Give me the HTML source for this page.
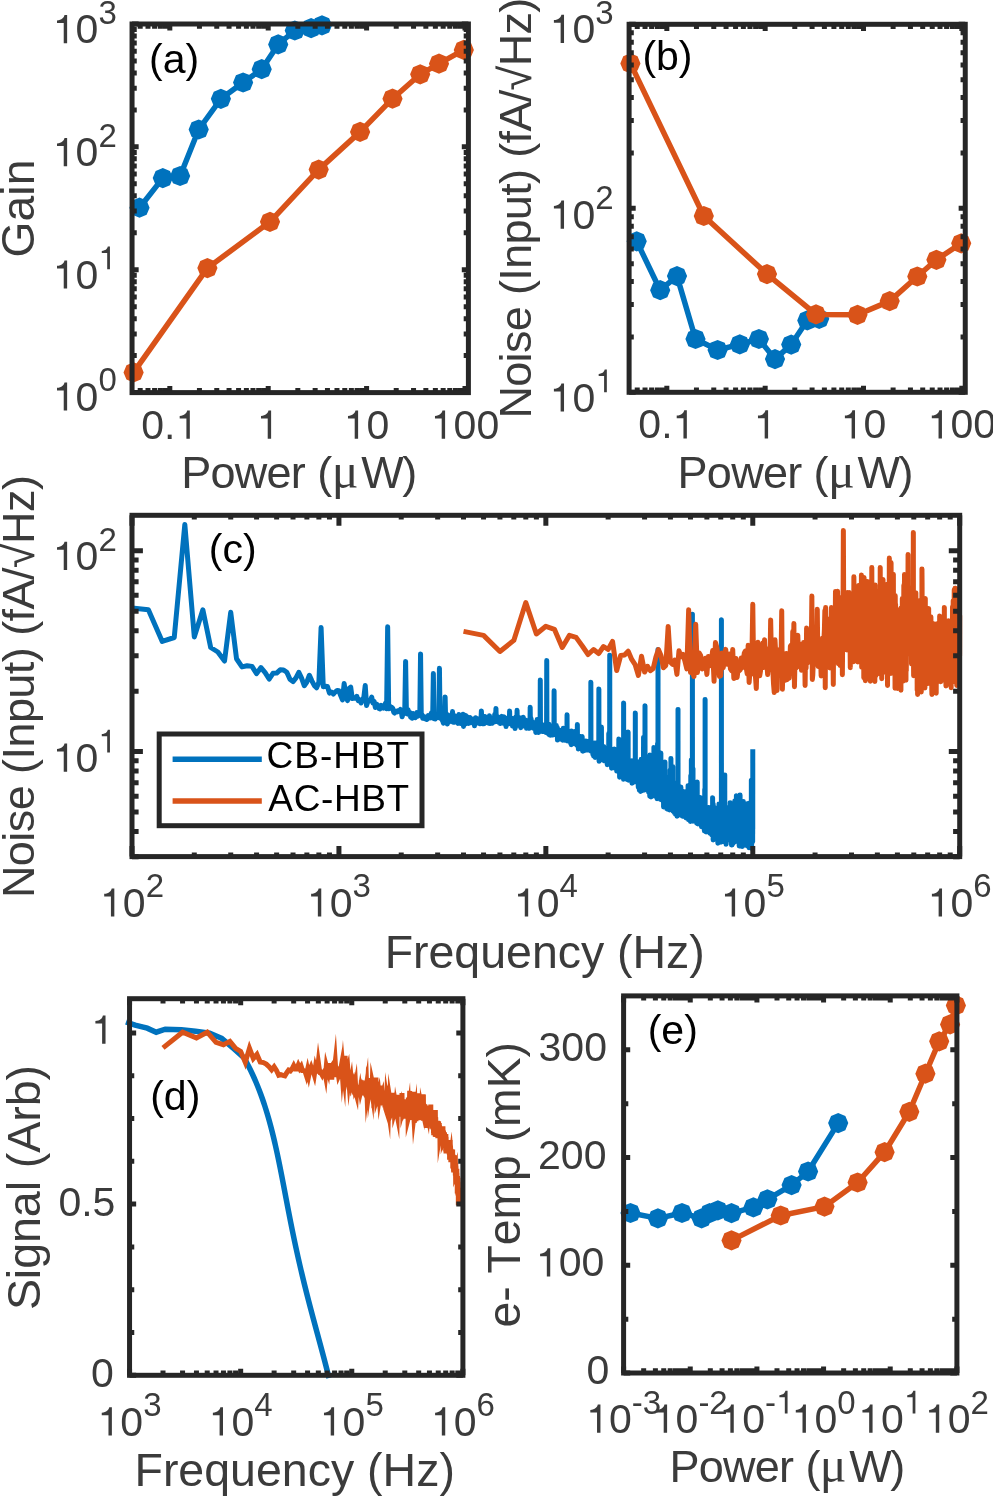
<!DOCTYPE html>
<html><head><meta charset="utf-8"><style>
html,body{margin:0;padding:0;background:#fff;overflow:hidden;}
svg{display:block;font-family:"Liberation Sans",sans-serif;font-kerning:none;will-change:transform;}
</style></head><body>
<svg width="993" height="1498" viewBox="0 0 993 1498">
<rect width="993" height="1498" fill="#fff"/>
<path d="M139.5 207.7 L162.8 178.1 L180.1 176 L198.7 129.5 L220.9 98.8 L243.1 82.5 L261.7 69.2 L278.2 44.4 L294.8 30.5 L311.1 28.1 L322 25.3" stroke="#0072BD" stroke-width="5.5" fill="none" stroke-linejoin="round" stroke-linecap="butt"/>
<path d="M139.5 197.6 L132.36 200.56 L129.4 207.7 L132.36 214.84 L139.5 217.8 L146.64 214.84 L149.6 207.7 L146.64 200.56ZM162.8 168 L155.66 170.96 L152.7 178.1 L155.66 185.24 L162.8 188.2 L169.94 185.24 L172.9 178.1 L169.94 170.96ZM180.1 165.9 L172.96 168.86 L170 176 L172.96 183.14 L180.1 186.1 L187.24 183.14 L190.2 176 L187.24 168.86ZM198.7 119.4 L191.56 122.36 L188.6 129.5 L191.56 136.64 L198.7 139.6 L205.84 136.64 L208.8 129.5 L205.84 122.36ZM220.9 88.7 L213.76 91.66 L210.8 98.8 L213.76 105.94 L220.9 108.9 L228.04 105.94 L231 98.8 L228.04 91.66ZM243.1 72.4 L235.96 75.36 L233 82.5 L235.96 89.64 L243.1 92.6 L250.24 89.64 L253.2 82.5 L250.24 75.36ZM261.7 59.1 L254.56 62.06 L251.6 69.2 L254.56 76.34 L261.7 79.3 L268.84 76.34 L271.8 69.2 L268.84 62.06ZM278.2 34.3 L271.06 37.26 L268.1 44.4 L271.06 51.54 L278.2 54.5 L285.34 51.54 L288.3 44.4 L285.34 37.26ZM294.8 20.4 L287.66 23.36 L284.7 30.5 L287.66 37.64 L294.8 40.6 L301.94 37.64 L304.9 30.5 L301.94 23.36ZM311.1 18 L303.96 20.96 L301 28.1 L303.96 35.24 L311.1 38.2 L318.24 35.24 L321.2 28.1 L318.24 20.96ZM322 15.2 L314.86 18.16 L311.9 25.3 L314.86 32.44 L322 35.4 L329.14 32.44 L332.1 25.3 L329.14 18.16Z" fill="#0072BD"/>
<path d="M133.6 372.4 L207.4 268.1 L270 221.8 L318.7 169.6 L360.1 131.9 L392.5 98.7 L420.2 74.3 L439 63.7 L463.8 49.9" stroke="#D95319" stroke-width="5.5" fill="none" stroke-linejoin="round" stroke-linecap="butt"/>
<path d="M133.6 362.3 L126.46 365.26 L123.5 372.4 L126.46 379.54 L133.6 382.5 L140.74 379.54 L143.7 372.4 L140.74 365.26ZM207.4 258 L200.26 260.96 L197.3 268.1 L200.26 275.24 L207.4 278.2 L214.54 275.24 L217.5 268.1 L214.54 260.96ZM270 211.7 L262.86 214.66 L259.9 221.8 L262.86 228.94 L270 231.9 L277.14 228.94 L280.1 221.8 L277.14 214.66ZM318.7 159.5 L311.56 162.46 L308.6 169.6 L311.56 176.74 L318.7 179.7 L325.84 176.74 L328.8 169.6 L325.84 162.46ZM360.1 121.8 L352.96 124.76 L350 131.9 L352.96 139.04 L360.1 142 L367.24 139.04 L370.2 131.9 L367.24 124.76ZM392.5 88.6 L385.36 91.56 L382.4 98.7 L385.36 105.84 L392.5 108.8 L399.64 105.84 L402.6 98.7 L399.64 91.56ZM420.2 64.2 L413.06 67.16 L410.1 74.3 L413.06 81.44 L420.2 84.4 L427.34 81.44 L430.3 74.3 L427.34 67.16ZM439 53.6 L431.86 56.56 L428.9 63.7 L431.86 70.84 L439 73.8 L446.14 70.84 L449.1 63.7 L446.14 56.56ZM463.8 39.8 L456.66 42.76 L453.7 49.9 L456.66 57.04 L463.8 60 L470.94 57.04 L473.9 49.9 L470.94 42.76Z" fill="#D95319"/>
<path d="M169.82 392.6V386M169.82 24V30.6M268.21 392.6V386M268.21 24V30.6M366.6 392.6V386M366.6 24V30.6M464.99 392.6V386M464.99 24V30.6M140.2 392.6V387.9M140.2 24V28.7M147.99 392.6V387.9M147.99 24V28.7M154.58 392.6V387.9M154.58 24V28.7M160.28 392.6V387.9M160.28 24V28.7M165.31 392.6V387.9M165.31 24V28.7M199.44 392.6V387.9M199.44 24V28.7M216.76 392.6V387.9M216.76 24V28.7M229.05 392.6V387.9M229.05 24V28.7M238.59 392.6V387.9M238.59 24V28.7M246.38 392.6V387.9M246.38 24V28.7M252.97 392.6V387.9M252.97 24V28.7M258.67 392.6V387.9M258.67 24V28.7M263.71 392.6V387.9M263.71 24V28.7M297.83 392.6V387.9M297.83 24V28.7M315.15 392.6V387.9M315.15 24V28.7M327.45 392.6V387.9M327.45 24V28.7M336.98 392.6V387.9M336.98 24V28.7M344.77 392.6V387.9M344.77 24V28.7M351.36 392.6V387.9M351.36 24V28.7M357.07 392.6V387.9M357.07 24V28.7M362.1 392.6V387.9M362.1 24V28.7M396.22 392.6V387.9M396.22 24V28.7M413.55 392.6V387.9M413.55 24V28.7M425.84 392.6V387.9M425.84 24V28.7M435.37 392.6V387.9M435.37 24V28.7M443.16 392.6V387.9M443.16 24V28.7M449.75 392.6V387.9M449.75 24V28.7M455.46 392.6V387.9M455.46 24V28.7M460.49 392.6V387.9M460.49 24V28.7M132.05 392.6H138.65M468.4 392.6H461.8M132.05 269.73H138.65M468.4 269.73H461.8M132.05 146.87H138.65M468.4 146.87H461.8M132.05 24H138.65M468.4 24H461.8M132.05 355.61H136.75M468.4 355.61H463.7M132.05 333.98H136.75M468.4 333.98H463.7M132.05 318.63H136.75M468.4 318.63H463.7M132.05 306.72H136.75M468.4 306.72H463.7M132.05 296.99H136.75M468.4 296.99H463.7M132.05 288.77H136.75M468.4 288.77H463.7M132.05 281.64H136.75M468.4 281.64H463.7M132.05 275.36H136.75M468.4 275.36H463.7M132.05 232.75H136.75M468.4 232.75H463.7M132.05 211.11H136.75M468.4 211.11H463.7M132.05 195.76H136.75M468.4 195.76H463.7M132.05 183.85H136.75M468.4 183.85H463.7M132.05 174.12H136.75M468.4 174.12H463.7M132.05 165.9H136.75M468.4 165.9H463.7M132.05 158.77H136.75M468.4 158.77H463.7M132.05 152.49H136.75M468.4 152.49H463.7M132.05 109.88H136.75M468.4 109.88H463.7M132.05 88.24H136.75M468.4 88.24H463.7M132.05 72.89H136.75M468.4 72.89H463.7M132.05 60.99H136.75M468.4 60.99H463.7M132.05 51.26H136.75M468.4 51.26H463.7M132.05 43.03H136.75M468.4 43.03H463.7M132.05 35.91H136.75M468.4 35.91H463.7M132.05 29.62H136.75M468.4 29.62H463.7" stroke="#262626" stroke-width="5.0" fill="none"/>
<rect x="132.05" y="24" width="336.35" height="368.6" stroke="#262626" stroke-width="5.0" fill="none" stroke-linejoin="miter"/>
<path transform="translate(52.82 43.3) scale(0.04100 -0.04100)" d="M266 0L349 0L349 688L285 688C270 620 220 565 102 556L102 493L266 493Z" fill="#3b3b3b"/>
<text x="75.62" y="43.3" font-size="41" fill="#3b3b3b">0</text>
<text x="98.42" y="24" font-size="33" text-anchor="start" fill="#3b3b3b">3</text>
<path transform="translate(52.82 166.3) scale(0.04100 -0.04100)" d="M266 0L349 0L349 688L285 688C270 620 220 565 102 556L102 493L266 493Z" fill="#3b3b3b"/>
<text x="75.62" y="166.3" font-size="41" fill="#3b3b3b">0</text>
<text x="98.42" y="147" font-size="33" text-anchor="start" fill="#3b3b3b">2</text>
<path transform="translate(52.82 288.6) scale(0.04100 -0.04100)" d="M266 0L349 0L349 688L285 688C270 620 220 565 102 556L102 493L266 493Z" fill="#3b3b3b"/>
<text x="75.62" y="288.6" font-size="41" fill="#3b3b3b">0</text>
<path transform="translate(98.42 269.3) scale(0.03300 -0.03300)" d="M266 0L349 0L349 688L285 688C270 620 220 565 102 556L102 493L266 493Z" fill="#3b3b3b"/>
<path transform="translate(52.82 410.6) scale(0.04100 -0.04100)" d="M266 0L349 0L349 688L285 688C270 620 220 565 102 556L102 493L266 493Z" fill="#3b3b3b"/>
<text x="75.62" y="410.6" font-size="41" fill="#3b3b3b">0</text>
<text x="98.42" y="391.3" font-size="33" text-anchor="start" fill="#3b3b3b">0</text>
<text x="141.32" y="438.7" font-size="41" fill="#3b3b3b">0.</text>
<path transform="translate(175.51 438.7) scale(0.04100 -0.04100)" d="M266 0L349 0L349 688L285 688C270 620 220 565 102 556L102 493L266 493Z" fill="#3b3b3b"/>
<path transform="translate(256.81 438.7) scale(0.04100 -0.04100)" d="M266 0L349 0L349 688L285 688C270 620 220 565 102 556L102 493L266 493Z" fill="#3b3b3b"/>
<path transform="translate(343.8 438.7) scale(0.04100 -0.04100)" d="M266 0L349 0L349 688L285 688C270 620 220 565 102 556L102 493L266 493Z" fill="#3b3b3b"/>
<text x="366.6" y="438.7" font-size="41" fill="#3b3b3b">0</text>
<path transform="translate(430.79 438.7) scale(0.04100 -0.04100)" d="M266 0L349 0L349 688L285 688C270 620 220 565 102 556L102 493L266 493Z" fill="#3b3b3b"/>
<text x="453.59" y="438.7" font-size="41" fill="#3b3b3b">00</text>
<text x="181.31" y="487.9" font-size="45" fill="#3b3b3b" textLength="124.54" lengthAdjust="spacing">Power</text>
<text x="317.31" y="487.9" font-size="45" text-anchor="start" fill="#3b3b3b">(</text>
<text x="331.75" y="487.9" font-size="50" fill="#3b3b3b" font-family="Liberation Serif">μ</text>
<text x="361.2" y="487.9" font-size="45" fill="#3b3b3b" textLength="55.99" lengthAdjust="spacing">W)</text>
<text transform="translate(33.8 257.43) rotate(-90)" x="0" y="0" font-size="46.3" fill="#3b3b3b" textLength="97.84" lengthAdjust="spacing">Gain</text>
<text x="149.1" y="72.7" font-size="41" text-anchor="start" fill="#000">(a)</text>
<path d="M636.7 241.3 L660.2 290.2 L677 276.1 L695.5 339 L717.6 350 L739.8 344.4 L758.9 339 L775 359.1 L791.2 344.6 L807.3 320.4 L819.2 318.8" stroke="#0072BD" stroke-width="5.5" fill="none" stroke-linejoin="round" stroke-linecap="butt"/>
<path d="M636.7 231.2 L629.56 234.16 L626.6 241.3 L629.56 248.44 L636.7 251.4 L643.84 248.44 L646.8 241.3 L643.84 234.16ZM660.2 280.1 L653.06 283.06 L650.1 290.2 L653.06 297.34 L660.2 300.3 L667.34 297.34 L670.3 290.2 L667.34 283.06ZM677 266 L669.86 268.96 L666.9 276.1 L669.86 283.24 L677 286.2 L684.14 283.24 L687.1 276.1 L684.14 268.96ZM695.5 328.9 L688.36 331.86 L685.4 339 L688.36 346.14 L695.5 349.1 L702.64 346.14 L705.6 339 L702.64 331.86ZM717.6 339.9 L710.46 342.86 L707.5 350 L710.46 357.14 L717.6 360.1 L724.74 357.14 L727.7 350 L724.74 342.86ZM739.8 334.3 L732.66 337.26 L729.7 344.4 L732.66 351.54 L739.8 354.5 L746.94 351.54 L749.9 344.4 L746.94 337.26ZM758.9 328.9 L751.76 331.86 L748.8 339 L751.76 346.14 L758.9 349.1 L766.04 346.14 L769 339 L766.04 331.86ZM775 349 L767.86 351.96 L764.9 359.1 L767.86 366.24 L775 369.2 L782.14 366.24 L785.1 359.1 L782.14 351.96ZM791.2 334.5 L784.06 337.46 L781.1 344.6 L784.06 351.74 L791.2 354.7 L798.34 351.74 L801.3 344.6 L798.34 337.46ZM807.3 310.3 L800.16 313.26 L797.2 320.4 L800.16 327.54 L807.3 330.5 L814.44 327.54 L817.4 320.4 L814.44 313.26ZM819.2 308.7 L812.06 311.66 L809.1 318.8 L812.06 325.94 L819.2 328.9 L826.34 325.94 L829.3 318.8 L826.34 311.66Z" fill="#0072BD"/>
<path d="M630.4 63.4 L703.8 216 L767 274.1 L816 314.4 L857.5 314.8 L889.7 301.1 L917.3 276.5 L936.4 259.8 L961.2 243.3" stroke="#D95319" stroke-width="5.5" fill="none" stroke-linejoin="round" stroke-linecap="butt"/>
<path d="M630.4 53.3 L623.26 56.26 L620.3 63.4 L623.26 70.54 L630.4 73.5 L637.54 70.54 L640.5 63.4 L637.54 56.26ZM703.8 205.9 L696.66 208.86 L693.7 216 L696.66 223.14 L703.8 226.1 L710.94 223.14 L713.9 216 L710.94 208.86ZM767 264 L759.86 266.96 L756.9 274.1 L759.86 281.24 L767 284.2 L774.14 281.24 L777.1 274.1 L774.14 266.96ZM816 304.3 L808.86 307.26 L805.9 314.4 L808.86 321.54 L816 324.5 L823.14 321.54 L826.1 314.4 L823.14 307.26ZM857.5 304.7 L850.36 307.66 L847.4 314.8 L850.36 321.94 L857.5 324.9 L864.64 321.94 L867.6 314.8 L864.64 307.66ZM889.7 291 L882.56 293.96 L879.6 301.1 L882.56 308.24 L889.7 311.2 L896.84 308.24 L899.8 301.1 L896.84 293.96ZM917.3 266.4 L910.16 269.36 L907.2 276.5 L910.16 283.64 L917.3 286.6 L924.44 283.64 L927.4 276.5 L924.44 269.36ZM936.4 249.7 L929.26 252.66 L926.3 259.8 L929.26 266.94 L936.4 269.9 L943.54 266.94 L946.5 259.8 L943.54 252.66ZM961.2 233.2 L954.06 236.16 L951.1 243.3 L954.06 250.44 L961.2 253.4 L968.34 250.44 L971.3 243.3 L968.34 236.16Z" fill="#D95319"/>
<path d="M666.84 392.3V385.7M666.84 24.3V30.9M765.18 392.3V385.7M765.18 24.3V30.9M863.51 392.3V385.7M863.51 24.3V30.9M961.84 392.3V385.7M961.84 24.3V30.9M637.24 392.3V387.6M637.24 24.3V29M645.03 392.3V387.6M645.03 24.3V29M651.61 392.3V387.6M651.61 24.3V29M657.31 392.3V387.6M657.31 24.3V29M662.34 392.3V387.6M662.34 24.3V29M696.45 392.3V387.6M696.45 24.3V29M713.76 392.3V387.6M713.76 24.3V29M726.05 392.3V387.6M726.05 24.3V29M735.58 392.3V387.6M735.58 24.3V29M743.36 392.3V387.6M743.36 24.3V29M749.95 392.3V387.6M749.95 24.3V29M755.65 392.3V387.6M755.65 24.3V29M760.68 392.3V387.6M760.68 24.3V29M794.78 392.3V387.6M794.78 24.3V29M812.09 392.3V387.6M812.09 24.3V29M824.38 392.3V387.6M824.38 24.3V29M833.91 392.3V387.6M833.91 24.3V29M841.7 392.3V387.6M841.7 24.3V29M848.28 392.3V387.6M848.28 24.3V29M853.98 392.3V387.6M853.98 24.3V29M859.01 392.3V387.6M859.01 24.3V29M893.11 392.3V387.6M893.11 24.3V29M910.43 392.3V387.6M910.43 24.3V29M922.71 392.3V387.6M922.71 24.3V29M932.24 392.3V387.6M932.24 24.3V29M940.03 392.3V387.6M940.03 24.3V29M946.61 392.3V387.6M946.61 24.3V29M952.32 392.3V387.6M952.32 24.3V29M957.35 392.3V387.6M957.35 24.3V29M629.1 392.3H635.7M965.25 392.3H958.65M629.1 208.3H635.7M965.25 208.3H958.65M629.1 24.3H635.7M965.25 24.3H958.65M629.1 336.91H633.8M965.25 336.91H960.55M629.1 304.51H633.8M965.25 304.51H960.55M629.1 281.52H633.8M965.25 281.52H960.55M629.1 263.69H633.8M965.25 263.69H960.55M629.1 249.12H633.8M965.25 249.12H960.55M629.1 236.8H633.8M965.25 236.8H960.55M629.1 226.13H633.8M965.25 226.13H960.55M629.1 216.72H633.8M965.25 216.72H960.55M629.1 152.91H633.8M965.25 152.91H960.55M629.1 120.51H633.8M965.25 120.51H960.55M629.1 97.52H633.8M965.25 97.52H960.55M629.1 79.69H633.8M965.25 79.69H960.55M629.1 65.12H633.8M965.25 65.12H960.55M629.1 52.8H633.8M965.25 52.8H960.55M629.1 42.13H633.8M965.25 42.13H960.55M629.1 32.72H633.8M965.25 32.72H960.55" stroke="#262626" stroke-width="5.0" fill="none"/>
<rect x="629.1" y="24.3" width="336.15" height="368" stroke="#262626" stroke-width="5.0" fill="none" stroke-linejoin="miter"/>
<path transform="translate(549.72 42.9) scale(0.04100 -0.04100)" d="M266 0L349 0L349 688L285 688C270 620 220 565 102 556L102 493L266 493Z" fill="#3b3b3b"/>
<text x="572.52" y="42.9" font-size="41" fill="#3b3b3b">0</text>
<text x="595.32" y="23.6" font-size="33" text-anchor="start" fill="#3b3b3b">3</text>
<path transform="translate(549.72 228.7) scale(0.04100 -0.04100)" d="M266 0L349 0L349 688L285 688C270 620 220 565 102 556L102 493L266 493Z" fill="#3b3b3b"/>
<text x="572.52" y="228.7" font-size="41" fill="#3b3b3b">0</text>
<text x="595.32" y="209.4" font-size="33" text-anchor="start" fill="#3b3b3b">2</text>
<path transform="translate(549.72 411.6) scale(0.04100 -0.04100)" d="M266 0L349 0L349 688L285 688C270 620 220 565 102 556L102 493L266 493Z" fill="#3b3b3b"/>
<text x="572.52" y="411.6" font-size="41" fill="#3b3b3b">0</text>
<path transform="translate(595.32 392.3) scale(0.03300 -0.03300)" d="M266 0L349 0L349 688L285 688C270 620 220 565 102 556L102 493L266 493Z" fill="#3b3b3b"/>
<text x="638.35" y="438.4" font-size="41" fill="#3b3b3b">0.</text>
<path transform="translate(672.54 438.4) scale(0.04100 -0.04100)" d="M266 0L349 0L349 688L285 688C270 620 220 565 102 556L102 493L266 493Z" fill="#3b3b3b"/>
<path transform="translate(753.78 438.4) scale(0.04100 -0.04100)" d="M266 0L349 0L349 688L285 688C270 620 220 565 102 556L102 493L266 493Z" fill="#3b3b3b"/>
<path transform="translate(840.71 438.4) scale(0.04100 -0.04100)" d="M266 0L349 0L349 688L285 688C270 620 220 565 102 556L102 493L266 493Z" fill="#3b3b3b"/>
<text x="863.51" y="438.4" font-size="41" fill="#3b3b3b">0</text>
<path transform="translate(927.64 438.4) scale(0.04100 -0.04100)" d="M266 0L349 0L349 688L285 688C270 620 220 565 102 556L102 493L266 493Z" fill="#3b3b3b"/>
<text x="950.44" y="438.4" font-size="41" fill="#3b3b3b">00</text>
<text x="677.61" y="487.8" font-size="45" fill="#3b3b3b" textLength="124.54" lengthAdjust="spacing">Power</text>
<text x="813.61" y="487.8" font-size="45" text-anchor="start" fill="#3b3b3b">(</text>
<text x="828.05" y="487.8" font-size="50" fill="#3b3b3b" font-family="Liberation Serif">μ</text>
<text x="857.5" y="487.8" font-size="45" fill="#3b3b3b" textLength="55.99" lengthAdjust="spacing">W)</text>
<text transform="translate(531.2 418.59) rotate(-90)" x="0" y="0" font-size="45" fill="#3b3b3b" textLength="420.88" lengthAdjust="spacing">Noise (Input) (fA/√Hz)</text>
<text x="642.4" y="69.8" font-size="41" text-anchor="start" fill="#000">(b)</text>
<path d="M132 608 L148.38 609.7 L162.24 641.4 L174.24 637.5 L184.82 524.5 L194.29 636.9 L202.86 609.8 L210.68 647.5 L217.87 652 L224.53 661 L230.73 612.2 L236.53 658.74 L241.98 666.88 L247.11 665.77 L251.97 666.38 L256.58 673.65 L260.97 667.58 L265.15 672.58 L269.14 679.02 L272.97 673.29 L276.63 673.1 L280.16 669.81 L283.55 669.98 L286.82 672.3 L289.97 679.21 L293.02 681.62 L295.97 677.9 L298.82 672.27 L301.58 678.06 L304.27 685.7 L306.87 681.96 L309.4 675.23 L311.87 680.79 L314.26 685.39 L316.6 687.81 L318.87 682.3 L321.09 627.5 L323.26 686.78 L325.37 686.2 L327.44 686.48 L329.46 693.08 L331.43 692.03 L333.36 694.03 L335.26 691.93 L337.11 690.53 L338.93 690.81 L340.7 695.67 L342.45 699.91 L344.16 683.5 L345.84 695.23 L347.49 700.64 L349.11 688.41 L350.7 687.11 L352.26 698.56 L353.8 698.18 L355.31 698.22 L356.8 696.27 L358.26 700.71 L359.69 699.85 L361.11 702.95 L362.5 700.03 L363.87 697.14 L365.23 685.5 L366.56 705.54 L367.87 701.45 L369.16 700.71 L370.44 700.39 L371.69 697 L372.93 702.99 L374.16 701.41 L375.36 707.56 L376.55 704 L377.73 705.18 L378.89 708.41 L380.03 708.87 L381.16 705.4 L382.28 706.91 L383.38 708.1 L384.47 706.34 L385.55 703.1 L386.61 708.81 L387.66 626.7 L388.7 708.85 L389.73 706.12 L390.74 708.03 L391.75 707.41 L392.74 708.33 L393.72 712.21 L394.69 713.01 L395.66 711.32 L396.61 711.31 L397.55 711.86 L398.48 710.54 L399.4 710.64 L400.31 709.52 L401.22 711.18 L402.11 716.76 L403 713.8 L403.87 711.24 L404.74 711.17 L405.6 661.4 L406.45 713.6 L407.3 713.87 L408.13 709.81 L408.96 714.54 L409.78 712.3 L410.59 717.2 L411.4 714.44 L412.2 718.33 L412.99 713.42 L413.78 714.03 L414.55 715.63 L415.32 717.63 L416.09 716.68 L416.85 712.61 L417.6 716.18 L418.35 716 L419.09 715.13 L419.82 714.8 L420.55 653.9 L421.27 715.58 L421.98 714.54 L422.7 718.19 L423.4 717.03 L424.1 716.59 L424.79 718.76 L425.48 718.11 L426.17 717.86 L426.84 719.42 L427.52 717.8 L428.18 715.61 L428.85 716.31 L429.51 715.96 L430.16 717.86 L430.81 714.66 L431.45 712.8 L432.09 717.74 L432.73 714.15 L433.36 673.5 L433.98 718.65 L434.61 715.91 L435.22 719.09 L435.84 716.48 L436.45 714.99 L437.05 714.72 L437.65 716.67 L438.25 717.36 L438.84 715.96 L439.43 668.2 L440.02 714.17 L440.6 718.33 L441.18 713.56 L441.75 717.88 L442.32 720.32 L442.89 721.44 L443.45 723.18 L444.01 714.4 L444.57 720.72 L445.12 696.9 L445.67 721.43 L446.22 716.27 L446.76 719.99 L447.3 724.02 L447.84 714.84 L448.37 720.33 L448.9 722.14 L449.43 717.17 L449.95 720.78 L450.47 716.22 L450.99 716.98 L451.51 717.01 L452.02 719.89 L452.53 711.56 L453.03 722.13 L453.54 716.83 L454.04 719.16 L454.54 722.31 L455.03 721.22 L455.52 715.89 L456.01 721.62 L456.5 718.39 L456.98 720.91 L457.47 720.71 L457.95 723.41 L458.42 720.27 L458.9 714.6 L459.37 716.04 L459.84 722.19 L460.3 719.35 L460.77 723.48 L461.23 720.99 L461.69 718.04 L462.15 723.46 L462.6 717.94 L463.06 714.3 L463.51 726.51 L463.95 714.78 L464.4 722.38 L464.84 723.32 L465.29 721 L465.73 715.58 L466.16 723.69 L466.6 716.36 L467.03 716.69 L467.46 719.68 L467.89 723.18 L468.32 721.75 L468.74 723.34 L469.17 719.58 L469.59 720.44 L470.01 717.54 L470.42 720.02 L470.84 722.75 L471.25 720.04 L471.66 722.34 L472.07 719.19 L472.48 719.12 L472.88 720.97 L473.29 720.26 L473.69 722.56 L474.09 721.32 L474.49 725.85 L474.89 720.12 L475.28 720.08 L475.67 717.72 L476.07 720.76 L476.46 722.63 L476.84 718.55 L477.23 720.5 L477.62 722.65 L478 720.24 L478.38 719.13 L478.76 723.28 L479.14 720.81 L479.52 721.62 L479.89 723.73 L480.26 723.63 L480.64 719.52 L481.01 719.02 L481.38 710.89 L481.74 720.05 L482.11 715.28 L482.47 723.8 L482.84 720.41 L483.2 722.3 L483.56 717.21 L483.92 723.71 L484.28 718.74 L484.63 719.99 L484.99 716.59 L485.34 719.8 L485.69 719.62 L486.04 719.72 L486.39 721.31 L486.74 720.32 L487.08 722.63 L487.43 718.94 L487.77 717.59 L488.11 720.05 L488.46 721.65 L488.8 723.17 L489.13 722.07 L489.47 715.65 L489.81 720.94 L490.14 723.58 L490.48 720.13 L490.81 718.7 L491.14 720.69 L491.47 718.71 L491.8 721.45 L492.12 719.86 L492.45 723.21 L492.78 721.05 L493.1 718.13 L493.42 721.26 L493.74 722.02 L494.06 718.46 L494.38 718.79 L494.7 714.4 L495.02 721.84 L495.33 718.38 L495.65 714.84 L495.96 708.38 L496.28 719.18 L496.59 721.4 L496.9 719.45 L497.21 720.7 L497.51 717.15 L497.82 716.61 L498.13 721.57 L498.43 720.67 L498.74 719.5 L499.04 722.37 L499.34 717.45 L499.64 718.6 L499.94 721.74 L500.24 723.55 L500.54 719.62 L500.84 723.33 L501.13 718.39 L501.43 720.49 L501.72 719.43 L502.02 716.37 L502.31 720.49 L502.6 722.04 L502.89 719.7 L503.18 719.93 L503.47 723.23 L503.76 717.4 L504.04 716.9 L504.33 718.83 L504.61 717.66 L504.9 723.42 L505.18 721.15 L505.46 718.55 L505.74 719.17 L506.02 726.59 L506.3 719.27 L506.58 718.98 L506.86 721.45 L507.14 722.26 L507.41 721.36 L507.69 718.83 L507.96 718.31 L508.24 722.38 L508.51 720.94 L508.78 717.33 L509.05 723.86 L509.32 723 L509.59 711 L509.86 720.7 L510.13 721.89 L510.4 719.81 L510.66 718.32 L510.93 722.26 L511.19 718.19 L511.46 722.51 L511.72 718.27 L511.98 721.46 L512.24 721.43 L512.5 725.99 L512.76 719.33 L513.02 718.54 L513.28 720.41 L513.54 719.32 L513.8 720.63 L514.05 723.08 L514.31 723.96 L514.56 726.13 L514.82 720.46 L515.07 728.58 L515.32 727.06 L515.58 721.87 L515.83 716.89 L516.08 722.25 L516.33 722.67 L516.58 716.99 L516.83 722.76 L517.07 710.3 L517.32 720.77 L517.57 724.24 L517.81 725.21 L518.06 721.63 L518.3 723.42 L518.55 721.3 L518.79 721.02 L519.03 723.18 L519.28 724.32 L519.52 721.69 L519.76 717.68 L520 724.61 L520.24 719.27 L520.48 723.56 L520.71 727.7 L520.95 723.3 L521.19 720.43 L521.42 719.8 L521.66 726.38 L521.89 723.47 L522.13 724.9 L522.36 725.91 L522.6 723.52 L522.83 722.91 L523.06 721.35 L523.29 717.13 L523.52 719.99 L523.75 723.68 L523.98 723.45 L524.21 724.96 L524.44 723.66 L524.67 724.43 L524.89 726.06 L525.12 721.86 L525.35 723.42 L525.57 720.1 L525.8 726.71 L526.02 724.37 L526.25 725.56 L526.47 728.3 L526.69 727.16 L526.91 724.28 L527.13 726.5 L527.36 720.84 L527.58 725.67 L527.8 724.95 L528.02 720.46 L528.23 728.13 L528.45 722.9 L528.67 726.53 L528.89 723.71 L529.11 727.41 L529.32 728.29 L529.54 722.76 L529.75 720.97 L529.97 724.65 L530.18 707.3 L530.4 724.13 L530.61 723.55 L530.82 726.49 L531.03 718.31 L531.25 723.57 L531.46 721.72 L531.67 726.21 L531.88 723.53 L532.09 722.58 L532.3 724.65 L532.5 721.73 L532.71 725.66 L532.92 723.93 L533.13 724.79 L533.34 723.93 L533.54 728.36 L533.75 725.67 L533.95 727.43 L534.16 727.36 L534.36 723.94 L534.57 727.72 L534.77 727.17 L534.97 727.13 L535.18 725.24 L535.38 725.22 L535.58 728.58 L535.78 732.45 L535.98 724.26 L536.18 728.05 L536.38 725.63 L536.58 728.85 L536.78 727.95 L536.98 729.72 L537.18 719.53 L537.37 725.23 L537.57 724.2 L537.77 726.69 L537.97 725.03 L538.16 725.31 L538.36 729.05 L538.55 732.51 L538.75 719.84 L538.94 726.42 L539.13 728.22 L539.33 727.41 L539.52 726.47 L539.71 723.68 L539.91 724.88 L540.1 729.64 L540.29 680.1 L540.48 727.96 L540.67 725.36 L540.86 728.06 L541.05 727.15 L541.24 729.44 L541.43 728.27 L541.62 726.2 L541.81 728.58 L541.99 724.69 L542.18 730.48 L542.37 731.58 L542.56 724.83 L542.74 729.49 L542.93 725.45 L543.11 731.47 L543.3 731.03 L543.48 727.79 L543.67 731.4 L543.85 727.3 L544.03 726.73 L544.22 726.99 L544.4 728.28 L544.58 727.8 L544.77 729.24 L544.95 727.03 L545.13 731.13 L545.31 731.93 L545.49 727.52 L545.67 724.81 L545.85 731.21 L546.03 732.48 L546.21 728.68 L546.39 725.39 L546.57 730.04 L546.74 660.4 L546.92 723.76 L547.1 730.81 L547.28 728.5 L547.45 726.92 L547.63 731.02 L547.81 725.68 L547.98 730.51 L548.16 733.6 L548.33 730.24 L548.51 727.11 L548.68 724.43 L548.85 725.97 L549.03 724.32 L549.2 734.77 L549.37 729.22 L549.55 726.85 L549.72 726.12 L549.89 726.86 L550.06 729.13 L550.23 726.28 L550.41 735.35 L550.58 728 L550.75 727.93 L550.92 731.31 L551.09 734.86 L551.26 734.52 L551.42 729 L551.59 731.33 L551.76 731.05 L551.93 732.26 L552.1 731.46 L552.27 727.8 L552.43 726.86 L552.6 731.35 L552.77 727.17 L552.93 735.12 L553.1 731.05 L553.26 727.78 L553.43 730.01 L553.59 729.47 L553.76 730.69 L553.92 734.1 L554.09 690.7 L554.25 725.37 L554.42 732.33 L554.58 730.75 L554.74 731.86 L554.9 732.79 L555.07 730.86 L555.23 734 L555.39 728.69 L555.55 731.76 L555.71 728.97 L555.87 728.06 L556.03 733.64 L556.19 733.53 L556.35 725.59 L556.51 728.23 L556.67 732.78 L556.83 735.3 L556.99 729.8 L557.15 731.38 L557.31 727.48 L557.47 740.1 L557.63 733.62 L557.78 735 L557.94 734.29 L558.1 735.22 L558.25 734.21 L558.41 731.21 L558.57 734.73 L558.72 732.63 L558.88 736.61 L559.03 730.07 L559.19 730.74 L559.34 734.68 L559.5 736.73 L559.65 733.08 L559.81 730.33 L559.96 732.3 L560.11 731.13 L560.27 739.02 L560.42 735.84 L560.57 737.11 L560.72 734.05 L560.88 731.33 L561.03 737.05 L561.18 738.69 L561.33 735.27 L561.48 733.37 L561.63 737.05 L561.78 732.39 L561.93 736.17 L562.08 731.44 L562.23 730.67 L562.38 735.76 L562.53 735.09 L562.68 740.27 L562.83 733.22 L562.98 734.29 L563.13 730.57 L563.28 728.26 L563.42 728.63 L563.57 736.02 L563.72 730.75 L563.87 738.33 L564.01 739.37 L564.16 733.88 L564.31 740.29 L564.45 735.7 L564.6 738.7 L564.75 734.37 L564.89 738.31 L565.04 732.18 L565.18 737.36 L565.33 733.9 L565.47 735.05 L565.62 737.6 L565.76 736.18 L565.9 735.45 L566.05 738.14 L566.19 738.46 L566.33 731.39 L566.48 737.8 L566.62 738.24 L566.76 733.67 L566.9 737.46 L567.05 714.8 L567.19 741.04 L567.33 735.64 L567.47 736.23 L567.61 740.46 L567.75 736.16 L567.89 738.65 L568.03 733.36 L568.17 734.98 L568.31 732.37 L568.45 736.3 L568.59 740.42 L568.73 737.85 L568.87 740.08 L569.01 733.92 L569.15 734.46 L569.29 735.89 L569.43 739.34 L569.57 738.71 L569.7 737.57 L569.84 739.72 L569.98 737.26 L570.12 737.76 L570.25 742.15 L570.39 736.05 L570.53 738.63 L570.66 743.36 L570.8 738.5 L570.94 740.54 L571.07 736.33 L571.21 744.76 L571.34 731.11 L571.48 734.82 L571.61 735.15 L571.75 743.93 L571.88 739.87 L572.02 737.93 L572.15 734.68 L572.29 740.11 L572.42 739.36 L572.55 736.8 L572.69 734.26 L572.82 735.6 L572.95 739.96 L573.09 740.34 L573.22 739.64 L573.35 738.97 L573.48 733.76 L573.61 739.76 L573.75 736.3 L573.88 739.87 L574.01 741.31 L574.14 737.66 L574.27 736.6 L574.4 743.24 L574.53 741.21 L574.66 738.05 L574.79 731.57 L574.92 740.1 L575.05 742.38 L575.18 744.05 L575.31 738.25 L575.44 738.43 L575.57 739.15 L575.7 743.39 L575.83 736.89 L575.96 740.42 L576.09 737.83 L576.22 741.79 L576.34 735.91 L576.47 742.27 L576.6 739.49 L576.73 740.44 L576.85 742.95 L576.98 745.03 L577.11 735.83 L577.24 744.71 L577.36 724.6 L577.49 740.6 L577.62 746.2 L577.74 742.3 L577.87 745.97 L577.99 739.88 L578.12 739.05 L578.24 745.94 L578.37 749.06 L578.49 744.14 L578.62 745.04 L578.74 740.65 L578.87 737.94 L578.99 741.59 L579.12 747.28 L579.24 736.38 L579.36 740.9 L579.49 736.33 L579.61 742.99 L579.74 745.55 L579.86 738.71 L579.98 741.49 L580.1 747.21 L580.23 742.66 L580.35 738.97 L580.47 738.78 L580.59 736.56 L580.72 745.72 L580.84 740.83 L580.96 746.75 L581.08 746.21 L581.2 741.29 L581.32 741.78 L581.44 746.1 L581.57 744.11 L581.69 744.56 L581.81 738.38 L581.93 746.74 L582.05 741.02 L582.17 736.53 L582.29 741.98 L582.41 745.43 L582.53 750.95 L582.65 742.96 L582.77 739.9 L582.88 751.22 L583 744.88 L583.12 743.56 L583.24 740.97 L583.36 741.26 L583.48 749.42 L583.6 743.77 L583.71 742.96 L583.83 743.11 L583.95 749.95 L584.07 742.97 L584.18 747 L584.3 745.88 L584.42 745.85 L584.54 742.27 L584.65 747.34 L584.77 750.5 L584.89 745.14 L585 742.37 L585.12 741.22 L585.23 746.11 L585.35 744.66 L585.47 745.26 L585.58 745.7 L585.7 740.91 L585.81 748.33 L585.93 746.6 L586.04 745.65 L586.16 746.71 L586.27 749.03 L586.39 746.24 L586.5 743.35 L586.62 749.99 L586.73 744.83 L586.84 743.93 L586.96 741.26 L587.07 746.44 L587.18 743.06 L587.3 744.84 L587.41 748.05 L587.52 746.75 L587.64 750.02 L587.75 747.75 L587.86 745.5 L587.98 745.8 L588.09 745.28 L588.2 749.1 L588.31 747.11 L588.42 745.76 L588.54 749.91 L588.65 747.53 L588.76 745.75 L588.87 742.4 L588.98 748.81 L589.09 748.22 L589.2 747.66 L589.31 746.14 L589.43 744.89 L589.54 746.93 L589.65 748.48 L589.76 747.36 L589.87 747.36 L589.98 746.36 L590.09 749.04 L590.2 748.74 L590.31 745.56 L590.42 750.56 L590.53 750.72 L590.63 750.84 L590.74 747.77 L590.85 682.3 L590.96 744.45 L591.07 750.84 L591.18 741.28 L591.29 747.12 L591.4 747.33 L591.5 751.37 L591.61 748.55 L591.72 745.36 L591.83 743.85 L591.94 746.23 L592.04 749.09 L592.15 748.96 L592.26 748.15 L592.37 746.54 L592.47 748.19 L592.58 752.34 L592.69 745.24 L592.79 749.15 L592.9 754.61 L593.01 751.02 L593.11 747.6 L593.22 751.47 L593.32 746.66 L593.43 749.31 L593.54 754.7 L593.64 755.93 L593.75 743.5 L593.85 751.89 L593.96 756.28 L594.06 747.65 L594.17 750.49 L594.27 754.9 L594.38 747.95 L594.48 751.3 L594.59 749.55 L594.69 743.03 L594.8 751.06 L594.9 749.23 L595 753.21 L595.11 757.38 L595.21 752.43 L595.32 748.75 L595.42 751.7 L595.52 750.86 L595.63 753.83 L595.73 745.08 L595.83 746.09 L595.94 742.97 L596.04 752.52 L596.14 750.32 L596.24 748.12 L596.35 747.85 L596.45 748.45 L596.55 747.2 L596.65 749.43 L596.75 748.84 L596.86 755.73 L596.96 751.89 L597.06 747.78 L597.16 748.67 L597.26 755.22 L597.36 752.54 L597.47 752.01 L597.57 753.61 L597.67 756.84 L597.77 746.56 L597.87 748.34 L597.97 744.7 L598.07 753 L598.17 749.81 L598.27 748.76 L598.37 748.46 L598.47 753.9 L598.57 750.84 L598.67 749.43 L598.77 756.14 L598.87 689.1 L598.97 746.79 L599.07 761.31 L599.17 750.23 L599.27 749.61 L599.37 748.95 L599.47 751.22 L599.57 754.73 L599.67 754.67 L599.76 753.92 L599.86 750.84 L599.96 746.27 L600.06 753.05 L600.16 757.8 L600.26 756.14 L600.35 751.45 L600.45 755.21 L600.55 750.69 L600.65 752 L600.75 747.51 L600.84 751.08 L600.94 752.87 L601.04 751.72 L601.13 755.39 L601.23 759.74 L601.33 757.61 L601.43 727.11 L601.52 749.72 L601.62 750.07 L601.72 748.83 L601.81 752.82 L601.91 754.37 L602 753.48 L602.1 753.56 L602.2 753.46 L602.29 752.36 L602.39 750 L602.48 759.75 L602.58 757.13 L602.68 749.45 L602.77 749.49 L602.87 750.79 L602.96 753.28 L603.06 758.19 L603.15 757.26 L603.25 757.52 L603.34 757.64 L603.44 757.76 L603.53 756.32 L603.63 755.24 L603.72 752.98 L603.81 746.5 L603.91 753.01 L604 760.82 L604.1 751.43 L604.19 751.12 L604.28 757.79 L604.38 754.05 L604.47 751.82 L604.57 760.11 L604.66 756.37 L604.75 756.95 L604.85 751.62 L604.94 755.97 L605.03 755.52 L605.13 757.2 L605.22 758.76 L605.31 758.71 L605.4 754.84 L605.5 757 L605.59 749.51 L605.68 756.9 L605.77 757.11 L605.87 752.72 L605.96 751.17 L606.05 754.16 L606.14 749.42 L606.23 755.89 L606.33 755.73 L606.42 750.61 L606.51 754.78 L606.6 759.07 L606.69 759.09 L606.78 758.91 L606.87 754.11 L606.96 753.36 L607.06 753.17 L607.15 757.33 L607.24 764.75 L607.33 760.82 L607.42 761.63 L607.51 760.68 L607.6 748.23 L607.69 754.22 L607.78 753.27 L607.87 760.43 L607.96 762.33 L608.05 752.39 L608.14 755.41 L608.23 757.65 L608.32 753.24 L608.41 752.68 L608.5 752.5 L608.59 759.21 L608.68 751.58 L608.77 733.52 L608.86 755.91 L608.95 758.8 L609.03 762.25 L609.12 752.77 L609.21 752.17 L609.3 757.56 L609.39 751.3 L609.48 752.64 L609.57 755.33 L609.66 756.54 L609.74 655.2 L609.83 754.27 L609.92 758.5 L610.01 761.85 L610.1 747.56 L610.18 761.87 L610.27 760.12 L610.36 751.62 L610.45 750.01 L610.53 758.36 L610.62 754.78 L610.71 757.31 L610.8 760.59 L610.88 755.24 L610.97 757.69 L611.06 759.16 L611.15 761.09 L611.23 765.05 L611.32 764.88 L611.41 758.48 L611.49 756.44 L611.58 768.18 L611.67 760.53 L611.75 759.67 L611.84 752.9 L611.92 761.42 L612.01 754.51 L612.1 756.03 L612.18 752.15 L612.27 755.92 L612.35 758.64 L612.44 751.63 L612.53 754.46 L612.61 758.26 L612.7 752.94 L612.78 753.06 L612.87 755.06 L612.95 752.51 L613.04 761.86 L613.12 754.56 L613.21 762.75 L613.29 763.56 L613.38 753.84 L613.46 759.65 L613.55 757.33 L613.63 754.35 L613.72 758.16 L613.8 758.68 L613.88 763.2 L613.97 764.76 L614.05 754.9 L614.14 758.23 L614.22 762.71 L614.3 765.85 L614.39 748.88 L614.47 766.51 L614.56 759.76 L614.64 767.9 L614.72 758.71 L614.81 756.86 L614.89 761.1 L614.97 766.55 L615.06 761.2 L615.14 749.86 L615.22 764.5 L615.31 753.58 L615.39 756.69 L615.47 755.88 L615.55 752.69 L615.64 755.59 L615.72 756.94 L615.8 758.84 L615.89 761.63 L615.97 760.34 L616.05 754.83 L616.13 761.25 L616.21 766.97 L616.3 766.94 L616.38 763.04 L616.46 765.5 L616.54 766.93 L616.62 769.33 L616.71 771.07 L616.79 761.21 L616.87 761.53 L616.95 770.24 L617.03 770.77 L617.11 770.76 L617.19 751.54 L617.28 762.18 L617.36 750.16 L617.44 767.08 L617.52 763.8 L617.6 763.86 L617.68 762.99 L617.76 770.31 L617.84 762.37 L617.92 769.13 L618 766.8 L618.08 765.89 L618.16 766.5 L618.24 764.81 L618.33 758.78 L618.41 768.04 L618.49 768.11 L618.57 763.83 L618.65 768.37 L618.73 769.32 L618.81 739 L618.88 764.16 L618.96 762.69 L619.04 760.4 L619.12 766.78 L619.2 760.86 L619.28 763.04 L619.36 766.63 L619.44 767.25 L619.52 767.18 L619.6 777.18 L619.68 763.06 L619.76 767.06 L619.84 759.56 L619.92 768.42 L619.99 772.01 L620.07 772.37 L620.15 762.75 L620.23 764.64 L620.31 772.74 L620.39 765.69 L620.47 771.23 L620.54 761.15 L620.62 773.54 L620.7 771.71 L620.78 768.79 L620.86 762.19 L620.93 765.58 L621.01 767.25 L621.09 767.88 L621.17 765.97 L621.25 765.41 L621.32 767.61 L621.4 774 L621.48 756.06 L621.56 759.45 L621.63 758.57 L621.71 763.13 L621.79 757.59 L621.87 769.77 L621.94 767.38 L622.02 765.56 L622.1 763.33 L622.17 767.81 L622.25 767.96 L622.33 768.8 L622.4 763.2 L622.48 770.57 L622.56 759.33 L622.63 773.85 L622.71 753.11 L622.79 764.08 L622.86 760.87 L622.94 771.54 L623.01 759.41 L623.09 777.14 L623.17 759.15 L623.24 778.33 L623.32 769.9 L623.39 767.69 L623.47 769.9 L623.55 779.37 L623.62 703.1 L623.7 755.65 L623.77 774.12 L623.85 768.98 L623.92 759.05 L624 771.9 L624.07 761.3 L624.15 768.85 L624.23 769.16 L624.3 764.43 L624.38 771.47 L624.45 762.47 L624.53 769.07 L624.6 765.11 L624.67 767.11 L624.75 778.57 L624.82 768.78 L624.9 762.3 L624.97 767.6 L625.05 764.09 L625.12 768.45 L625.2 769.22 L625.27 768.83 L625.35 768.86 L625.42 765.47 L625.49 770.92 L625.57 774.28 L625.64 765.15 L625.72 768.25 L625.79 768.94 L625.86 775.5 L625.94 774.58 L626.01 764.71 L626.08 769.13 L626.16 760.58 L626.23 763.51 L626.3 768.92 L626.38 772.33 L626.45 774.15 L626.52 767.23 L626.6 761.52 L626.67 771.19 L626.74 768.08 L626.82 771.41 L626.89 769.98 L626.96 773.08 L627.04 772.78 L627.11 773.86 L627.18 766.69 L627.25 774.77 L627.33 766.51 L627.4 769.8 L627.47 779.67 L627.54 771.37 L627.62 762.96 L627.69 777.73 L627.76 775.05 L627.83 775.86 L627.91 770.65 L627.98 771.51 L628.05 768.33 L628.12 731.91 L628.19 778.21 L628.27 767.67 L628.34 767.07 L628.41 767.31 L628.48 780.22 L628.55 774.76 L628.62 767.82 L628.7 769.66 L628.77 772.8 L628.84 774.9 L628.91 760.98 L628.98 775.11 L629.05 768.85 L629.12 766.25 L629.19 767.95 L629.27 774.62 L629.34 780.09 L629.41 771.07 L629.48 773.4 L629.55 765.71 L629.62 773.1 L629.69 775 L629.76 762 L629.83 767.53 L629.9 774.92 L629.97 760.55 L630.04 768.41 L630.11 773.95 L630.18 761.01 L630.25 768.37 L630.33 770.96 L630.4 775.73 L630.47 763.46 L630.54 777.04 L630.61 772.51 L630.68 777.6 L630.75 777.45 L630.82 772.81 L630.88 773.66 L630.95 761.03 L631.02 763.27 L631.09 765.26 L631.16 769.04 L631.23 776.38 L631.3 760.91 L631.37 769.29 L631.44 763.6 L631.51 762.27 L631.58 779.66 L631.65 771.81 L631.72 780.64 L631.79 778.09 L631.86 766.05 L631.93 760.73 L631.99 783.28 L632.06 769.1 L632.13 764.88 L632.2 775.46 L632.27 772.31 L632.34 767.69 L632.41 769.59 L632.48 772.54 L632.54 772.07 L632.61 776.03 L632.68 769.67 L632.75 769.76 L632.82 775.24 L632.89 773.61 L632.95 778.15 L633.02 770.41 L633.09 771.32 L633.16 765.23 L633.23 780.64 L633.29 763.9 L633.36 773.18 L633.43 766.87 L633.5 774.03 L633.57 776.43 L633.63 762.61 L633.7 770.94 L633.77 761.98 L633.84 780.4 L633.9 769.68 L633.97 763.1 L634.04 768.23 L634.11 779.99 L634.17 781.06 L634.24 779.82 L634.31 767.86 L634.37 771.58 L634.44 782.05 L634.51 768.25 L634.58 770.6 L634.64 767.01 L634.71 765.8 L634.78 779.72 L634.84 776.38 L634.91 775.35 L634.98 776.14 L635.04 778.77 L635.11 781.67 L635.18 772.79 L635.24 770.86 L635.31 713.1 L635.38 779.29 L635.44 769.92 L635.51 764.17 L635.57 771.42 L635.64 773.18 L635.71 777.98 L635.77 779.02 L635.84 768.81 L635.91 768.43 L635.97 771.25 L636.04 766.05 L636.1 772.6 L636.17 776.01 L636.23 773.56 L636.3 763.77 L636.37 766.3 L636.43 781.02 L636.5 767.41 L636.56 777.84 L636.63 777.24 L636.69 771.6 L636.76 767.61 L636.82 774.82 L636.89 768.33 L636.95 772.58 L637.02 774.29 L637.09 769.42 L637.15 772.36 L637.22 771.91 L637.28 766.4 L637.35 772.67 L637.41 770.03 L637.47 762.96 L637.54 771.87 L637.6 772.23 L637.67 770.33 L637.73 761.63 L637.8 778.66 L637.86 778.14 L637.93 777.97 L637.99 776.05 L638.06 766.58 L638.12 774.89 L638.19 768.61 L638.25 787.36 L638.31 771.11 L638.38 778.29 L638.44 764.95 L638.51 767.22 L638.57 771.12 L638.63 778.62 L638.7 777.72 L638.76 776.18 L638.83 763.28 L638.89 781.33 L638.95 768.93 L639.02 784.32 L639.08 785.87 L639.15 779.61 L639.21 780.63 L639.27 767.04 L639.34 790.34 L639.4 776.05 L639.46 780.82 L639.53 769.58 L639.59 774.42 L639.65 767.64 L639.72 773.42 L639.78 774.99 L639.84 776.48 L639.91 783.45 L639.97 777.91 L640.03 776.5 L640.09 775.27 L640.16 787.31 L640.22 771.56 L640.28 782.36 L640.35 763.17 L640.41 769.8 L640.47 777.7 L640.53 774.23 L640.6 791.41 L640.66 791.04 L640.72 765.99 L640.78 768.76 L640.85 774.47 L640.91 786.03 L640.97 782.36 L641.03 777.42 L641.1 766.76 L641.16 770.28 L641.22 759.25 L641.28 766.09 L641.35 778.17 L641.41 780.43 L641.47 767.59 L641.53 776.3 L641.59 785.67 L641.66 776.69 L641.72 773.83 L641.78 779.51 L641.84 779.02 L641.9 776.29 L641.96 772.51 L642.03 773.22 L642.09 776.42 L642.15 772.5 L642.21 784.16 L642.27 781.46 L642.33 782.7 L642.4 788.54 L642.46 785.8 L642.52 784.83 L642.58 778.36 L642.64 774.89 L642.7 790.39 L642.76 771.95 L642.82 772.31 L642.88 770.78 L642.95 777.54 L643.01 778.83 L643.07 782.66 L643.13 774.88 L643.19 765.51 L643.25 778.31 L643.31 782.42 L643.37 776.57 L643.43 775.57 L643.49 779.93 L643.55 737.48 L643.61 776.06 L643.68 767.62 L643.74 772.99 L643.8 775.51 L643.86 765.3 L643.92 781.4 L643.98 771.81 L644.04 779.82 L644.1 777.88 L644.16 774.73 L644.22 786.91 L644.28 773.2 L644.34 772.53 L644.4 778.61 L644.46 782.07 L644.52 776.8 L644.58 770.67 L644.64 781.21 L644.7 780.69 L644.76 789.97 L644.82 775.54 L644.88 778.3 L644.94 773.41 L645 705.8 L645.06 777.5 L645.12 782.42 L645.18 770.68 L645.23 772.84 L645.29 769.7 L645.35 785.62 L645.41 773.17 L645.47 780.86 L645.53 771.74 L645.59 777.71 L645.65 773.3 L645.71 762.41 L645.77 777.8 L645.83 780.68 L645.89 764.14 L645.95 776.27 L646 774.66 L646.06 770.58 L646.12 775.85 L646.18 765.14 L646.24 779.09 L646.3 785.06 L646.36 769.51 L646.42 777.15 L646.48 786.67 L646.53 778.39 L646.59 774.33 L646.65 771.85 L646.71 778.82 L646.77 776.86 L646.83 781.76 L646.88 768.04 L646.94 784.66 L647 775.22 L647.06 781.93 L647.12 773.23 L647.18 769.56 L647.23 774.26 L647.29 771.81 L647.35 775.54 L647.41 782.12 L647.47 784.9 L647.53 779.32 L647.58 774.56 L647.64 775.16 L647.7 781.88 L647.76 785.4 L647.81 776.05 L647.87 777.34 L647.93 773.34 L647.99 779.53 L648.05 784.38 L648.1 761.21 L648.16 779.91 L648.22 774.74 L648.28 763.3 L648.33 780.36 L648.39 777.78 L648.45 780.76 L648.51 769.58 L648.56 792.23 L648.62 779.16 L648.68 776.25 L648.73 788.35 L648.79 782.74 L648.85 783.93 L648.91 786.09 L648.96 765.17 L649.02 789.42 L649.08 776.38 L649.13 780.5 L649.19 784.66 L649.25 774.08 L649.3 780.79 L649.36 783.7 L649.42 778.5 L649.47 782 L649.53 768.37 L649.59 771.08 L649.65 771.37 L649.7 781.3 L649.76 796.13 L649.81 780.64 L649.87 777.98 L649.93 778.55 L649.98 755.05 L650.04 783.69 L650.1 771.61 L650.15 785.76 L650.21 779.02 L650.27 784.56 L650.32 766.25 L650.38 769.19 L650.43 783.26 L650.49 767.69 L650.55 782 L650.6 781.71 L650.66 780.51 L650.71 781.92 L650.77 781.38 L650.83 782.61 L650.88 777.11 L650.94 779.66 L650.99 797.04 L651.05 787.28 L651.11 783.92 L651.16 782.54 L651.22 775.31 L651.27 781.55 L651.33 778.53 L651.38 786.32 L651.44 774.28 L651.49 764.94 L651.55 776.68 L651.61 784.88 L651.66 796.36 L651.72 787.11 L651.77 774.16 L651.83 779.13 L651.88 774.44 L651.94 779.44 L651.99 774.88 L652.05 770.09 L652.1 783.67 L652.16 782.1 L652.21 779.78 L652.27 783.17 L652.32 794.13 L652.38 781.78 L652.43 778.62 L652.49 786.72 L652.54 770.54 L652.6 786.08 L652.65 776.25 L652.71 776.02 L652.76 782.06 L652.82 792.2 L652.87 776.62 L652.93 787.64 L652.98 783.97 L653.03 772.6 L653.09 787.54 L653.14 776.34 L653.2 772.23 L653.25 776.66 L653.31 777.12 L653.36 785.67 L653.42 777.18 L653.47 791.58 L653.52 783.42 L653.58 777.41 L653.63 776.71 L653.69 783.6 L653.74 769.11 L653.79 768.21 L653.85 776.58 L653.9 747.62 L653.96 783.52 L654.01 782.55 L654.06 781.08 L654.12 768.49 L654.17 780.46 L654.23 771.18 L654.28 788.01 L654.33 782.63 L654.39 782.15 L654.44 785.34 L654.49 784.89 L654.55 784.36 L654.6 785.15 L654.66 779.18 L654.71 774.43 L654.76 785.24 L654.82 792.37 L654.87 789.63 L654.92 781.81 L654.98 787.16 L655.03 780.45 L655.08 785.79 L655.14 779.47 L655.19 784.31 L655.24 796.29 L655.3 788.45 L655.35 793.15 L655.4 778.64 L655.46 779.24 L655.51 783.43 L655.56 787.29 L655.61 782.44 L655.67 790.3 L655.72 780.34 L655.77 792.61 L655.83 790.15 L655.88 776.86 L655.93 787.77 L655.98 782.66 L656.04 790.64 L656.09 780.74 L656.14 786.21 L656.2 787.75 L656.25 767.42 L656.3 772.35 L656.35 785.22 L656.41 783.64 L656.46 790.97 L656.51 785.98 L656.56 776.47 L656.62 786.72 L656.67 779.88 L656.72 783.25 L656.77 781.51 L656.83 787.02 L656.88 775.79 L656.93 777.75 L656.98 770.77 L657.03 798.63 L657.09 778.66 L657.14 779.57 L657.19 777.76 L657.24 781.05 L657.29 782.41 L657.35 789.15 L657.4 786.41 L657.45 787.42 L657.5 781.62 L657.55 743.79 L657.61 793.2 L657.66 785.36 L657.71 787.5 L657.76 772.7 L657.81 788.92 L657.86 787.32 L657.92 793.9 L657.97 768.98 L658.02 649.6 L658.07 785.04 L658.12 786.39 L658.17 781.89 L658.23 787.25 L658.28 790.4 L658.33 786.27 L658.38 784.17 L658.43 784.72 L658.48 783.64 L658.53 786.4 L658.59 781.63 L658.64 773.61 L658.69 794.85 L658.74 775.17 L658.79 785.58 L658.84 778.11 L658.89 784.59 L658.94 780.33 L658.99 786.2 L659.05 781.19 L659.1 778.35 L659.15 788.54 L659.2 795.06 L659.25 788.85 L659.3 787.39 L659.35 780.09 L659.4 786.25 L659.45 789.63 L659.5 782.74 L659.55 792.57 L659.6 786.67 L659.66 789.2 L659.71 783.87 L659.76 783.95 L659.81 788.47 L659.86 789.55 L659.91 789.35 L659.96 780.78 L660.01 782.61 L660.06 787.14 L660.11 775.61 L660.16 793.93 L660.21 789.38 L660.26 787.68 L660.31 782.97 L660.36 792.67 L660.41 785.82 L660.46 799.54 L660.51 790.1 L660.56 778.28 L660.61 792.28 L660.66 784.43 L660.71 784.51 L660.76 786.31 L660.81 787.05 L660.86 753.06 L660.91 792.74 L660.96 790.84 L661.01 783.47 L661.06 779.57 L661.11 783.03 L661.16 790.4 L661.21 793.63 L661.26 799.52 L661.31 779.81 L661.36 788.8 L661.41 786.9 L661.46 785.86 L661.51 789.29 L661.56 762.91 L661.61 786.83 L661.66 784.49 L661.71 791.06 L661.76 795.24 L661.81 798.9 L661.86 785.42 L661.91 782.15 L661.96 787.15 L662.01 783.61 L662.05 795.32 L662.1 783.79 L662.15 789.42 L662.2 780.6 L662.25 786.86 L662.3 790.28 L662.35 798.69 L662.4 784.84 L662.45 791.52 L662.5 776.26 L662.55 781.75 L662.6 784.24 L662.64 786.25 L662.69 792.1 L662.74 793.4 L662.79 779.45 L662.84 792.84 L662.89 782.61 L662.94 801.06 L662.99 791.6 L663.04 790.64 L663.08 788.63 L663.13 789.56 L663.18 789.82 L663.23 785.54 L663.28 794.54 L663.33 791.61 L663.38 794.64 L663.43 789.63 L663.47 794.29 L663.52 785.38 L663.57 807 L663.62 785.76 L663.67 787.45 L663.72 796.25 L663.76 797.97 L663.81 785.39 L663.86 780.04 L663.91 781.73 L663.96 784.29 L664.01 785.63 L664.05 789.52 L664.1 796.99 L664.15 797.34 L664.2 786.87 L664.25 794.06 L664.3 796.22 L664.34 799.5 L664.39 789.84 L664.44 786.25 L664.49 795.55 L664.54 800.35 L664.58 787.73 L664.63 803.11 L664.68 801.73 L664.73 789.48 L664.78 781.42 L664.82 787.49 L664.87 789.04 L664.92 794.56 L664.97 780.95 L665.01 762.08 L665.06 805.88 L665.11 786.94 L665.16 779.94 L665.2 790.46 L665.25 794.17 L665.3 799.91 L665.35 796.03 L665.4 790.41 L665.44 779.52 L665.49 794.89 L665.54 796.99 L665.58 789.9 L665.63 793.55 L665.68 793.15 L665.73 790.43 L665.77 784.83 L665.82 794.12 L665.87 783.29 L665.92 800.74 L665.96 786.58 L666.01 795.21 L666.06 787.7 L666.11 794.58 L666.15 790.98 L666.2 795.61 L666.25 787.48 L666.29 782.34 L666.34 790.7 L666.39 790.31 L666.43 783.24 L666.48 788.3 L666.53 782.28 L666.58 793.34 L666.62 790.37 L666.67 792.8 L666.72 808.78 L666.76 793.76 L666.81 795.13 L666.86 796.73 L666.9 792.05 L666.95 789.31 L667 798.39 L667.04 799.36 L667.09 777.26 L667.14 792.11 L667.18 791.05 L667.23 789.71 L667.28 800.85 L667.32 789.97 L667.37 798.6 L667.42 790 L667.46 790.87 L667.51 797.88 L667.55 788.91 L667.6 792.49 L667.65 786.75 L667.69 788.13 L667.74 798.03 L667.79 797.23 L667.83 786.66 L667.88 786.46 L667.93 809.37 L667.97 789.85 L668.02 788.49 L668.06 797.01 L668.11 789.15 L668.16 791.71 L668.2 799.45 L668.25 800.14 L668.29 792.85 L668.34 802.31 L668.39 793.26 L668.43 792.71 L668.48 794.18 L668.52 792.38 L668.57 797.52 L668.62 796.06 L668.66 789.63 L668.71 795.51 L668.75 791.14 L668.8 790.96 L668.84 793.68 L668.89 800.79 L668.94 796.29 L668.98 802.39 L669.03 804.22 L669.07 794.51 L669.12 791.07 L669.16 789.99 L669.21 796.54 L669.26 800.16 L669.3 804.57 L669.35 786.98 L669.39 800.63 L669.44 801.57 L669.48 809.94 L669.53 796.27 L669.57 794.97 L669.62 785.95 L669.66 790.51 L669.71 788.57 L669.75 789.18 L669.8 789.9 L669.85 786.08 L669.89 794.9 L669.94 797.85 L669.98 800.18 L670.03 795 L670.07 802.04 L670.12 770.37 L670.16 786.44 L670.21 794.04 L670.25 788.13 L670.3 789.8 L670.34 796.91 L670.39 795.06 L670.43 804.76 L670.48 808.34 L670.52 798.47 L670.57 794.78 L670.61 795.09 L670.66 795.93 L670.7 799.52 L670.75 791.6 L670.79 799.65 L670.83 794.64 L670.88 802.59 L670.92 758.38 L670.97 806.79 L671.01 795.3 L671.06 788.06 L671.1 786.05 L671.15 794.56 L671.19 787.74 L671.24 786.38 L671.28 794.28 L671.33 790.46 L671.37 800.68 L671.41 808.31 L671.46 795.17 L671.5 798.49 L671.55 787.01 L671.59 797.75 L671.64 792.41 L671.68 790.01 L671.72 785.4 L671.77 806.5 L671.81 786.97 L671.86 789.46 L671.9 796.91 L671.95 798.64 L671.99 798.69 L672.03 797.6 L672.08 791.54 L672.12 801.67 L672.17 798.21 L672.21 788.23 L672.25 806.84 L672.3 795.04 L672.34 802.92 L672.39 788.33 L672.43 789.97 L672.47 793.75 L672.52 793.06 L672.56 803.46 L672.61 787.45 L672.65 798.36 L672.69 791.21 L672.74 800.56 L672.78 766.62 L672.83 794.12 L672.87 811.03 L672.91 797.25 L672.96 804.23 L673 789.5 L673.04 796.86 L673.09 798.18 L673.13 798.52 L673.17 795.6 L673.22 792.68 L673.26 781.86 L673.31 794.33 L673.35 792.23 L673.39 796.29 L673.44 803.1 L673.48 811.4 L673.52 801.17 L673.57 804.16 L673.61 801.83 L673.65 802.46 L673.7 801.66 L673.74 796.5 L673.78 796.15 L673.83 800.17 L673.87 809.15 L673.91 802.99 L673.96 808.06 L674 790.41 L674.04 799.94 L674.09 800.79 L674.13 801.56 L674.17 790.06 L674.21 787.23 L674.26 785.55 L674.3 796.08 L674.34 812.81 L674.39 799.89 L674.43 791.23 L674.47 800.69 L674.52 796.82 L674.56 799.73 L674.6 795.96 L674.64 790.86 L674.69 795.54 L674.73 803.15 L674.77 800.69 L674.82 806.31 L674.86 792.39 L674.9 805.33 L674.94 799.35 L674.99 800.19 L675.03 806.65 L675.07 798.3 L675.11 800.68 L675.16 803.06 L675.2 803.15 L675.24 804.2 L675.29 807.14 L675.33 802.54 L675.37 796.68 L675.41 814.3 L675.46 799.24 L675.5 801.77 L675.54 794.96 L675.58 786.25 L675.63 794.83 L675.67 799.99 L675.71 802.86 L675.75 799.83 L675.79 804.52 L675.84 805.75 L675.88 805.76 L675.92 799.8 L675.96 800.31 L676.01 798.53 L676.05 794.54 L676.09 808.57 L676.13 792.36 L676.17 799.51 L676.22 801.35 L676.26 786.98 L676.3 804.55 L676.34 797.92 L676.39 801.44 L676.43 798.09 L676.47 790.79 L676.51 801.35 L676.55 800.82 L676.6 806.28 L676.64 803.13 L676.68 790.02 L676.72 806.99 L676.76 805.16 L676.8 805 L676.85 803.32 L676.89 796.1 L676.93 803.66 L676.97 798.23 L677.01 816.31 L677.06 799.05 L677.1 793.77 L677.14 798.47 L677.18 809.34 L677.22 797.13 L677.26 785.75 L677.31 809.59 L677.35 802.67 L677.39 797.68 L677.43 805.07 L677.47 795.13 L677.51 793.63 L677.56 806.59 L677.6 797.68 L677.64 804.08 L677.68 800.95 L677.72 805.97 L677.76 801.58 L677.8 788.47 L677.85 805.12 L677.89 798.11 L677.93 806.39 L677.97 801.73 L678.01 709.5 L678.05 799.18 L678.09 788.59 L678.13 799.19 L678.18 804.3 L678.22 799.11 L678.26 798.36 L678.3 810.21 L678.34 800.33 L678.38 807.7 L678.42 802.21 L678.46 792.53 L678.5 795.63 L678.55 799.47 L678.59 803.27 L678.63 796.49 L678.67 792.84 L678.71 795.29 L678.75 798.32 L678.79 796.13 L678.83 797.99 L678.87 812.9 L678.91 803.29 L678.96 796.63 L679 801.57 L679.04 811.26 L679.08 805.62 L679.12 801.09 L679.16 793.47 L679.2 791.4 L679.24 799.69 L679.28 801.15 L679.32 791.93 L679.36 793.7 L679.4 801.61 L679.44 788.38 L679.49 791.41 L679.53 801.61 L679.57 805.37 L679.61 803.92 L679.65 808.08 L679.69 811.63 L679.73 807.52 L679.77 800.46 L679.81 815.08 L679.85 812.39 L679.89 807.89 L679.93 797.25 L679.97 804.67 L680.01 789.51 L680.05 800.25 L680.09 787.15 L680.13 799.76 L680.17 808.58 L680.21 802.48 L680.25 812.21 L680.29 802.41 L680.33 803.05 L680.37 800.62 L680.41 805.71 L680.46 802.3 L680.5 809.82 L680.54 812.33 L680.58 804.84 L680.62 795.78 L680.66 806.01 L680.7 810.85 L680.74 806.61 L680.78 804.45 L680.82 808.4 L680.86 810.71 L680.9 786.94 L680.94 811.96 L680.98 807.47 L681.02 805.72 L681.06 799.47 L681.1 804.21 L681.14 806.53 L681.18 793.92 L681.22 807.42 L681.26 803.35 L681.3 811.79 L681.33 807.04 L681.37 801.92 L681.41 803.33 L681.45 806.88 L681.49 803.92 L681.53 806.35 L681.57 798.78 L681.61 795.57 L681.65 799.66 L681.69 794.53 L681.73 798.47 L681.77 805.29 L681.81 793.37 L681.85 795.8 L681.89 807.63 L681.93 800.05 L681.97 803.19 L682.01 795.85 L682.05 797.02 L682.09 801.48 L682.13 813.1 L682.17 806 L682.21 793.32 L682.25 806.05 L682.29 808.91 L682.32 807.55 L682.36 796.1 L682.4 803.05 L682.44 816.16 L682.48 797.89 L682.52 805.49 L682.56 799.02 L682.6 795.94 L682.64 800.97 L682.68 809.72 L682.72 810.5 L682.76 798.34 L682.8 800.8 L682.83 798.34 L682.87 791.27 L682.91 807.29 L682.95 812.98 L682.99 812.65 L683.03 800.96 L683.07 811.66 L683.11 810.27 L683.15 801.79 L683.19 803.79 L683.23 801.65 L683.26 805.28 L683.3 814.67 L683.34 798.4 L683.38 796.83 L683.42 809.13 L683.46 804.32 L683.5 792.76 L683.54 798 L683.58 799.12 L683.61 800.44 L683.65 805.98 L683.69 809.99 L683.73 803.15 L683.77 805.01 L683.81 799.74 L683.85 810.22 L683.89 812.14 L683.92 802.65 L683.96 799.85 L684 816.5 L684.04 809.76 L684.08 799.02 L684.12 794.32 L684.16 802.59 L684.19 811.43 L684.23 801.16 L684.27 802.94 L684.31 801.5 L684.35 808.27 L684.39 812.68 L684.43 797.04 L684.46 802.79 L684.5 803.33 L684.54 800.86 L684.58 797.5 L684.62 809.4 L684.66 805.5 L684.69 808.84 L684.73 813.54 L684.77 802.49 L684.81 807.84 L684.85 802.31 L684.89 804.18 L684.92 806.67 L684.96 803.78 L685 795.89 L685.04 813.63 L685.08 805.68 L685.11 798.09 L685.15 791.87 L685.19 804.71 L685.23 808.7 L685.27 810.8 L685.31 811.45 L685.34 802.69 L685.38 808.72 L685.42 795.92 L685.46 805.86 L685.5 810.35 L685.53 801.44 L685.57 804.08 L685.61 805.66 L685.65 805.87 L685.69 813.79 L685.72 798.78 L685.76 812.94 L685.8 797.84 L685.84 801.25 L685.87 800.63 L685.91 804.67 L685.95 802.31 L685.99 808.03 L686.03 805.3 L686.06 818.08 L686.1 807.52 L686.14 803.81 L686.18 807.48 L686.21 808.8 L686.25 804.23 L686.29 798.87 L686.33 800.68 L686.37 806.42 L686.4 810.25 L686.44 808.22 L686.48 804.93 L686.52 808.73 L686.55 802.61 L686.59 806.99 L686.63 813.75 L686.67 812 L686.7 813.4 L686.74 803.4 L686.78 806.75 L686.82 799.73 L686.85 810.92 L686.89 803.15 L686.93 797.99 L686.97 802.76 L687 807.12 L687.04 792.9 L687.08 797.5 L687.11 811.41 L687.15 806.27 L687.19 805.47 L687.23 796.45 L687.26 814.92 L687.3 811.71 L687.34 809.85 L687.38 799.39 L687.41 809.16 L687.45 812.44 L687.49 803.97 L687.52 804.44 L687.56 803.16 L687.6 809.36 L687.64 804.56 L687.67 804.11 L687.71 797.59 L687.75 796.41 L687.78 811.37 L687.82 815.05 L687.86 810.98 L687.9 814.18 L687.93 802.94 L687.97 805.77 L688.01 808.21 L688.04 805.14 L688.08 785.81 L688.12 798.5 L688.15 802.84 L688.19 804.14 L688.23 802.1 L688.26 811.01 L688.3 794.76 L688.34 812.72 L688.37 811.4 L688.41 808.05 L688.45 814.25 L688.49 819.71 L688.52 807.35 L688.56 810.5 L688.6 808.59 L688.63 809.35 L688.67 803.51 L688.71 802.31 L688.74 809.91 L688.78 803.48 L688.82 811.79 L688.85 811.05 L688.89 803.99 L688.93 808.62 L688.96 807.02 L689 805.81 L689.03 813.06 L689.07 806.87 L689.11 807.98 L689.14 795.65 L689.18 810.09 L689.22 798.54 L689.25 804.54 L689.29 815.89 L689.33 816.9 L689.36 804.57 L689.4 799.67 L689.44 809.09 L689.47 804.58 L689.51 808.78 L689.54 799.25 L689.58 813.24 L689.62 815.68 L689.65 798.74 L689.69 802.58 L689.73 803.03 L689.76 811.13 L689.8 795.88 L689.83 808.19 L689.87 805.74 L689.91 802.58 L689.94 811.04 L689.98 796.07 L690.02 799.37 L690.05 802.7 L690.09 811.14 L690.12 805.2 L690.16 802.5 L690.2 809.9 L690.23 804.5 L690.27 803.6 L690.3 805.55 L690.34 809.18 L690.38 821.58 L690.41 801.19 L690.45 808.9 L690.48 806.49 L690.52 805.92 L690.56 815.95 L690.59 811.78 L690.63 811.22 L690.66 804.93 L690.7 802.74 L690.74 809.17 L690.77 775.73 L690.81 804.34 L690.84 811.35 L690.88 800.84 L690.91 803.55 L690.95 812.06 L690.99 807.21 L691.02 811.42 L691.06 802.93 L691.09 811.67 L691.13 803.78 L691.16 815.36 L691.2 812.22 L691.24 810.41 L691.27 816.42 L691.31 809.81 L691.34 760.02 L691.38 816.58 L691.41 809.85 L691.45 814.75 L691.49 808.81 L691.52 814.47 L691.56 803.18 L691.59 800.98 L691.63 800.22 L691.66 812.31 L691.7 797.14 L691.73 798.18 L691.77 800.23 L691.8 809.44 L691.84 810.6 L691.88 803.65 L691.91 812.59 L691.95 810.01 L691.98 814.98 L692.02 813.52 L692.05 804.46 L692.09 809.42 L692.12 807.41 L692.16 810.91 L692.19 809.49 L692.23 808.53 L692.26 812.35 L692.3 808.77 L692.33 812.51 L692.37 808.66 L692.4 614.3 L692.44 813.6 L692.48 813.79 L692.51 815.4 L692.55 812.04 L692.58 807.4 L692.62 809.64 L692.65 809.47 L692.69 798.91 L692.72 802.43 L692.76 817.07 L692.79 808.34 L692.83 793.15 L692.86 808.04 L692.9 809.59 L692.93 801.95 L692.97 821.28 L693 768.62 L693.04 813.24 L693.07 807.74 L693.11 811.44 L693.14 813.45 L693.18 811.44 L693.21 805.15 L693.25 809.89 L693.28 809.58 L693.32 810.47 L693.35 803.16 L693.38 810.33 L693.42 808.91 L693.45 810.2 L693.49 810.02 L693.52 795.1 L693.56 813.62 L693.59 813.04 L693.63 801.59 L693.66 808.44 L693.7 804.3 L693.73 806.49 L693.77 814.46 L693.8 811.88 L693.84 819.82 L693.87 809.49 L693.91 802.88 L693.94 809.62 L693.97 795.66 L694.01 818.73 L694.04 810.42 L694.08 811.44 L694.11 809.83 L694.15 804.35 L694.18 808.35 L694.22 804.72 L694.25 806.21 L694.29 810.8 L694.32 802.42 L694.35 817.91 L694.39 803.17 L694.42 813.49 L694.46 805.49 L694.49 802.2 L694.53 811.04 L694.56 809.85 L694.59 807.71 L694.63 808.61 L694.66 805.54 L694.7 811.22 L694.73 806.3 L694.77 809.02 L694.8 814.93 L694.83 801.74 L694.87 805.82 L694.9 805.25 L694.94 804.59 L694.97 791.73 L695.01 807.42 L695.04 809.73 L695.07 808.3 L695.11 800.29 L695.14 812.59 L695.18 812.73 L695.21 809.32 L695.24 803.55 L695.28 804.33 L695.31 819.45 L695.35 818.24 L695.38 811.53 L695.42 804.07 L695.45 815.79 L695.48 809.96 L695.52 818.03 L695.55 805.95 L695.59 811.56 L695.62 807.93 L695.65 813.11 L695.69 805.68 L695.72 814.03 L695.75 807.04 L695.79 804.35 L695.82 812.19 L695.86 810.41 L695.89 797.83 L695.92 808.96 L695.96 809.74 L695.99 810.21 L696.03 820.19 L696.06 805.79 L696.09 809.16 L696.13 800.17 L696.16 801.48 L696.19 806.23 L696.23 808.61 L696.26 808.26 L696.3 812.74 L696.33 813.26 L696.36 814.76 L696.4 808.5 L696.43 812.02 L696.46 805.57 L696.5 811.35 L696.53 812.01 L696.56 806.77 L696.6 795.28 L696.63 805.99 L696.67 823.25 L696.7 808.99 L696.73 806.12 L696.77 810.11 L696.8 815.5 L696.83 811.35 L696.87 808.48 L696.9 802.75 L696.93 808.03 L696.97 803.25 L697 811.52 L697.03 817.69 L697.07 815.28 L697.1 806.52 L697.13 804.45 L697.17 802.29 L697.2 812.08 L697.23 781.94 L697.27 813.95 L697.3 811.56 L697.33 803.33 L697.37 799.55 L697.4 815.72 L697.43 805.34 L697.47 819.9 L697.5 798.6 L697.53 803.96 L697.57 804.87 L697.6 811.26 L697.63 813.39 L697.67 806.94 L697.7 813.05 L697.73 802.99 L697.77 807.25 L697.8 803.49 L697.83 806.98 L697.87 806.54 L697.9 811.57 L697.93 824.11 L697.96 802.72 L698 808.92 L698.03 813.63 L698.06 810.39 L698.1 817.54 L698.13 804.63 L698.16 814.16 L698.2 805.93 L698.23 814.42 L698.26 810.99 L698.29 811.43 L698.33 807.03 L698.36 800.38 L698.39 804.33 L698.43 813.92 L698.46 808.8 L698.49 814.1 L698.53 803.24 L698.56 813.62 L698.59 815.57 L698.62 798.62 L698.66 811.98 L698.69 820.52 L698.72 806.34 L698.75 815.59 L698.79 810.57 L698.82 814.87 L698.85 808.36 L698.89 806.33 L698.92 808.18 L698.95 808.53 L698.98 807.37 L699.02 805.86 L699.05 816.29 L699.08 807.46 L699.11 804.19 L699.15 805.62 L699.18 813.12 L699.21 798.88 L699.25 813.2 L699.28 814.35 L699.31 817.31 L699.34 808.33 L699.38 806.35 L699.41 811.58 L699.44 811.42 L699.47 817.58 L699.51 811.01 L699.54 808.51 L699.57 803.79 L699.6 809.68 L699.64 811.18 L699.67 816.98 L699.7 811.38 L699.73 817.89 L699.77 817.34 L699.8 806.87 L699.83 804.94 L699.86 807.6 L699.9 809.7 L699.93 806.73 L699.96 814.61 L699.99 814.49 L700.02 817.31 L700.06 812.52 L700.09 808.83 L700.12 813.29 L700.15 806.46 L700.19 812.03 L700.22 807.33 L700.25 817.38 L700.28 797.6 L700.32 815.86 L700.35 816.1 L700.38 811.32 L700.41 813.34 L700.44 812.7 L700.48 818.43 L700.51 820.35 L700.54 811.83 L700.57 820.34 L700.6 808.51 L700.64 814.08 L700.67 814.24 L700.7 805.42 L700.73 813.76 L700.77 808.61 L700.8 816.28 L700.83 807.55 L700.86 802.98 L700.89 805.49 L700.93 812.43 L700.96 813.99 L700.99 814.19 L701.02 808.48 L701.05 816.62 L701.09 809.69 L701.12 811.44 L701.15 817.75 L701.18 811.85 L701.21 802.93 L701.24 816.5 L701.28 812.82 L701.31 810.85 L701.34 819.63 L701.37 809.68 L701.4 816.4 L701.44 813.75 L701.47 826.64 L701.5 803.75 L701.53 814.2 L701.56 815.03 L701.59 819 L701.63 811.12 L701.66 810.05 L701.69 820.66 L701.72 811.23 L701.75 814.95 L701.79 813.27 L701.82 815.58 L701.85 806.6 L701.88 810.85 L701.91 813.43 L701.94 814.32 L701.98 819.53 L702.01 816.51 L702.04 816.9 L702.07 813.65 L702.1 820.55 L702.13 810.87 L702.16 813.58 L702.2 806.36 L702.23 808.7 L702.26 818.64 L702.29 814.01 L702.32 804.63 L702.35 814.11 L702.39 813.15 L702.42 808.51 L702.45 816.21 L702.48 813.11 L702.51 814.6 L702.54 819.52 L702.57 811.43 L702.61 820.3 L702.64 813.33 L702.67 813.44 L702.7 821.54 L702.73 816.84 L702.76 812.79 L702.79 814.33 L702.83 816.12 L702.86 807.47 L702.89 818.56 L702.92 815.11 L702.95 808.43 L702.98 810.3 L703.01 819.77 L703.04 808.72 L703.08 826.54 L703.11 809.83 L703.14 816.5 L703.17 802.17 L703.2 815.14 L703.23 812.83 L703.26 818.1 L703.29 816.63 L703.33 813.92 L703.36 826.9 L703.39 819.75 L703.42 811.95 L703.45 817.63 L703.48 802.17 L703.51 812.83 L703.54 822.39 L703.57 813.05 L703.61 816.74 L703.64 810.01 L703.67 820.15 L703.7 816.71 L703.73 816.13 L703.76 821.05 L703.79 824.75 L703.82 820.41 L703.85 807.26 L703.88 818.4 L703.92 817.74 L703.95 810.43 L703.98 808.02 L704.01 814.34 L704.04 814.95 L704.07 816.19 L704.1 812.76 L704.13 817.44 L704.16 818.19 L704.19 815.19 L704.22 818.74 L704.26 813.72 L704.29 808.62 L704.32 816.82 L704.35 821.49 L704.38 831.01 L704.41 805.89 L704.44 814.39 L704.47 812.5 L704.5 818.52 L704.53 812.58 L704.56 804.14 L704.59 822.41 L704.62 813.39 L704.66 816.96 L704.69 825.82 L704.72 789.41 L704.75 809.04 L704.78 828.35 L704.81 814.03 L704.84 819.21 L704.87 815.52 L704.9 815.35 L704.93 814.15 L704.96 821.05 L704.99 813.82 L705.02 811.34 L705.05 814.99 L705.08 818 L705.11 699.5 L705.15 822.23 L705.18 814.39 L705.21 821.96 L705.24 825.44 L705.27 819.92 L705.3 821.11 L705.33 816.02 L705.36 814.91 L705.39 808.57 L705.42 817.49 L705.45 815.7 L705.48 806.24 L705.51 820.06 L705.54 826.6 L705.57 820.82 L705.6 824.83 L705.63 817.41 L705.66 813.56 L705.69 819.24 L705.72 817.14 L705.75 813.07 L705.78 824.42 L705.81 819.96 L705.84 815.7 L705.87 820.19 L705.91 818.44 L705.94 822.48 L705.97 827.63 L706 816.13 L706.03 813.17 L706.06 826.63 L706.09 831.98 L706.12 816.36 L706.15 814.83 L706.18 813.37 L706.21 819.63 L706.24 820.28 L706.27 818.4 L706.3 824.18 L706.33 815.59 L706.36 816.8 L706.39 813.4 L706.42 827.22 L706.45 825.64 L706.48 826.89 L706.51 815.73 L706.54 827.15 L706.57 821.74 L706.6 824.01 L706.63 823.34 L706.66 818.7 L706.69 819.53 L706.72 812.44 L706.75 817.65 L706.78 819.37 L706.81 814.57 L706.84 821.15 L706.87 827.34 L706.9 818.16 L706.93 815.75 L706.96 816.38 L706.99 821.84 L707.02 829.99 L707.05 821.77 L707.08 821.22 L707.11 814.46 L707.14 822.7 L707.17 824.26 L707.2 818.88 L707.23 820.88 L707.26 817.57 L707.29 824.91 L707.32 828.09 L707.35 823.08 L707.38 823.78 L707.41 821.4 L707.44 817.75 L707.47 817.08 L707.5 819.04 L707.53 821.8 L707.56 821.18 L707.59 826.59 L707.61 825.17 L707.64 829.15 L707.67 825.4 L707.7 820.01 L707.73 821.83 L707.76 812.69 L707.79 830.24 L707.82 818.27 L707.85 819.21 L707.88 831.14 L707.91 815.69 L707.94 818.14 L707.97 821.12 L708 818.37 L708.03 821.98 L708.06 822.84 L708.09 824.95 L708.12 820.98 L708.15 825.31 L708.18 819.8 L708.21 824.9 L708.24 827.98 L708.27 812.31 L708.3 820.46 L708.32 822.66 L708.35 811.48 L708.38 807.38 L708.41 823.43 L708.44 818.25 L708.47 826.03 L708.5 821.74 L708.53 821.74 L708.56 819.92 L708.59 822.4 L708.62 816.91 L708.65 819.07 L708.68 826.18 L708.71 820.52 L708.74 824.69 L708.77 821.89 L708.8 820.1 L708.82 816.67 L708.85 826.61 L708.88 817.44 L708.91 824.08 L708.94 813.47 L708.97 823.55 L709 824.19 L709.03 818.56 L709.06 813.17 L709.09 821.25 L709.12 822.7 L709.15 819.25 L709.18 818.41 L709.2 827.22 L709.23 821.58 L709.26 819.9 L709.29 826.92 L709.32 822.14 L709.35 818.37 L709.38 827.12 L709.41 820.29 L709.44 827.47 L709.47 818.57 L709.5 824.15 L709.53 829.27 L709.55 824.93 L709.58 825.2 L709.61 824.92 L709.64 827.24 L709.67 822.91 L709.7 824.98 L709.73 821.2 L709.76 833.34 L709.79 817.59 L709.82 827.17 L709.84 817.03 L709.87 825.6 L709.9 829.99 L709.93 816.43 L709.96 832.53 L709.99 817.21 L710.02 818.01 L710.05 824.49 L710.08 816.46 L710.11 828.24 L710.13 825.49 L710.16 807.62 L710.19 814.65 L710.22 818.65 L710.25 825.13 L710.28 816.69 L710.31 818.68 L710.34 826.33 L710.36 817.16 L710.39 824.52 L710.42 815.05 L710.45 828.58 L710.48 830.99 L710.51 816.32 L710.54 809.37 L710.57 813.27 L710.59 828.42 L710.62 819.65 L710.65 828.96 L710.68 815.26 L710.71 817.54 L710.74 822.27 L710.77 829.12 L710.8 821.73 L710.82 817.07 L710.85 824.74 L710.88 823.52 L710.91 825.94 L710.94 822.03 L710.97 819.46 L711 823.21 L711.03 808.74 L711.05 824.67 L711.08 830.27 L711.11 826.36 L711.14 817.63 L711.17 814.26 L711.2 830.86 L711.23 820.24 L711.25 822 L711.28 824.55 L711.31 819.8 L711.34 823.51 L711.37 832.07 L711.4 820.4 L711.42 834.57 L711.45 825.59 L711.48 825.23 L711.51 828.93 L711.54 828.81 L711.57 829.62 L711.6 826.71 L711.62 820.01 L711.65 833.08 L711.68 822.59 L711.71 818.57 L711.74 828.82 L711.77 827.38 L711.79 823.37 L711.82 824.01 L711.85 827.05 L711.88 835.04 L711.91 823.17 L711.94 816.14 L711.96 820.27 L711.99 826.71 L712.02 822.48 L712.05 819.74 L712.08 828.06 L712.11 828.13 L712.13 822.52 L712.16 825.46 L712.19 819.96 L712.22 820.14 L712.25 821.75 L712.27 815.65 L712.3 825.85 L712.33 823.35 L712.36 820.78 L712.39 824.47 L712.42 824.64 L712.44 819.36 L712.47 820.28 L712.5 819.06 L712.53 832.01 L712.56 813.7 L712.58 823.36 L712.61 797.69 L712.64 817.29 L712.67 818.02 L712.7 817.89 L712.72 812.87 L712.75 830.94 L712.78 822.24 L712.81 816.92 L712.84 819.74 L712.87 824.63 L712.89 821.53 L712.92 818.06 L712.95 826.61 L712.98 818.08 L713.01 821.09 L713.03 824.55 L713.06 819.05 L713.09 823.98 L713.12 819.57 L713.14 839.89 L713.17 803.85 L713.2 827.75 L713.23 818.25 L713.26 816.63 L713.28 822.76 L713.31 821.39 L713.34 821.43 L713.37 823.33 L713.4 829.01 L713.42 835.39 L713.45 836.05 L713.48 823.92 L713.51 834.92 L713.54 834.12 L713.56 819.65 L713.59 820.52 L713.62 822.9 L713.65 835.73 L713.67 822.62 L713.7 822 L713.73 832.16 L713.76 822.37 L713.79 822.54 L713.81 827.24 L713.84 824.59 L713.87 808.36 L713.9 815.67 L713.92 827.93 L713.95 814.5 L713.98 831.21 L714.01 823.07 L714.03 825.11 L714.06 825.3 L714.09 812.23 L714.12 819.06 L714.15 816.93 L714.17 825.09 L714.2 833.25 L714.23 822.19 L714.26 824.08 L714.28 811.28 L714.31 821.29 L714.34 822.14 L714.37 822.51 L714.39 827.52 L714.42 832.66 L714.45 823.66 L714.48 826.28 L714.5 813.85 L714.53 827.68 L714.56 824.05 L714.59 812.67 L714.61 826.02 L714.64 819.67 L714.67 830.37 L714.7 826.86 L714.72 824.47 L714.75 834.97 L714.78 822.95 L714.81 822.01 L714.83 824.24 L714.86 824.8 L714.89 818.59 L714.92 827.78 L714.94 826.85 L714.97 820.77 L715 814.12 L715.02 832.01 L715.05 832.76 L715.08 830.13 L715.11 830.75 L715.13 836.05 L715.16 826.66 L715.19 835.12 L715.22 823.69 L715.24 819.07 L715.27 824.85 L715.3 822.75 L715.33 828 L715.35 836.6 L715.38 827.59 L715.41 831.69 L715.43 838.74 L715.46 836.62 L715.49 825.56 L715.52 820.62 L715.54 838.82 L715.57 818.03 L715.6 813.18 L715.62 812.04 L715.65 832.66 L715.68 815.46 L715.71 823.39 L715.73 824.2 L715.76 833.57 L715.79 816.11 L715.81 825.41 L715.84 827.04 L715.87 834.28 L715.9 823.52 L715.92 826.87 L715.95 823.27 L715.98 832.24 L716 831.27 L716.03 822.58 L716.06 828.71 L716.09 815.44 L716.11 825.59 L716.14 819.35 L716.17 822.43 L716.19 831.78 L716.22 839.27 L716.25 826.55 L716.27 824.29 L716.3 823.02 L716.33 830.14 L716.36 824.05 L716.38 831.67 L716.41 835.34 L716.44 829.36 L716.46 822.72 L716.49 830.27 L716.52 820.72 L716.54 813.71 L716.57 832.78 L716.6 837.89 L716.62 833.98 L716.65 822.91 L716.68 808.09 L716.71 820.44 L716.73 829.35 L716.76 822.64 L716.79 834.4 L716.81 819.87 L716.84 828.49 L716.87 826.69 L716.89 826.91 L716.92 815.93 L716.95 824.52 L716.97 826.93 L717 822.54 L717.03 816.52 L717.05 821.94 L717.08 818.83 L717.11 827.44 L717.13 831.55 L717.16 827.31 L717.19 827.58 L717.21 823.94 L717.24 826.4 L717.27 812.21 L717.29 825.6 L717.32 831 L717.35 821.61 L717.37 829.7 L717.4 815.11 L717.43 825.4 L717.45 823.84 L717.48 828.17 L717.51 826.05 L717.53 839.86 L717.56 808.01 L717.59 815.43 L717.61 820.58 L717.64 825.7 L717.67 820.76 L717.69 820.56 L717.72 814.57 L717.75 816 L717.77 819.25 L717.8 835.17 L717.83 819.64 L717.85 843.14 L717.88 832.16 L717.91 823.13 L717.93 830.51 L717.96 831.89 L717.98 817.05 L718.01 814.22 L718.04 834.87 L718.06 818.66 L718.09 830.87 L718.12 829.62 L718.14 813.9 L718.17 829.41 L718.2 828.85 L718.22 833.67 L718.25 824.86 L718.28 828.14 L718.3 827.62 L718.33 823.52 L718.35 836.07 L718.38 831.58 L718.41 835.4 L718.43 827.48 L718.46 832.91 L718.49 818.7 L718.51 820.92 L718.54 831.81 L718.57 823.56 L718.59 822.43 L718.62 826.16 L718.64 814.47 L718.67 826.21 L718.7 828.38 L718.72 822.94 L718.75 817.54 L718.78 836.86 L718.8 827.95 L718.83 818.2 L718.85 821.13 L718.88 814.22 L718.91 813.38 L718.93 812.23 L718.96 819.47 L718.98 827.92 L719.01 803.88 L719.04 824.32 L719.06 831.96 L719.09 828.91 L719.12 817.35 L719.14 819.41 L719.17 827.01 L719.19 829.68 L719.22 832.41 L719.25 815.84 L719.27 812 L719.3 838.72 L719.32 823.24 L719.35 831.87 L719.38 825.38 L719.4 815.83 L719.43 834.62 L719.45 828.34 L719.48 835.17 L719.51 829.3 L719.53 818.54 L719.56 824.97 L719.59 831.98 L719.61 820.58 L719.64 826.52 L719.66 833.12 L719.69 816.92 L719.71 822.76 L719.74 826.47 L719.77 831.77 L719.79 824.66 L719.82 820.47 L719.84 829.11 L719.87 821.19 L719.9 828.16 L719.92 827.76 L719.95 824.01 L719.97 831.15 L720 833.34 L720.03 816.52 L720.05 828.88 L720.08 824.25 L720.1 823.34 L720.13 825.96 L720.16 833.36 L720.18 824.41 L720.21 823.23 L720.23 816.93 L720.26 824.3 L720.28 825.43 L720.31 818.98 L720.34 823.39 L720.36 828.7 L720.39 834.89 L720.41 823.57 L720.44 839.02 L720.46 832.29 L720.49 831.43 L720.52 829.59 L720.54 826.28 L720.57 821.37 L720.59 825.2 L720.62 826.08 L720.64 826.78 L720.67 836.14 L720.7 839.3 L720.72 829.4 L720.75 832.56 L720.77 821.13 L720.8 812.36 L720.82 825.14 L720.85 827.52 L720.88 835.36 L720.9 842.27 L720.93 827.68 L720.95 834.75 L720.98 833.45 L721 827.38 L721.03 831.55 L721.06 828.55 L721.08 836.49 L721.11 818.8 L721.13 810.24 L721.16 826.89 L721.18 832.27 L721.21 833.14 L721.23 822.16 L721.26 829.72 L721.29 821.58 L721.31 830.67 L721.34 820.97 L721.36 818.74 L721.39 832.45 L721.41 619.7 L721.44 816.03 L721.46 831.44 L721.49 826.74 L721.51 810.31 L721.54 834.1 L721.57 817.69 L721.59 822.97 L721.62 825.29 L721.64 839.78 L721.67 825.9 L721.69 832.23 L721.72 825.12 L721.74 829.55 L721.77 816.48 L721.79 826.09 L721.82 821.91 L721.84 819.16 L721.87 828.1 L721.9 833.16 L721.92 829.32 L721.95 823.93 L721.97 831.09 L722 818.51 L722.02 828.25 L722.05 829.64 L722.07 825.49 L722.1 824.35 L722.12 826.91 L722.15 822.22 L722.17 824.58 L722.2 831.11 L722.22 812.96 L722.25 834.61 L722.27 829.2 L722.3 827.55 L722.33 819.2 L722.35 823.26 L722.38 822 L722.4 830.71 L722.43 830.37 L722.45 833.94 L722.48 782.49 L722.5 812.21 L722.53 819.42 L722.55 823.49 L722.58 828.24 L722.6 815.71 L722.63 824.58 L722.65 826.39 L722.68 821.85 L722.7 824.63 L722.73 841.47 L722.75 825.77 L722.78 839.41 L722.8 827.53 L722.83 821.03 L722.85 829.65 L722.88 823.06 L722.9 825.4 L722.93 810.51 L722.95 828.21 L722.98 821.83 L723 833.54 L723.03 826.56 L723.05 823.2 L723.08 818.61 L723.1 825.91 L723.13 823.2 L723.15 820.44 L723.18 838.53 L723.2 824.75 L723.23 831.84 L723.25 835.78 L723.28 828.49 L723.3 830.01 L723.33 829.18 L723.35 832.28 L723.38 829.64 L723.4 829.13 L723.43 826.65 L723.45 822.4 L723.48 822.74 L723.5 821.34 L723.53 827.02 L723.55 784.55 L723.58 819.24 L723.6 821.52 L723.63 818.97 L723.65 825.3 L723.68 832.68 L723.7 823.4 L723.73 827.76 L723.75 809.8 L723.78 824.66 L723.8 828.99 L723.83 821.47 L723.85 814.51 L723.88 828.81 L723.9 824.92 L723.93 838.06 L723.95 821.71 L723.97 824.6 L724 823.06 L724.02 826.36 L724.05 813.22 L724.07 834.96 L724.1 830.03 L724.12 824.11 L724.15 823.21 L724.17 829.23 L724.2 828.14 L724.22 822.81 L724.25 824.54 L724.27 828.03 L724.3 822.77 L724.32 823.43 L724.35 822.77 L724.37 823.22 L724.39 816.8 L724.42 819.23 L724.44 828.21 L724.47 831.09 L724.49 825.34 L724.52 797.73 L724.54 815.54 L724.57 828.5 L724.59 837.25 L724.62 833.98 L724.64 824.29 L724.67 823.29 L724.69 822.76 L724.71 837.62 L724.74 827.32 L724.76 774.95 L724.79 832.24 L724.81 831.42 L724.84 811.89 L724.86 821.41 L724.89 832.65 L724.91 831.98 L724.94 817.22 L724.96 825.74 L724.98 831.78 L725.01 828.12 L725.03 818.56 L725.06 824.51 L725.08 830.34 L725.11 829.16 L725.13 819.19 L725.16 841.89 L725.18 827.33 L725.2 815.5 L725.23 823.56 L725.25 807.28 L725.28 821.12 L725.3 825.55 L725.33 842.39 L725.35 827.2 L725.38 828.4 L725.4 831.1 L725.42 827.33 L725.45 821.78 L725.47 835.22 L725.5 829.47 L725.52 836.52 L725.55 832.99 L725.57 819.49 L725.59 822.79 L725.62 823.17 L725.64 823.3 L725.67 829.03 L725.69 824.75 L725.72 820.52 L725.74 836.05 L725.76 835.33 L725.79 826.25 L725.81 818.73 L725.84 821.75 L725.86 820.83 L725.89 819.88 L725.91 819.33 L725.93 827.65 L725.96 828.06 L725.98 828.98 L726.01 819.63 L726.03 828.07 L726.06 839.69 L726.08 827.65 L726.1 823.35 L726.13 844.25 L726.15 828.19 L726.18 821.75 L726.2 832.11 L726.22 821.17 L726.25 823.57 L726.27 832.98 L726.3 821.88 L726.32 815.88 L726.35 830.92 L726.37 831.82 L726.39 816.6 L726.42 823.68 L726.44 833.56 L726.47 827.82 L726.49 831.84 L726.51 825.29 L726.54 821.78 L726.56 822.28 L726.59 824.02 L726.61 827.38 L726.63 807.62 L726.66 812.99 L726.68 826.23 L726.71 830.8 L726.73 821.66 L726.75 826.26 L726.78 818.8 L726.8 816.72 L726.83 827.31 L726.85 825.75 L726.87 822.72 L726.9 817.26 L726.92 826.72 L726.95 825.79 L726.97 824.47 L726.99 825.38 L727.02 823.68 L727.04 829.79 L727.07 828.91 L727.09 838.43 L727.11 835.84 L727.14 825.84 L727.16 817.69 L727.19 830.46 L727.21 821.97 L727.23 836.55 L727.26 815.87 L727.28 823.12 L727.3 836.63 L727.33 826.09 L727.35 831.04 L727.38 830.58 L727.4 822.68 L727.42 831.81 L727.45 820.06 L727.47 823.8 L727.5 840.59 L727.52 824.76 L727.54 828.55 L727.57 818.65 L727.59 835.22 L727.61 819.68 L727.64 820.89 L727.66 821.85 L727.69 819.48 L727.71 816.2 L727.73 823.95 L727.76 822.62 L727.78 825.25 L727.8 819.17 L727.83 819.71 L727.85 823.72 L727.88 825.89 L727.9 819.52 L727.92 825.64 L727.95 824.27 L727.97 833.14 L727.99 830.24 L728.02 829.32 L728.04 832.81 L728.07 821.51 L728.09 835.19 L728.11 827.14 L728.14 822.48 L728.16 828.64 L728.18 818.48 L728.21 838.09 L728.23 827.62 L728.25 815.58 L728.28 818.11 L728.3 822.36 L728.32 822.02 L728.35 828.97 L728.37 831.94 L728.4 832.88 L728.42 829.6 L728.44 819.42 L728.47 833.57 L728.49 834.32 L728.51 812.48 L728.54 821.93 L728.56 823.41 L728.58 820.48 L728.61 833.01 L728.63 829.01 L728.65 826.25 L728.68 817.41 L728.7 811.64 L728.73 819.38 L728.75 820.07 L728.77 819.57 L728.8 811.15 L728.82 815.19 L728.84 822.79 L728.87 828.07 L728.89 822.08 L728.91 824.12 L728.94 825.21 L728.96 825.24 L728.98 834.03 L729.01 820.18 L729.03 827.12 L729.05 816.55 L729.08 833.87 L729.1 830.77 L729.12 832.58 L729.15 826.49 L729.17 824.87 L729.19 816.84 L729.22 827.9 L729.24 835.17 L729.26 806.89 L729.29 837.9 L729.31 820.04 L729.33 829.06 L729.36 820.07 L729.38 824.68 L729.4 831.43 L729.43 824.47 L729.45 838.33 L729.47 826.04 L729.5 830.28 L729.52 821.48 L729.54 822.27 L729.57 822.99 L729.59 829.27 L729.61 837.38 L729.64 826.01 L729.66 816.81 L729.68 821.51 L729.71 816.22 L729.73 829.17 L729.75 825.97 L729.78 818.29 L729.8 823.28 L729.82 832.34 L729.85 829 L729.87 821.8 L729.89 831.05 L729.92 828.54 L729.94 821.96 L729.96 827.09 L729.98 838.9 L730.01 818.1 L730.03 832.93 L730.05 824.82 L730.08 830.23 L730.1 828.6 L730.12 827.77 L730.15 824.72 L730.17 802.86 L730.19 830.54 L730.22 829.02 L730.24 815.58 L730.26 829 L730.29 834.99 L730.31 832.09 L730.33 827.29 L730.35 813.02 L730.38 829.96 L730.4 830.46 L730.42 836.08 L730.45 819.11 L730.47 824.17 L730.49 822.09 L730.52 823.92 L730.54 813.69 L730.56 822.49 L730.58 822.77 L730.61 823.14 L730.63 836.98 L730.65 821.35 L730.68 822.63 L730.7 833.64 L730.72 821.8 L730.75 834.2 L730.77 828.91 L730.79 821.32 L730.81 820.76 L730.84 826.71 L730.86 824.35 L730.88 826.41 L730.91 821.67 L730.93 829.88 L730.95 820.99 L730.98 822.41 L731 824.44 L731.02 816.84 L731.04 823.47 L731.07 824.25 L731.09 815.5 L731.11 813.06 L731.14 834.45 L731.16 823.8 L731.18 824.69 L731.2 821.21 L731.23 836.84 L731.25 824.22 L731.27 813.06 L731.3 829.14 L731.32 818.79 L731.34 828.76 L731.36 824.75 L731.39 834.7 L731.41 829.07 L731.43 823.03 L731.45 835.81 L731.48 844.97 L731.5 821.96 L731.52 833.47 L731.55 828.43 L731.57 828.97 L731.59 816.98 L731.61 818.86 L731.64 835.87 L731.66 826.88 L731.68 822.02 L731.71 838.63 L731.73 834.53 L731.75 831.07 L731.77 818.87 L731.8 825.76 L731.82 836.34 L731.84 811.36 L731.86 814.52 L731.89 820.14 L731.91 832.8 L731.93 827.5 L731.95 829.22 L731.98 827.26 L732 826.61 L732.02 834.5 L732.05 845.05 L732.07 829.24 L732.09 835.28 L732.11 822.75 L732.14 837.38 L732.16 826.6 L732.18 827.21 L732.2 822.62 L732.23 820.45 L732.25 822.02 L732.27 818.93 L732.29 816.64 L732.32 839.2 L732.34 829.14 L732.36 833.06 L732.38 829.59 L732.41 815.69 L732.43 826.19 L732.45 819.53 L732.47 820.15 L732.5 825.13 L732.52 827.15 L732.54 826.62 L732.56 826.86 L732.59 823.86 L732.61 826.17 L732.63 834.99 L732.65 841.78 L732.68 834.06 L732.7 824.34 L732.72 828.8 L732.74 832.91 L732.77 833.24 L732.79 834.82 L732.81 834.96 L732.83 828.89 L732.86 823.92 L732.88 814.78 L732.9 833.72 L732.92 830.41 L732.95 819.72 L732.97 826.04 L732.99 823.03 L733.01 822.73 L733.04 838.6 L733.06 823.31 L733.08 843.57 L733.1 824.93 L733.13 820.68 L733.15 826.86 L733.17 843.46 L733.19 824.78 L733.21 829.62 L733.24 809.4 L733.26 830.17 L733.28 815.88 L733.3 825.02 L733.33 835.81 L733.35 824.04 L733.37 831.11 L733.39 824.23 L733.42 823.42 L733.44 827.89 L733.46 833.8 L733.48 826.58 L733.5 825.72 L733.53 818.86 L733.55 813.53 L733.57 826.8 L733.59 824.53 L733.62 827.82 L733.64 833.45 L733.66 831.85 L733.68 819.43 L733.71 827.72 L733.73 827.89 L733.75 824.04 L733.77 809.36 L733.79 819.96 L733.82 825.13 L733.84 831.35 L733.86 823.52 L733.88 815.58 L733.9 835.77 L733.93 825.51 L733.95 822.43 L733.97 829.67 L733.99 830.84 L734.02 825.18 L734.04 821.47 L734.06 821.58 L734.08 831.58 L734.1 824.72 L734.13 829.38 L734.15 811.71 L734.17 822.09 L734.19 822.91 L734.21 822.25 L734.24 811.4 L734.26 822.42 L734.28 837.25 L734.3 827.92 L734.33 821.81 L734.35 820.39 L734.37 815.71 L734.39 827.35 L734.41 819.91 L734.44 822.74 L734.46 832.21 L734.48 832.6 L734.5 830.21 L734.52 813.44 L734.55 821.48 L734.57 834.32 L734.59 816.91 L734.61 834.87 L734.63 825.43 L734.66 832.61 L734.68 822.55 L734.7 817.02 L734.72 818.13 L734.74 836.35 L734.77 823.23 L734.79 816.57 L734.81 831.63 L734.83 801 L734.85 824.4 L734.88 828.1 L734.9 827.76 L734.92 828.72 L734.94 824.93 L734.96 807.41 L734.98 827.4 L735.01 825.26 L735.03 824.11 L735.05 829.2 L735.07 831.26 L735.09 827.16 L735.12 836.67 L735.14 841.81 L735.16 827.7 L735.18 823 L735.2 816 L735.23 829.85 L735.25 812.42 L735.27 838.06 L735.29 832.82 L735.31 821.69 L735.33 830.62 L735.36 819.13 L735.38 817.41 L735.4 831.24 L735.42 818.04 L735.44 827.4 L735.47 824.62 L735.49 837.17 L735.51 827.9 L735.53 837.29 L735.55 832 L735.57 819.87 L735.6 816.91 L735.62 809.91 L735.64 825.81 L735.66 806.29 L735.68 819.46 L735.7 807.65 L735.73 820.93 L735.75 830.79 L735.77 819.03 L735.79 821.42 L735.81 822.13 L735.84 827.52 L735.86 814.52 L735.88 826.32 L735.9 824.74 L735.92 817.82 L735.94 818.19 L735.97 834.49 L735.99 830.87 L736.01 828.67 L736.03 819.27 L736.05 822.91 L736.07 815.79 L736.1 812.35 L736.12 821.95 L736.14 820.99 L736.16 816.16 L736.18 816.35 L736.2 828.17 L736.22 821.96 L736.25 813.66 L736.27 840.61 L736.29 812.45 L736.31 826.99 L736.33 817.92 L736.35 830.44 L736.38 795.69 L736.4 832.97 L736.42 824.88 L736.44 819.76 L736.46 836.15 L736.48 824.97 L736.51 823.83 L736.53 808.62 L736.55 819.96 L736.57 828.01 L736.59 837.91 L736.61 836.54 L736.63 827.61 L736.66 830.2 L736.68 830.97 L736.7 820.64 L736.72 836.52 L736.74 827.26 L736.76 811.82 L736.78 829.99 L736.81 818.56 L736.83 827.63 L736.85 830.43 L736.87 823.05 L736.89 827.43 L736.91 835.47 L736.94 815.07 L736.96 811.28 L736.98 824.46 L737 823.56 L737.02 840.89 L737.04 832.8 L737.06 829.29 L737.09 824.59 L737.11 810.86 L737.13 815.42 L737.15 822.88 L737.17 826.7 L737.19 822.11 L737.21 826.12 L737.23 830.53 L737.26 819.96 L737.28 822.09 L737.3 818.01 L737.32 834.32 L737.34 810.1 L737.36 829.74 L737.38 831 L737.41 810.01 L737.43 821.61 L737.45 833.33 L737.47 818.44 L737.49 820.87 L737.51 824.88 L737.53 835.06 L737.55 829.83 L737.58 820.05 L737.6 814.85 L737.62 813.85 L737.64 827.67 L737.66 808.86 L737.68 820.79 L737.7 829.58 L737.72 816.1 L737.75 822.69 L737.77 824.27 L737.79 830.76 L737.81 814.96 L737.83 825.62 L737.85 824.67 L737.87 825.87 L737.89 813.25 L737.92 828.9 L737.94 818.76 L737.96 824.23 L737.98 818.71 L738 839.69 L738.02 825.53 L738.04 841.21 L738.06 820.41 L738.09 823.03 L738.11 836.22 L738.13 822.36 L738.15 828.46 L738.17 833.82 L738.19 822.35 L738.21 820.06 L738.23 823.28 L738.25 832.78 L738.28 828.39 L738.3 834.88 L738.32 823.18 L738.34 821.57 L738.36 816.67 L738.38 822.92 L738.4 820.72 L738.42 824.27 L738.44 818.08 L738.47 819.78 L738.49 822.82 L738.51 832.46 L738.53 822.66 L738.55 820.85 L738.57 832.91 L738.59 835.33 L738.61 822.93 L738.63 823.24 L738.66 811.52 L738.68 813.43 L738.7 824.82 L738.72 835.65 L738.74 839.1 L738.76 831.41 L738.78 821.54 L738.8 829.08 L738.82 814.13 L738.84 824.6 L738.87 816.29 L738.89 825.25 L738.91 836.05 L738.93 841.66 L738.95 826.84 L738.97 828.22 L738.99 812.71 L739.01 820.29 L739.03 836.72 L739.05 834.02 L739.07 831.54 L739.1 828.63 L739.12 837.69 L739.14 823.3 L739.16 823.8 L739.18 846.01 L739.2 818.75 L739.22 828.65 L739.24 822.41 L739.26 836.6 L739.28 823.25 L739.3 822.64 L739.33 822.9 L739.35 831.37 L739.37 817.64 L739.39 814.02 L739.41 824.35 L739.43 800 L739.45 829.34 L739.47 822.63 L739.49 820.66 L739.51 827.44 L739.53 828.52 L739.55 833 L739.58 825.76 L739.6 811.51 L739.62 824.91 L739.64 825.33 L739.66 824.52 L739.68 829.32 L739.7 823.12 L739.72 833.75 L739.74 823.06 L739.76 835.92 L739.78 816.83 L739.8 807.37 L739.83 817.95 L739.85 846.1 L739.87 823.33 L739.89 824.45 L739.91 827.37 L739.93 822.07 L739.95 827.33 L739.97 826.26 L739.99 841.07 L740.01 834.5 L740.03 827.44 L740.05 830.71 L740.07 794.93 L740.09 817.16 L740.12 833.95 L740.14 820.59 L740.16 831.47 L740.18 826.51 L740.2 832.37 L740.22 836.32 L740.24 829.94 L740.26 821.77 L740.28 823.06 L740.3 829.79 L740.32 822.28 L740.34 822.53 L740.36 824.55 L740.38 822.72 L740.4 829.48 L740.43 822.01 L740.45 826.18 L740.47 819.86 L740.49 812.18 L740.51 831.58 L740.53 832.96 L740.55 821.64 L740.57 831.64 L740.59 827.86 L740.61 816.57 L740.63 834.55 L740.65 810.18 L740.67 825.07 L740.69 831.02 L740.71 817.01 L740.73 837.82 L740.75 820.98 L740.78 835.14 L740.8 824.06 L740.82 830.81 L740.84 825.14 L740.86 802.07 L740.88 828.74 L740.9 833.51 L740.92 831.19 L740.94 827.13 L740.96 823.7 L740.98 828.82 L741 833.36 L741.02 832.71 L741.04 829.94 L741.06 824.73 L741.08 831.24 L741.1 818.15 L741.12 825.65 L741.14 810.04 L741.16 820.56 L741.18 824.63 L741.21 814.95 L741.23 817.01 L741.25 833.14 L741.27 829.79 L741.29 834.36 L741.31 834.99 L741.33 830.94 L741.35 832.16 L741.37 828.29 L741.39 835.94 L741.41 814.2 L741.43 824.69 L741.45 834.05 L741.47 832.58 L741.49 826.58 L741.51 823.51 L741.53 832.57 L741.55 824.76 L741.57 817.36 L741.59 835.09 L741.61 823.12 L741.63 827.49 L741.65 813.47 L741.67 806.17 L741.69 829.56 L741.71 838.94 L741.74 808.34 L741.76 822.05 L741.78 830.4 L741.8 827.52 L741.82 826.52 L741.84 825.8 L741.86 818.54 L741.88 834.58 L741.9 833.52 L741.92 828.88 L741.94 808.15 L741.96 839.11 L741.98 825.6 L742 830.13 L742.02 841.03 L742.04 836.24 L742.06 825.33 L742.08 834.4 L742.1 830.7 L742.12 821.49 L742.14 827.08 L742.16 812.24 L742.18 813.76 L742.2 827.56 L742.22 837.1 L742.24 818.38 L742.26 835.45 L742.28 827.24 L742.3 840.13 L742.32 823.27 L742.34 846.54 L742.36 829.61 L742.38 824.23 L742.4 828.07 L742.42 811.72 L742.44 828.81 L742.46 823.58 L742.48 830.02 L742.5 823.52 L742.52 805.13 L742.54 805.58 L742.56 820.87 L742.58 816.04 L742.6 832.91 L742.63 817.48 L742.65 829.47 L742.67 824.65 L742.69 838.13 L742.71 826.65 L742.73 827.5 L742.75 817.92 L742.77 828.86 L742.79 831.19 L742.81 824.98 L742.83 831.5 L742.85 817.67 L742.87 824.15 L742.89 829.09 L742.91 823.4 L742.93 835.58 L742.95 830.95 L742.97 821 L742.99 818.52 L743.01 825.79 L743.03 820.13 L743.05 822.72 L743.07 816.98 L743.09 832 L743.11 827.23 L743.13 828.25 L743.15 832.36 L743.17 807.68 L743.19 826.16 L743.21 823.93 L743.23 831.26 L743.25 829.87 L743.27 830.01 L743.29 801.38 L743.31 811.03 L743.33 817.41 L743.35 835.49 L743.37 837.31 L743.39 819.39 L743.41 834.76 L743.43 832.79 L743.45 814.99 L743.47 821.05 L743.49 828.52 L743.51 825.29 L743.53 840.17 L743.55 830.66 L743.57 833 L743.59 820.62 L743.61 816.09 L743.63 821 L743.65 837.06 L743.67 840.57 L743.69 819.38 L743.71 824.73 L743.73 806.01 L743.74 836.09 L743.76 815.79 L743.78 832.94 L743.8 836.06 L743.82 815.2 L743.84 818.86 L743.86 831.54 L743.88 836.71 L743.9 821.61 L743.92 817.45 L743.94 828.55 L743.96 835.91 L743.98 816.96 L744 819.49 L744.02 835.07 L744.04 827.38 L744.06 819.19 L744.08 825.79 L744.1 829.6 L744.12 833.97 L744.14 828.12 L744.16 825.65 L744.18 812.31 L744.2 830.07 L744.22 829.85 L744.24 827.39 L744.26 825.9 L744.28 826.72 L744.3 833.39 L744.32 822.76 L744.34 816.05 L744.36 832.95 L744.38 822.69 L744.4 823.45 L744.42 829.17 L744.44 823.68 L744.46 825.15 L744.48 816.73 L744.5 836.18 L744.52 814.94 L744.54 836.28 L744.56 815.52 L744.58 819.97 L744.6 822.29 L744.62 832.72 L744.63 827.28 L744.65 821.95 L744.67 815.63 L744.69 833.69 L744.71 825.93 L744.73 829.03 L744.75 824.14 L744.77 821.59 L744.79 830.99 L744.81 828.03 L744.83 834.84 L744.85 827.23 L744.87 814.27 L744.89 831.84 L744.91 826.08 L744.93 823.79 L744.95 804.41 L744.97 818.69 L744.99 827 L745.01 820.58 L745.03 827.7 L745.05 830.48 L745.07 825.52 L745.09 818.08 L745.11 829.13 L745.13 828.59 L745.14 823.65 L745.16 810.33 L745.18 815.63 L745.2 832.09 L745.22 823.52 L745.24 811.09 L745.26 824.12 L745.28 825.96 L745.3 830.76 L745.32 829.09 L745.34 828.63 L745.36 819.33 L745.38 811.98 L745.4 820.55 L745.42 836.65 L745.44 813.26 L745.46 832.77 L745.48 813.34 L745.5 814.93 L745.52 826.33 L745.54 818.84 L745.55 823.48 L745.57 816.08 L745.59 826.51 L745.61 832.37 L745.63 813.54 L745.65 829.85 L745.67 828.47 L745.69 831.8 L745.71 806.88 L745.73 832.69 L745.75 815.99 L745.77 823.33 L745.79 821.75 L745.81 817.07 L745.83 818.31 L745.85 819.41 L745.87 826.72 L745.89 831.25 L745.9 822.9 L745.92 831.7 L745.94 826.53 L745.96 834.65 L745.98 814.5 L746 826.48 L746.02 824.94 L746.04 826.39 L746.06 828.14 L746.08 831.86 L746.1 826.46 L746.12 829.5 L746.14 822.94 L746.16 824.07 L746.18 820.14 L746.2 834.02 L746.21 831.65 L746.23 835.7 L746.25 821.45 L746.27 823.81 L746.29 845.39 L746.31 834.03 L746.33 813.43 L746.35 831.25 L746.37 828.07 L746.39 822.47 L746.41 822.97 L746.43 818.31 L746.45 820.94 L746.47 818.94 L746.48 815.7 L746.5 822.09 L746.52 818.01 L746.54 831.07 L746.56 833.68 L746.58 823.96 L746.6 822.45 L746.62 830.43 L746.64 824.24 L746.66 841.71 L746.68 803.9 L746.7 806.06 L746.72 816.19 L746.74 829.12 L746.75 831.6 L746.77 821.35 L746.79 825.37 L746.81 822.86 L746.83 829.26 L746.85 841.85 L746.87 806.61 L746.89 843.52 L746.91 833.96 L746.93 822.74 L746.95 829.36 L746.97 825.1 L746.98 829.24 L747 829.23 L747.02 831.72 L747.04 817.06 L747.06 830.36 L747.08 819.9 L747.1 822.88 L747.12 831.88 L747.14 821.69 L747.16 827.84 L747.18 828.02 L747.2 826.2 L747.21 815.29 L747.23 829.39 L747.25 826.89 L747.27 843.81 L747.29 816.79 L747.31 834.13 L747.33 821.92 L747.35 822.92 L747.37 839.58 L747.39 824.33 L747.41 832.07 L747.42 826.51 L747.44 817.98 L747.46 823.65 L747.48 821.84 L747.5 823.61 L747.52 840.93 L747.54 829.35 L747.56 811.11 L747.58 841.08 L747.6 828.61 L747.62 832.93 L747.63 838.47 L747.65 818.67 L747.67 828.27 L747.69 824.31 L747.71 822.61 L747.73 823 L747.75 826.38 L747.77 835.23 L747.79 831.99 L747.81 827.94 L747.82 835.54 L747.84 806.28 L747.86 825.86 L747.88 828.52 L747.9 828.18 L747.92 837.37 L747.94 827.02 L747.96 837.02 L747.98 824.13 L748 831.36 L748.01 826.5 L748.03 823.54 L748.05 829.94 L748.07 830.4 L748.09 818.16 L748.11 833.52 L748.13 823.44 L748.15 826.45 L748.17 803.46 L748.18 825.41 L748.2 809.66 L748.22 832.83 L748.24 819.11 L748.26 821.93 L748.28 824.14 L748.3 814.5 L748.32 825.84 L748.34 815.37 L748.35 823.85 L748.37 832.78 L748.39 836.33 L748.41 837.59 L748.43 823.7 L748.45 817.58 L748.47 829.67 L748.49 838.67 L748.51 818.25 L748.52 836.95 L748.54 824.44 L748.56 803.45 L748.58 826.15 L748.6 841.33 L748.62 831.61 L748.64 834.53 L748.66 828.94 L748.67 811.45 L748.69 805.77 L748.71 816.64 L748.73 822.33 L748.75 817.09 L748.77 818.77 L748.79 832.11 L748.81 837.84 L748.83 811.3 L748.84 816.57 L748.86 824.7 L748.88 823.83 L748.9 805.7 L748.92 847.71 L748.94 831.47 L748.96 828.56 L748.98 809.28 L748.99 828.02 L749.01 815.6 L749.03 829.83 L749.05 828.01 L749.07 825.87 L749.09 829.16 L749.11 820.59 L749.13 827 L749.14 805.17 L749.16 831.69 L749.18 823.94 L749.2 846.96 L749.22 826.4 L749.24 805.62 L749.26 838.48 L749.27 819.28 L749.29 815.92 L749.31 825.11 L749.33 836.39 L749.35 841.99 L749.37 822.19 L749.39 827.32 L749.41 827.4 L749.42 819.93 L749.44 821.17 L749.46 824.25 L749.48 824.95 L749.5 834.51 L749.52 809.04 L749.54 829.51 L749.55 828.64 L749.57 837.14 L749.59 822.16 L749.61 822.26 L749.63 826.32 L749.65 820.61 L749.67 820.35 L749.68 819.73 L749.7 819.75 L749.72 816.65 L749.74 820.21 L749.76 818.71 L749.78 819.09 L749.8 813.94 L749.82 833.43 L749.83 827.97 L749.85 824.89 L749.87 816.08 L749.89 830.78 L749.91 823.25 L749.93 824.39 L749.95 826.08 L749.96 824.32 L749.98 833.69 L750 818.53 L750.02 819.67 L750.04 826.56 L750.06 823.56 L750.07 829.98 L750.09 833.13 L750.11 837.07 L750.13 833.48 L750.15 822.93 L750.17 823.92 L750.19 822.14 L750.2 835.17 L750.22 823.38 L750.24 818.05 L750.26 816.45 L750.28 831.74 L750.3 817.89 L750.32 802.83 L750.33 831.41 L750.35 828.21 L750.37 831.91 L750.39 833.81 L750.41 829.75 L750.43 828.72 L750.44 825.84 L750.46 818.67 L750.48 807.31 L750.5 808.61 L750.52 828.6 L750.54 832.26 L750.56 825.69 L750.57 818.86 L750.59 830.87 L750.61 825.19 L750.63 825.5 L750.65 822.31 L750.67 815.39 L750.68 816.79 L750.7 828.71 L750.72 839.34 L750.74 840.52 L750.76 823.87 L750.78 829.3 L750.79 824.69 L750.81 826.75 L750.83 829.01 L750.85 833.22 L750.87 815.67 L750.89 840.65 L750.9 824.39 L750.92 817.06 L750.94 845.33 L750.96 817.82 L750.98 825.16 L751 819.18 L751.01 835.63 L751.03 802.61 L751.05 828.37 L751.07 811.8 L751.09 838.86 L751.11 843.52 L751.12 832.88 L751.14 818.76 L751.16 835.5 L751.18 844.37 L751.2 827.65 L751.22 822.26 L751.23 838.12 L751.25 814 L751.27 822.95 L751.29 825 L751.31 826.53 L751.33 835 L751.34 780.21 L751.36 815.91 L751.38 813.33 L751.4 824.18 L751.42 829.45 L751.44 833.76 L751.45 830.79 L751.47 813.51 L751.49 830.35 L751.51 819.7 L751.53 836.68 L751.54 822.8 L751.56 822.99 L751.58 820.61 L751.6 833.92 L751.62 824.48 L751.64 848.2 L751.65 835.55 L751.67 815.32 L751.69 825.14 L751.71 834.5 L751.73 832.33 L751.74 830.76 L751.76 827.61 L751.78 812.12 L751.8 812.47 L751.82 832.49 L751.84 820.01 L751.85 825.65 L751.87 831.02 L751.89 809.09 L751.91 809.07 L751.93 830.11 L751.94 820.39 L751.96 822.43 L751.98 835.34 L752 823.12 L752.02 792.47 L752.04 827.95 L752.05 810.39 L752.07 840.51 L752.09 828.95 L752.11 820.66 L752.13 835.29 L752.14 817.3 L752.16 819.38 L752.18 814.66 L752.2 823.36 L752.22 818.87 L752.23 827.64 L752.25 819.52 L752.27 827.6 L752.29 829.14 L752.31 828.74 L752.32 828.6 L752.34 826.04 L752.36 818.12 L752.38 807.98 L752.4 828.37 L752.41 813.06 L752.43 828.26 L752.45 824.85 L752.47 824.86 L752.49 825.34 L752.5 830.28 L752.52 816.78 L752.54 828.03 L752.56 834.7 L752.58 832.16 L752.6 834.91 L752.61 822.84 L752.63 824.55 L752.65 841.63 L752.67 829.67 L752.69 827.53 L752.7 834.01 L752.72 817.64 L752.74 824.1 L752.76 829.12 L752.78 749.3" stroke="#0072BD" stroke-width="5.0" fill="none" stroke-linejoin="round" stroke-linecap="butt"/>
<path d="M463.51 631.4 L483.56 635.4 L499.94 651.5 L513.8 640.4 L525.8 602.6 L536.38 634 L545.85 626.3 L554.42 629.3 L562.23 647.5 L569.43 635.4 L576.09 637.4 L582.29 646 L588.09 654.5 L593.54 649.5 L598.67 653.5 L603.53 646.5 L608.14 649.5 L612.53 641.4 L616.71 670.6 L620.7 655.5 L624.53 655.06 L628.19 651.23 L631.72 659.44 L635.11 664.62 L638.38 675.4 L641.53 656.2 L644.58 672.09 L647.53 666.25 L650.38 670.58 L653.14 668.78 L655.83 657.39 L658.43 649.55 L660.96 655.52 L663.43 667.84 L665.82 665.43 L668.16 626.48 L670.43 662.23 L672.65 664.3 L674.82 660.03 L676.93 674.38 L679 650.78 L681.02 656.69 L682.99 654.48 L684.92 661.15 L686.82 668.93 L688.67 609.7 L690.48 672.4 L692.26 671.84 L694.01 676.5 L695.72 624.3 L697.4 672.56 L699.05 652.87 L700.67 655.58 L702.26 668.92 L703.82 663.26 L705.36 658.26 L706.87 674.41 L708.35 656.49 L709.82 665.82 L711.25 661.16 L712.67 650.49 L714.06 681.34 L715.43 642.54 L716.79 647.11 L718.12 656.25 L719.43 676.39 L720.72 675.7 L722 653.07 L723.25 667.8 L724.49 658.06 L725.72 649.38 L726.92 664.15 L728.11 660.96 L729.29 654.01 L730.45 668.96 L731.59 670.71 L732.72 649.48 L733.84 678.5 L734.94 666.33 L736.03 658.51 L737.11 677.49 L738.17 669.15 L739.22 670.69 L740.26 669.88 L741.29 658.09 L742.3 667.54 L743.31 660.19 L744.3 653.06 L745.28 651.03 L746.25 667.95 L747.21 673.93 L748.17 645.25 L749.11 682.54 L750.04 671.35 L750.96 674.32 L751.87 659.65 L752.78 604.3 L753.67 672.41 L754.55 647.68 L755.43 676.15 L756.3 688.51 L757.16 655.17 L758.01 642.19 L758.86 655.31 L759.69 675.75 L760.52 670.74 L761.34 653.51 L762.15 657.76 L762.96 643.12 L763.76 667.45 L764.55 639.7 L765.33 663.33 L766.11 648.5 L766.88 663.87 L767.65 674.59 L768.41 663.68 L769.16 668.65 L769.91 669.32 L770.65 619.9 L771.38 655.05 L772.11 642.04 L772.83 669.32 L773.54 684.08 L774.25 692.53 L774.96 639.69 L775.66 651.8 L776.35 672.68 L777.04 690.58 L777.72 649.79 L778.4 666.47 L779.08 667.72 L779.74 656.33 L780.41 661.87 L781.07 658.2 L781.72 610.78 L782.37 689.32 L783.01 667.45 L783.65 657.25 L784.29 680.5 L784.92 660.11 L785.54 680.22 L786.17 653.59 L786.78 679.73 L787.4 673.23 L788.01 653.5 L788.61 674.54 L789.21 678.17 L789.81 664.05 L790.4 646.21 L790.99 645.34 L791.58 660.58 L792.16 666.55 L792.74 631.45 L793.31 672.98 L793.88 623.5 L794.45 686.82 L795.01 658.69 L795.57 657.41 L796.13 667.87 L796.68 641.63 L797.23 662.94 L797.78 635.14 L798.32 649.29 L798.86 663.35 L799.4 661.04 L799.93 644.08 L800.46 667.26 L800.99 660.57 L801.51 670.31 L802.03 649.7 L802.55 655.39 L803.07 667.08 L803.58 642.58 L804.09 665.35 L804.59 646.7 L805.1 685.59 L805.6 646.88 L806.1 668.31 L806.59 628.09 L807.08 654.93 L807.57 662.73 L808.06 655.22 L808.54 650.5 L809.03 641.9 L809.51 658.43 L809.98 654.1 L810.46 657.07 L810.93 647.66 L811.4 638.17 L811.86 596 L812.33 679.48 L812.79 675 L813.25 663.17 L813.71 661.99 L814.16 655.16 L814.62 658.94 L815.07 658.42 L815.51 642.33 L815.96 637.03 L816.4 661.33 L816.85 637.55 L817.28 609.25 L817.72 649.74 L818.16 666.55 L818.59 657.08 L819.02 649.79 L819.45 656.89 L819.88 654.19 L820.3 664.57 L820.72 661.39 L821.15 675.97 L821.56 652.33 L821.98 661.26 L822.4 638.25 L822.81 672.11 L823.22 646.52 L823.63 652.38 L824.04 637.18 L824.44 628.58 L824.85 610.46 L825.25 687.65 L825.65 607.5 L826.05 633.24 L826.45 642.16 L826.84 618.73 L827.23 660.26 L827.63 653.85 L828.02 659.5 L828.4 634.36 L828.79 656.86 L829.17 644.17 L829.56 618.97 L829.94 667.89 L830.32 633.74 L830.7 656.63 L831.07 657.39 L831.45 607.57 L831.82 659.5 L832.2 641.68 L832.57 608.36 L832.94 649.97 L833.3 684.43 L833.67 634.76 L834.03 655.27 L834.4 642.22 L834.76 632.95 L835.12 641.94 L835.48 591.45 L835.83 656.69 L836.19 640 L836.55 644.81 L836.9 592.65 L837.25 603.97 L837.6 591.32 L837.95 632.04 L838.3 663.8 L838.64 659.91 L838.99 622.25 L839.33 645.35 L839.67 640.68 L840.02 665.55 L840.36 599.43 L840.69 601.83 L841.03 633.63 L841.37 618.46 L841.7 597.28 L842.03 625.42 L842.37 674.66 L842.7 636.24 L843.03 611.47 L843.36 530.5 L843.68 601.97 L844.01 628.57 L844.34 622.31 L844.66 636.86 L844.98 629.06 L845.3 640.41 L845.62 610.23 L845.94 628.47 L846.26 646.92 L846.58 602.29 L846.89 650.06 L847.21 632.04 L847.52 592.61 L847.83 643.21 L848.15 630.74 L848.46 601.11 L848.77 635.98 L849.07 592.48 L849.38 602.26 L849.69 606.4 L849.99 637.03 L850.3 667.65 L850.6 623.15 L850.9 635.88 L851.2 633.1 L851.5 635.76 L851.8 647.79 L852.1 621.16 L852.4 639.36 L852.69 640.76 L852.99 610.89 L853.28 636.58 L853.58 661.83 L853.87 576.68 L854.16 614.71 L854.45 653.68 L854.74 645.27 L855.03 629.87 L855.32 636.46 L855.6 610.36 L855.89 637.94 L856.17 634.07 L856.46 636.68 L856.74 614.1 L857.02 630.1 L857.3 587.23 L857.58 643.71 L857.86 662.02 L858.14 601.67 L858.42 625.7 L858.7 585.38 L858.97 645.76 L859.25 615.23 L859.52 625.92 L859.8 609.64 L860.07 603 L860.34 639.41 L860.61 632.3 L860.88 648.26 L861.15 643.31 L861.42 574.9 L861.69 667.22 L861.95 580.19 L862.22 641.88 L862.49 643.4 L862.75 661 L863.02 596.86 L863.28 635.97 L863.54 601.2 L863.8 677.7 L864.06 577.39 L864.32 632.84 L864.58 640.26 L864.84 611.24 L865.1 607.6 L865.36 680.69 L865.61 616.29 L865.87 619.94 L866.12 636.36 L866.38 628.12 L866.63 590.33 L866.88 601.82 L867.14 609.87 L867.39 617.79 L867.64 581.47 L867.89 621.1 L868.14 623.1 L868.39 641.12 L868.63 621.68 L868.88 634.78 L869.13 642.02 L869.37 625.92 L869.62 624.81 L869.86 654.53 L870.11 648.17 L870.35 681.33 L870.59 643.69 L870.83 635.4 L871.08 649.85 L871.32 640.33 L871.56 650.94 L871.8 567.5 L872.03 613.83 L872.27 587.01 L872.51 652.53 L872.75 599.07 L872.98 664.54 L873.22 613.65 L873.45 606.65 L873.69 610.64 L873.92 618.2 L874.15 644.15 L874.39 632.77 L874.62 618.21 L874.85 681.41 L875.08 585.02 L875.31 636.21 L875.54 641.97 L875.77 645.68 L876 675.5 L876.23 636.42 L876.45 592.5 L876.68 662.8 L876.91 612.13 L877.13 610.47 L877.36 639.23 L877.58 611.67 L877.8 622.45 L878.03 640.61 L878.25 603.79 L878.47 644.6 L878.69 600.85 L878.92 613.96 L879.14 591.29 L879.36 645.28 L879.58 654.39 L879.79 633.99 L880.01 631.82 L880.23 567.44 L880.45 674.29 L880.66 619.79 L880.88 623.28 L881.1 640.72 L881.31 614.39 L881.53 601.94 L881.74 678.64 L881.95 630.15 L882.17 613.9 L882.38 639.37 L882.59 606.5 L882.8 596.26 L883.02 579.4 L883.23 636.88 L883.44 672.43 L883.65 595.41 L883.86 639.47 L884.06 597.42 L884.27 662.76 L884.48 631.79 L884.69 651.12 L884.89 620.29 L885.1 612.49 L885.31 622.49 L885.51 647.45 L885.72 632.82 L885.92 607.4 L886.13 672.5 L886.33 640.3 L886.53 636.43 L886.73 624.72 L886.94 629.88 L887.14 642.3 L887.34 584.21 L887.54 685.43 L887.74 625.04 L887.94 604.46 L888.14 650.63 L888.34 619.83 L888.54 614.9 L888.74 593.53 L888.93 615.77 L889.13 630.3 L889.33 558 L889.52 631.23 L889.72 666.21 L889.92 641.09 L890.11 627.15 L890.31 605.86 L890.5 658.14 L890.69 628.36 L890.89 673.56 L891.08 562.75 L891.27 622.81 L891.47 635.44 L891.66 632.53 L891.85 641.08 L892.04 646.52 L892.23 575.36 L892.42 669.86 L892.61 646.88 L892.8 670.45 L892.99 641.39 L893.18 634.59 L893.37 574.2 L893.55 639.47 L893.74 598.42 L893.93 664.08 L894.11 609.33 L894.3 641.38 L894.49 646.45 L894.67 629.05 L894.86 612.19 L895.04 688.18 L895.23 595.79 L895.41 615.43 L895.59 603.95 L895.78 660.99 L895.96 649.92 L896.14 623.91 L896.32 611.5 L896.51 622.06 L896.69 650.54 L896.87 669.21 L897.05 618.98 L897.23 628.66 L897.41 688.44 L897.59 673.23 L897.77 638.66 L897.95 623.17 L898.13 642.37 L898.3 619.58 L898.48 639.13 L898.66 643.19 L898.84 646.46 L899.01 638.06 L899.19 658.73 L899.36 652.18 L899.54 630.87 L899.72 609.78 L899.89 621.31 L900.07 678 L900.24 644.71 L900.41 670.69 L900.59 608.87 L900.76 660.29 L900.93 690.19 L901.11 607.95 L901.28 669.01 L901.45 618.89 L901.62 631.85 L901.79 617.61 L901.96 627.23 L902.14 633.3 L902.31 598.54 L902.48 646.96 L902.65 621.59 L902.82 614.42 L902.98 681.27 L903.15 647.99 L903.32 610.72 L903.49 632.66 L903.66 618.27 L903.82 585.2 L903.99 652.44 L904.16 591.62 L904.33 625.41 L904.49 574.42 L904.66 643.58 L904.82 621.04 L904.99 639.27 L905.15 630.51 L905.32 636.71 L905.48 629.47 L905.65 610.57 L905.81 577.78 L905.97 680.34 L906.14 617.29 L906.3 670.71 L906.46 653.21 L906.63 623.64 L906.79 614.04 L906.95 644.08 L907.11 645.75 L907.27 634.57 L907.43 634.32 L907.59 643.88 L907.75 618.45 L907.91 595.59 L908.07 554.55 L908.23 607.36 L908.39 642.88 L908.55 622.93 L908.71 600.39 L908.87 597.11 L909.03 604.17 L909.18 621.28 L909.34 626.01 L909.5 649.88 L909.66 619.25 L909.81 617.43 L909.97 602.23 L910.13 639.67 L910.28 601.14 L910.44 617.33 L910.59 643.5 L910.75 653.73 L910.9 653.87 L911.06 649.93 L911.21 639.36 L911.36 629.04 L911.52 664.06 L911.67 626.15 L911.83 588.4 L911.98 640.3 L912.13 619.72 L912.28 648.55 L912.44 626.17 L912.59 611.63 L912.74 646.25 L912.89 631.38 L913.04 610.08 L913.19 591.67 L913.34 532.5 L913.49 658.48 L913.64 675.64 L913.79 653.38 L913.94 604.48 L914.09 619.46 L914.24 630.44 L914.39 645.08 L914.54 610.27 L914.69 655.88 L914.84 657.02 L914.98 616.14 L915.13 617.48 L915.28 651.21 L915.43 660.13 L915.57 650.87 L915.72 606.51 L915.87 592.79 L916.01 640.74 L916.16 661.47 L916.3 655.17 L916.45 610.03 L916.6 647.85 L916.74 650.82 L916.89 619.67 L917.03 602.82 L917.17 690.3 L917.32 648.86 L917.46 658.83 L917.61 694.42 L917.75 652.86 L917.89 620.41 L918.04 630.27 L918.18 672.76 L918.32 642.69 L918.46 626.72 L918.61 685.77 L918.75 646.51 L918.89 651.85 L919.03 665.33 L919.17 600.66 L919.31 632.06 L919.45 647.38 L919.59 636.61 L919.73 660.16 L919.87 617.9 L920.01 617.25 L920.15 641.7 L920.29 641.07 L920.43 608.2 L920.57 647.92 L920.71 673.77 L920.85 634.79 L920.99 619.85 L921.13 688.58 L921.26 691.92 L921.4 638.56 L921.54 664.1 L921.68 628.88 L921.81 643.2 L921.95 568.96 L922.09 584.5 L922.22 680.97 L922.36 650.29 L922.5 664.45 L922.63 609.63 L922.77 657.44 L922.9 644.78 L923.04 665.4 L923.17 625.25 L923.31 648.55 L923.44 604.42 L923.58 631.15 L923.71 675.03 L923.84 650.22 L923.98 623.54 L924.11 672.85 L924.25 659.15 L924.38 644.95 L924.51 655.15 L924.64 642.17 L924.78 662.12 L924.91 687.94 L925.04 607.87 L925.17 655.64 L925.31 598.41 L925.44 648.03 L925.57 631.04 L925.7 661.88 L925.83 654.2 L925.96 669.82 L926.09 654.14 L926.22 671.72 L926.35 620.12 L926.48 621.49 L926.61 611.75 L926.74 639.72 L926.87 634.86 L927 678.45 L927.13 673.85 L927.26 660.33 L927.39 652.7 L927.52 667.94 L927.65 631.42 L927.78 665.09 L927.9 640.52 L928.03 683.61 L928.16 654.19 L928.29 653.55 L928.41 641.57 L928.54 665.44 L928.67 608.62 L928.79 679.16 L928.92 647.63 L929.05 660.91 L929.17 646.68 L929.3 661.48 L929.43 657.67 L929.55 645.12 L929.68 645.43 L929.8 679.1 L929.93 669.93 L930.05 651.01 L930.18 652.45 L930.3 667.74 L930.43 648.48 L930.55 667.56 L930.68 661.88 L930.8 647.09 L930.92 616.84 L931.05 678.45 L931.17 673.77 L931.29 624.83 L931.42 659.88 L931.54 642.48 L931.66 663.55 L931.79 689.72 L931.91 694.53 L932.03 668.38 L932.15 671.51 L932.28 650.47 L932.4 669.69 L932.52 668.84 L932.64 674 L932.76 656.56 L932.88 648.48 L933 672.77 L933.13 671.93 L933.25 656.19 L933.37 653.31 L933.49 623.84 L933.61 633.96 L933.73 656.35 L933.85 662.4 L933.97 636.54 L934.09 652.52 L934.21 648.79 L934.33 649.69 L934.44 675.57 L934.56 674.93 L934.68 628.76 L934.8 674.08 L934.92 664.21 L935.04 652.44 L935.16 669.8 L935.27 660.88 L935.39 676.92 L935.51 661.92 L935.63 648.49 L935.74 644.82 L935.86 675.84 L935.98 627.05 L936.1 664.5 L936.21 693.26 L936.33 669.3 L936.45 665.6 L936.56 648.66 L936.68 631.31 L936.79 653.58 L936.91 677.68 L937.03 623.73 L937.14 640.8 L937.26 650.66 L937.37 654.42 L937.49 636.41 L937.6 670.97 L937.72 640.19 L937.83 660.37 L937.95 635.44 L938.06 662.01 L938.17 651.21 L938.29 631.8 L938.4 653.62 L938.52 671.04 L938.63 673.12 L938.74 672.91 L938.86 645.29 L938.97 676.37 L939.08 660.51 L939.2 665.13 L939.31 672.41 L939.42 636.39 L939.53 669.55 L939.65 616.1 L939.76 669.42 L939.87 655.45 L939.98 668.29 L940.1 652.67 L940.21 649.73 L940.32 668.34 L940.43 655.1 L940.54 681.65 L940.65 656.04 L940.76 681.75 L940.87 640.71 L940.98 672.04 L941.1 656.62 L941.21 671.14 L941.32 650.8 L941.43 664.17 L941.54 666.67 L941.65 648.53 L941.76 630.28 L941.87 655.03 L941.98 644.07 L942.08 671.33 L942.19 657.17 L942.3 637.58 L942.41 666.79 L942.52 624.84 L942.63 660.79 L942.74 661.37 L942.85 665.58 L942.96 649.44 L943.06 650.44 L943.17 673.68 L943.28 651.48 L943.39 656.42 L943.49 632.52 L943.6 665.37 L943.71 658.67 L943.82 662.78 L943.92 675.4 L944.03 665.9 L944.14 661.64 L944.25 680.21 L944.35 607.39 L944.46 668.03 L944.56 659.91 L944.67 660.81 L944.78 674.88 L944.88 643.14 L944.99 644.17 L945.1 648.25 L945.2 641.03 L945.31 645.74 L945.41 661.44 L945.52 672.39 L945.62 657.19 L945.73 662.59 L945.83 664.88 L945.94 685.95 L946.04 653.34 L946.15 654.48 L946.25 654.61 L946.35 653.48 L946.46 622.75 L946.56 662.62 L946.67 678.15 L946.77 632.14 L946.87 656.51 L946.98 684.63 L947.08 668.92 L947.19 669.65 L947.29 634.23 L947.39 654.7 L947.49 650.2 L947.6 643.54 L947.7 632.91 L947.8 634.23 L947.91 626.58 L948.01 633.62 L948.11 644.29 L948.21 642.65 L948.31 639.93 L948.42 648.81 L948.52 663.01 L948.62 620.69 L948.72 653.25 L948.82 629.88 L948.92 673.72 L949.03 645.71 L949.13 650.67 L949.23 657.63 L949.33 670.99 L949.43 623.15 L949.53 647.54 L949.63 630.42 L949.73 678.48 L949.83 625.63 L949.93 657.92 L950.03 636.84 L950.13 671.95 L950.23 638.09 L950.33 631.06 L950.43 663.48 L950.53 630.09 L950.63 630.23 L950.73 684.65 L950.83 683.89 L950.93 632.49 L951.03 638.94 L951.13 687.86 L951.22 651.04 L951.32 637.61 L951.42 638.31 L951.52 642.86 L951.62 639.98 L951.72 630.33 L951.82 628.65 L951.91 647.28 L952.01 640.16 L952.11 636.22 L952.21 657.39 L952.3 664.5 L952.4 642.17 L952.5 606.79 L952.6 653.55 L952.69 679.92 L952.79 609.24 L952.89 652.36 L952.98 626.9 L953.08 673.05 L953.18 601.1 L953.27 624.65 L953.37 636.77 L953.47 632.93 L953.56 649.66 L953.66 669.64 L953.76 622.46 L953.85 619.63 L953.95 681.62 L954.04 651.39 L954.14 608.84 L954.24 589.71 L954.33 646.38 L954.43 632.98 L954.52 665.04 L954.62 637.75 L954.71 666.28 L954.81 673.74 L954.9 615.88 L955 588.26 L955.09 635.12 L955.19 638.25 L955.28 633.31 L955.37 663.85 L955.47 649.28 L955.56 659.67 L955.66 617.01 L955.75 588.13 L955.84 626.15 L955.94 622.14 L956.03 637.41 L956.13 630.05 L956.22 622.09 L956.31 647.94 L956.41 634.08 L956.5 627.16 L956.59 642.27 L956.68 619.97 L956.78 685.48 L956.87 660.61 L956.96 609.29 L957.06 598.37 L957.15 638.4 L957.24 628.79 L957.33 623.03 L957.42 613.13 L957.52 613.33 L957.61 678.63 L957.7 648.81 L957.79 636.97 L957.88 616.79 L957.98 613.97 L958.07 615.41 L958.16 630.56 L958.25 607.88 L958.34 629.84 L958.43 643.89 L958.52 614.87 L958.62 598.36 L958.71 664.22 L958.8 618.69 L958.89 634.39 L958.98 663.1 L959.07 645.49 L959.16 633.85 L959.25 629.11 L959.34 608.46 L959.43 627.98 L959.52 642.72 L959.61 655.83 L959.7 615.22" stroke="#D95319" stroke-width="5.0" fill="none" stroke-linejoin="round" stroke-linecap="butt"/>
<path d="M132 856.6V846.1M132 515.3V525.8M338.93 856.6V846.1M338.93 515.3V525.8M545.85 856.6V846.1M545.85 515.3V525.8M752.78 856.6V846.1M752.78 515.3V525.8M959.7 856.6V846.1M959.7 515.3V525.8M194.29 856.6V852.4M194.29 515.3V519.5M230.73 856.6V852.4M230.73 515.3V519.5M256.58 856.6V852.4M256.58 515.3V519.5M276.63 856.6V852.4M276.63 515.3V519.5M293.02 856.6V852.4M293.02 515.3V519.5M306.87 856.6V852.4M306.87 515.3V519.5M318.87 856.6V852.4M318.87 515.3V519.5M329.46 856.6V852.4M329.46 515.3V519.5M401.22 856.6V852.4M401.22 515.3V519.5M437.65 856.6V852.4M437.65 515.3V519.5M463.51 856.6V852.4M463.51 515.3V519.5M483.56 856.6V852.4M483.56 515.3V519.5M499.94 856.6V852.4M499.94 515.3V519.5M513.8 856.6V852.4M513.8 515.3V519.5M525.8 856.6V852.4M525.8 515.3V519.5M536.38 856.6V852.4M536.38 515.3V519.5M608.14 856.6V852.4M608.14 515.3V519.5M644.58 856.6V852.4M644.58 515.3V519.5M670.43 856.6V852.4M670.43 515.3V519.5M690.48 856.6V852.4M690.48 515.3V519.5M706.87 856.6V852.4M706.87 515.3V519.5M720.72 856.6V852.4M720.72 515.3V519.5M732.72 856.6V852.4M732.72 515.3V519.5M743.31 856.6V852.4M743.31 515.3V519.5M815.07 856.6V852.4M815.07 515.3V519.5M851.5 856.6V852.4M851.5 515.3V519.5M877.36 856.6V852.4M877.36 515.3V519.5M897.41 856.6V852.4M897.41 515.3V519.5M913.79 856.6V852.4M913.79 515.3V519.5M927.65 856.6V852.4M927.65 515.3V519.5M939.65 856.6V852.4M939.65 515.3V519.5M950.23 856.6V852.4M950.23 515.3V519.5M132 751.61H142.9M959.7 751.61H948.8M132 550.7H142.9M959.7 550.7H948.8M132 856.66H138.6M959.7 856.66H953.1M132 831.55H138.6M959.7 831.55H953.1M132 812.09H138.6M959.7 812.09H953.1M132 796.18H138.6M959.7 796.18H953.1M132 782.73H138.6M959.7 782.73H953.1M132 771.08H138.6M959.7 771.08H953.1M132 760.8H138.6M959.7 760.8H953.1M132 691.13H138.6M959.7 691.13H953.1M132 655.75H138.6M959.7 655.75H953.1M132 630.65H138.6M959.7 630.65H953.1M132 611.18H138.6M959.7 611.18H953.1M132 595.27H138.6M959.7 595.27H953.1M132 581.82H138.6M959.7 581.82H953.1M132 570.17H138.6M959.7 570.17H953.1M132 559.89H138.6M959.7 559.89H953.1" stroke="#262626" stroke-width="5.0" fill="none"/>
<rect x="132" y="515.3" width="827.7" height="341.3" stroke="#262626" stroke-width="5.0" fill="none" stroke-linejoin="miter"/>
<rect x="159.2" y="734" width="262.8" height="91.7" fill="#fff" stroke="#262626" stroke-width="5"/>
<path d="M172.6 759.3H261.8" stroke="#0072BD" stroke-width="5.5"/>
<path d="M172.6 801H261.8" stroke="#D95319" stroke-width="5.5"/>
<text x="266.52" y="768.3" font-size="37" fill="#000" textLength="142.63" lengthAdjust="spacing">CB-HBT</text>
<text x="268.33" y="810.6" font-size="37" fill="#000" textLength="140.82" lengthAdjust="spacing">AC-HBT</text>
<path transform="translate(52.82 570) scale(0.04100 -0.04100)" d="M266 0L349 0L349 688L285 688C270 620 220 565 102 556L102 493L266 493Z" fill="#3b3b3b"/>
<text x="75.62" y="570" font-size="41" fill="#3b3b3b">0</text>
<text x="98.42" y="550.7" font-size="33" text-anchor="start" fill="#3b3b3b">2</text>
<path transform="translate(52.82 771.7) scale(0.04100 -0.04100)" d="M266 0L349 0L349 688L285 688C270 620 220 565 102 556L102 493L266 493Z" fill="#3b3b3b"/>
<text x="75.62" y="771.7" font-size="41" fill="#3b3b3b">0</text>
<path transform="translate(98.42 752.4) scale(0.03300 -0.03300)" d="M266 0L349 0L349 688L285 688C270 620 220 565 102 556L102 493L266 493Z" fill="#3b3b3b"/>
<path transform="translate(100.02 916.6) scale(0.04100 -0.04100)" d="M266 0L349 0L349 688L285 688C270 620 220 565 102 556L102 493L266 493Z" fill="#3b3b3b"/>
<text x="122.82" y="916.6" font-size="41" fill="#3b3b3b">0</text>
<text x="145.63" y="897.3" font-size="33" text-anchor="start" fill="#3b3b3b">2</text>
<path transform="translate(306.95 916.6) scale(0.04100 -0.04100)" d="M266 0L349 0L349 688L285 688C270 620 220 565 102 556L102 493L266 493Z" fill="#3b3b3b"/>
<text x="329.75" y="916.6" font-size="41" fill="#3b3b3b">0</text>
<text x="352.55" y="897.3" font-size="33" text-anchor="start" fill="#3b3b3b">3</text>
<path transform="translate(513.87 916.6) scale(0.04100 -0.04100)" d="M266 0L349 0L349 688L285 688C270 620 220 565 102 556L102 493L266 493Z" fill="#3b3b3b"/>
<text x="536.67" y="916.6" font-size="41" fill="#3b3b3b">0</text>
<text x="559.48" y="897.3" font-size="33" text-anchor="start" fill="#3b3b3b">4</text>
<path transform="translate(720.8 916.6) scale(0.04100 -0.04100)" d="M266 0L349 0L349 688L285 688C270 620 220 565 102 556L102 493L266 493Z" fill="#3b3b3b"/>
<text x="743.6" y="916.6" font-size="41" fill="#3b3b3b">0</text>
<text x="766.4" y="897.3" font-size="33" text-anchor="start" fill="#3b3b3b">5</text>
<path transform="translate(927.72 916.6) scale(0.04100 -0.04100)" d="M266 0L349 0L349 688L285 688C270 620 220 565 102 556L102 493L266 493Z" fill="#3b3b3b"/>
<text x="950.52" y="916.6" font-size="41" fill="#3b3b3b">0</text>
<text x="973.33" y="897.3" font-size="33" text-anchor="start" fill="#3b3b3b">6</text>
<text x="384.69" y="968.3" font-size="46.5" fill="#3b3b3b" textLength="320.1" lengthAdjust="spacing">Frequency (Hz)</text>
<text transform="translate(33.8 898.09) rotate(-90)" x="0" y="0" font-size="45" fill="#3b3b3b" textLength="422.98" lengthAdjust="spacing">Noise (Input) (fA/√Hz)</text>
<text x="208.8" y="563" font-size="41" text-anchor="start" fill="#000">(c)</text>
<path d="M126 1022 L135.1 1025.2 L147.2 1028.2 L156.2 1032.2 L165.3 1029.2 L181.4 1029.8 L195.5 1031.2 L209.6 1033.2 L221.7 1038.3 L234.4 1049.1 L244.18 1058 L246.37 1062 L248.46 1066 L250.45 1070 L252.36 1074 L254.18 1078 L255.91 1082 L257.57 1086 L259.16 1090 L260.67 1094 L262.12 1098 L263.5 1102 L264.83 1106 L266.09 1110 L267.31 1114 L268.48 1118 L269.6 1122 L270.68 1126 L271.72 1130 L272.73 1134 L273.7 1138 L274.64 1142 L275.55 1146 L276.44 1150 L277.31 1154 L278.15 1158 L278.98 1162 L279.79 1166 L280.59 1170 L281.38 1174 L282.16 1178 L282.93 1182 L283.7 1186 L284.46 1190 L285.22 1194 L285.98 1198 L286.75 1202 L287.51 1206 L288.28 1210 L289.06 1214 L289.84 1218 L290.63 1222 L291.43 1226 L292.24 1230 L293.06 1234 L293.89 1238 L294.73 1242 L295.58 1246 L296.45 1250 L297.33 1254 L298.22 1258 L299.13 1262 L300.05 1266 L300.98 1270 L301.93 1274 L302.89 1278 L303.86 1282 L304.85 1286 L305.85 1290 L306.86 1294 L307.88 1298 L308.91 1302 L309.95 1306 L311.01 1310 L312.07 1314 L313.13 1318 L314.21 1322 L315.28 1326 L316.36 1330 L317.45 1334 L318.53 1338 L319.61 1342 L320.69 1346 L321.76 1350 L322.83 1354 L323.89 1358 L324.94 1362 L325.98 1366 L327 1370 L328 1374 L328.99 1378" stroke="#0072BD" stroke-width="5.5" fill="none" stroke-linejoin="miter" stroke-linecap="butt" stroke-miterlimit="12"/>
<path d="M163 1047.9 L182.57 1032.2 L196.45 1037.9 L207.22 1032.2 L216.02 1042.3 L223.45 1044.7 L229.9 1041.3 L235.58 1048.3 L240.67 1051.4 L245.27 1062.4 L249.47 1048.3 L253.33 1058.4 L256.9 1054.4 L260.23 1061.94 L263.35 1062.52 L266.27 1064.08 L269.03 1066.71 L271.64 1069.8 L274.12 1066.75 L276.47 1070.38 L278.72 1075.24 L280.86 1074.58 L282.91 1075.28 L284.88 1075.89 L286.78 1072.63 L288.6 1070.11 L290.35 1070.89 L292.05 1068.77 L293.68 1065.6 L295.27 1068.93 L296.8 1068.79 L298.28 1065.12 L299.72 1068.32 L301.12 1066.21 L302.48 1070.53 L303.8 1070.59 L305.09 1071.49 L306.34 1075.35 L307.57 1069.75 L308.76 1075.39 L309.92 1069.67 L311.06 1066.96 L312.16 1070.24 L313.25 1071.18 L314.31 1074.78 L315.35 1067.77 L316.36 1071.51 L317.36 1071.09 L318.33 1062.28 L319.29 1069.01 L320.23 1072.89 L321.15 1073.25 L322.05 1074.84 L322.93 1072.55 L323.8 1071.95 L324.66 1070.78 L325.5 1075.35 L326.32 1066.09 L327.13 1069.15 L327.93 1071.78 L328.71 1063.17 L329.49 1075.81 L330.25 1065.76 L330.99 1065.62 L331.73 1079.56 L332.46 1065.15 L333.17 1064.09 L333.88 1076.93 L334.57 1068.31 L335.26 1062.11 L335.93 1072.29 L336.6 1072.02 L337.25 1072.63 L337.9 1071.64 L338.54 1075.97 L339.17 1074.51 L339.79 1072.64 L340.41 1069.54 L341.02 1067.7 L341.61 1064.46 L342.21 1073.05 L342.79 1067.15 L343.37 1073.9 L343.94 1078.19 L344.51 1064.15 L345.06 1055.87 L345.61 1069.84 L346.16 1075.47 L346.7 1072.46 L347.23 1069.85 L347.76 1068 L348.28 1075.06 L348.8 1081.2 L349.31 1076.78 L349.81 1078.5 L350.31 1080.01 L350.81 1082.71 L351.3 1079.91 L351.78 1084.98 L352.26 1083.67 L352.74 1085.65 L353.21 1084.02 L353.68 1082.39 L354.14 1084.79 L354.6 1088.15 L355.05 1086.67 L355.5 1084.26 L355.94 1092.69 L356.38 1094.37 L356.82 1085.82 L357.25 1094.84 L357.68 1089.32 L358.11 1089.39 L358.53 1093.07 L358.95 1084.91 L359.36 1092.11 L359.77 1091.83 L360.18 1089.3 L360.58 1092.09 L360.98 1090.45 L361.38 1080.31 L361.77 1090.4 L362.16 1090.18 L362.55 1095.22 L362.94 1088.42 L363.32 1089.28 L363.7 1087.19 L364.07 1087.93 L364.44 1094.47 L364.81 1090.03 L365.18 1088.19 L365.55 1089.03 L365.91 1091.11 L366.27 1086.8 L366.62 1084.38 L366.98 1093.76 L367.33 1091.12 L367.67 1084.36 L368.02 1085.94 L368.36 1084.21 L368.71 1084.3 L369.04 1091.1 L369.38 1088.59 L369.71 1087.66 L370.05 1081.85 L370.38 1078.05 L370.7 1089.75 L371.03 1088.96 L371.35 1081.82 L371.67 1090.56 L371.99 1092.69 L372.31 1082.54 L372.62 1083.98 L372.93 1088.12 L373.24 1079.98 L373.55 1093.48 L373.86 1092.51 L374.16 1092.02 L374.46 1088.23 L374.77 1080.59 L375.06 1084.52 L375.36 1088.19 L375.66 1092.34 L375.95 1077.6 L376.24 1095.25 L376.53 1100.69 L376.82 1099.82 L377.11 1100.38 L377.39 1093.61 L377.67 1097.75 L377.95 1091.17 L378.23 1098.25 L378.51 1093.16 L378.79 1091.99 L379.06 1094.51 L379.34 1098.22 L379.61 1096.46 L379.88 1096.28 L380.15 1088.27 L380.42 1096.53 L380.68 1085.63 L380.95 1103.37 L381.21 1092.49 L381.47 1097.69 L381.73 1094.21 L381.99 1094.77 L382.25 1093.95 L382.5 1097.16 L382.76 1105.15 L383.01 1096.98 L383.26 1093.74 L383.51 1090.72 L383.76 1097.18 L384.01 1096.71 L384.26 1093.97 L384.5 1091.89 L384.75 1099.01 L384.99 1107.45 L385.23 1094.86 L385.47 1101.97 L385.71 1108.46 L385.95 1109.22 L386.19 1099.55 L386.42 1099.63 L386.66 1107.12 L386.89 1098.44 L387.13 1099.91 L387.36 1098.81 L387.59 1100.62 L387.82 1100.64 L388.04 1103.26 L388.27 1109.15 L388.5 1110.72 L388.72 1102.98 L388.95 1100.58 L389.17 1101.2 L389.39 1101.52 L389.61 1105.54 L389.83 1099.38 L390.05 1100.78 L390.27 1106.28 L390.49 1099.47 L390.7 1103.41 L390.92 1105.94 L391.13 1106.22 L391.34 1112.83 L391.56 1100.84 L391.77 1106.36 L391.98 1108.3 L392.19 1092.78 L392.4 1108.16 L392.6 1102.81 L392.81 1108.39 L393.02 1107.82 L393.22 1098.2 L393.42 1095.05 L393.63 1097.19 L393.83 1101.26 L394.03 1110.89 L394.23 1106.22 L394.43 1112.5 L394.63 1111.8 L394.83 1105.78 L395.03 1097.83 L395.22 1104.57 L395.42 1105.38 L395.61 1102.77 L395.81 1107.65 L396 1105.26 L396.19 1106.29 L396.39 1106.98 L396.58 1100.96 L396.77 1101.28 L396.96 1114.08 L397.15 1115.06 L397.33 1102.65 L397.52 1097.22 L397.71 1102.85 L397.89 1097.25 L398.08 1114.96 L398.26 1110.3 L398.45 1113.55 L398.63 1116.5 L398.81 1106.52 L398.99 1094.73 L399.18 1106.98 L399.36 1112.55 L399.54 1097.29 L399.72 1110.54 L399.89 1113.53 L400.07 1113.56 L400.25 1109.59 L400.42 1102.41 L400.6 1102.64 L400.78 1113.56 L400.95 1109.86 L401.12 1106.26 L401.3 1104.95 L401.47 1104.13 L401.64 1105.09 L401.81 1108.97 L401.98 1093.12 L402.15 1104.34 L402.32 1111.9 L402.49 1101.81 L402.66 1110.89 L402.83 1110.26 L403 1108.08 L403.16 1108.23 L403.33 1118.64 L403.5 1104.69 L403.66 1117.42 L403.82 1100.18 L403.99 1112.38 L404.15 1109.23 L404.31 1100.15 L404.48 1102.41 L404.64 1117.57 L404.8 1105.32 L404.96 1099.4 L405.12 1109.28 L405.28 1108.91 L405.44 1110.24 L405.6 1105.73 L405.76 1107.05 L405.91 1113.8 L406.07 1104.53 L406.23 1110.16 L406.38 1112.25 L406.54 1115.83 L406.69 1104.98 L406.85 1100.53 L407 1101.75 L407.15 1108.88 L407.31 1105.62 L407.46 1101.62 L407.61 1108 L407.76 1110.31 L407.91 1105.93 L408.06 1118.77 L408.21 1118.19 L408.36 1097.57 L408.51 1110.27 L408.66 1109.23 L408.81 1112.91 L408.96 1110.62 L409.11 1115.21 L409.25 1111.61 L409.4 1114.31 L409.54 1097.97 L409.69 1090.9 L409.84 1108.97 L409.98 1106.71 L410.12 1106.93 L410.27 1101.71 L410.41 1119.73 L410.55 1104.12 L410.7 1117.79 L410.84 1103.34 L410.98 1119.95 L411.12 1109.46 L411.26 1113.78 L411.4 1103.5 L411.54 1112.91 L411.68 1119.67 L411.82 1102.18 L411.96 1106.94 L412.1 1111.86 L412.24 1106.95 L412.38 1107.06 L412.51 1117.28 L412.65 1110.84 L412.79 1118.14 L412.92 1112.45 L413.06 1104.05 L413.19 1102.81 L413.33 1118.75 L413.46 1091.87 L413.6 1109.26 L413.73 1114.25 L413.87 1116.7 L414 1115.63 L414.13 1106.85 L414.26 1123.01 L414.4 1100.15 L414.53 1110.98 L414.66 1107.25 L414.79 1102.89 L414.92 1106.38 L415.05 1107.88 L415.18 1118.72 L415.31 1100.32 L415.44 1107.13 L415.57 1114.22 L415.7 1113.1 L415.82 1115.39 L415.95 1121.2 L416.08 1106.17 L416.21 1112.27 L416.33 1114.18 L416.46 1118.42 L416.59 1117.25 L416.71 1111.18 L416.84 1102.68 L416.96 1098.63 L417.09 1102.42 L417.21 1117.85 L417.34 1110.59 L417.46 1108.5 L417.58 1111.04 L417.71 1120.32 L417.83 1113.22 L417.95 1105.45 L418.08 1115.13 L418.2 1104.58 L418.32 1115.08 L418.44 1119.27 L418.56 1093.22 L418.68 1114.68 L418.8 1114.5 L418.92 1118.29 L419.04 1115.22 L419.16 1112.02 L419.28 1103.49 L419.4 1113.57 L419.52 1106.35 L419.64 1115.67 L419.76 1112.29 L419.87 1115.11 L419.99 1106.79 L420.11 1109.49 L420.23 1109.31 L420.34 1118.39 L420.46 1110.76 L420.57 1110.39 L420.69 1110.63 L420.81 1106.87 L420.92 1099.75 L421.04 1119.97 L421.15 1104.62 L421.27 1112.37 L421.38 1100.77 L421.49 1098.45 L421.61 1115.76 L421.72 1111 L421.83 1114.8 L421.95 1119.6 L422.06 1116.18 L422.17 1108.57 L422.28 1109.07 L422.4 1101.37 L422.51 1110.22 L422.62 1111.53 L422.73 1105.74 L422.84 1094.34 L422.95 1099.14 L423.06 1115.53 L423.17 1105.29 L423.28 1120.69 L423.39 1094.49 L423.5 1110.98 L423.61 1114.13 L423.72 1112.71 L423.83 1106.94 L423.94 1117.12 L424.04 1118.93 L424.15 1120.2 L424.26 1105.89 L424.37 1107.96 L424.47 1114.16 L424.58 1113.23 L424.69 1118.66 L424.79 1104.33 L424.9 1115.05 L425.01 1110.37 L425.11 1117.36 L425.22 1122.43 L425.32 1106.06 L425.43 1119.29 L425.53 1110.29 L425.64 1105.42 L425.74 1111.41 L425.84 1115.77 L425.95 1117.02 L426.05 1106.17 L426.16 1113.61 L426.26 1113.91 L426.36 1127.97 L426.46 1106.57 L426.57 1115.53 L426.67 1116.97 L426.77 1116.75 L426.87 1111.38 L426.98 1113.88 L427.08 1111.99 L427.18 1124.51 L427.28 1117.12 L427.38 1112.56 L427.48 1111.69 L427.58 1115.91 L427.68 1116.38 L427.78 1114.88 L427.88 1121.26 L427.98 1113.47 L428.08 1113.68 L428.18 1121.33 L428.28 1118.13 L428.38 1123.05 L428.48 1111.9 L428.57 1115.37 L428.67 1119.89 L428.77 1118.66 L428.87 1123.94 L428.97 1119.91 L429.06 1111.2 L429.16 1120.37 L429.26 1121.57 L429.35 1108.84 L429.45 1115.65 L429.55 1117.1 L429.64 1124.87 L429.74 1115.3 L429.84 1124.37 L429.93 1109.04 L430.03 1113.26 L430.12 1124.71 L430.22 1114.54 L430.31 1125.37 L430.41 1114.2 L430.5 1119.74 L430.6 1120.55 L430.69 1113.64 L430.78 1104.57 L430.88 1123.49 L430.97 1111.47 L431.06 1125.15 L431.16 1121.89 L431.25 1125.56 L431.34 1120.19 L431.44 1116.24 L431.53 1114.71 L431.62 1120.76 L431.71 1124.1 L431.81 1119.13 L431.9 1123.38 L431.99 1123.84 L432.08 1128.69 L432.17 1121.36 L432.26 1116.82 L432.35 1125.31 L432.44 1125.43 L432.53 1119.77 L432.63 1115.15 L432.72 1117.08 L432.81 1123.08 L432.9 1118.99 L432.99 1112.19 L433.08 1121.32 L433.16 1122.7 L433.25 1129.87 L433.34 1116.31 L433.43 1127.97 L433.52 1132.9 L433.61 1124.44 L433.7 1135.17 L433.79 1119.3 L433.87 1131.97 L433.96 1121.61 L434.05 1110.44 L434.14 1125.81 L434.23 1133.44 L434.31 1121.35 L434.4 1126.79 L434.49 1124.11 L434.57 1123.44 L434.66 1126.99 L434.75 1123.46 L434.83 1127.73 L434.92 1131.26 L435.01 1122.99 L435.09 1120.26 L435.18 1125.64 L435.26 1136.67 L435.35 1109.96 L435.43 1123.34 L435.52 1127.96 L435.6 1136.06 L435.69 1117.25 L435.77 1122.05 L435.86 1126.52 L435.94 1130.02 L436.03 1136.89 L436.11 1122.67 L436.2 1123.68 L436.28 1127.61 L436.36 1129.5 L436.45 1121.09 L436.53 1124.58 L436.61 1131.82 L436.7 1125.25 L436.78 1129.79 L436.86 1128.44 L436.94 1130.78 L437.03 1129.86 L437.11 1129.16 L437.19 1133.85 L437.27 1127.02 L437.36 1128.84 L437.44 1133.6 L437.52 1120.9 L437.6 1122.7 L437.68 1121.64 L437.76 1128.23 L437.85 1138.19 L437.93 1131.15 L438.01 1137.7 L438.09 1132.54 L438.17 1129.64 L438.25 1128.16 L438.33 1130.68 L438.41 1129.37 L438.49 1133.82 L438.57 1121.31 L438.65 1130.63 L438.73 1132.05 L438.81 1126.17 L438.89 1127.11 L438.97 1132.72 L439.05 1132.86 L439.13 1129.96 L439.2 1130.46 L439.28 1123.12 L439.36 1133.19 L439.44 1129.74 L439.52 1125.34 L439.6 1126.49 L439.68 1133.78 L439.75 1132.38 L439.83 1126.71 L439.91 1134.55 L439.99 1134.06 L440.06 1134.2 L440.14 1138.39 L440.22 1129.68 L440.3 1134.59 L440.37 1130.47 L440.45 1136.56 L440.53 1137.46 L440.6 1134.65 L440.68 1135.91 L440.76 1129.46 L440.83 1135.66 L440.91 1129.88 L440.98 1142.62 L441.06 1138.37 L441.14 1128.68 L441.21 1132.75 L441.29 1139.38 L441.36 1131.61 L441.44 1136.38 L441.51 1129.79 L441.59 1134.62 L441.66 1128.15 L441.74 1137.15 L441.81 1130.39 L441.89 1141.21 L441.96 1128.2 L442.04 1140.6 L442.11 1135.24 L442.19 1137.66 L442.26 1134.94 L442.33 1130.46 L442.41 1140.31 L442.48 1130.67 L442.55 1131.21 L442.63 1130.52 L442.7 1132.1 L442.78 1137.44 L442.85 1134.01 L442.92 1126.22 L442.99 1140.87 L443.07 1131.33 L443.14 1140.39 L443.21 1140.2 L443.29 1143.88 L443.36 1139.62 L443.43 1132.88 L443.5 1130.54 L443.57 1137.87 L443.65 1143.36 L443.72 1139.87 L443.79 1138.35 L443.86 1140.51 L443.93 1137.26 L444 1141.25 L444.08 1139.78 L444.15 1143.8 L444.22 1140.8 L444.29 1143.61 L444.36 1136.41 L444.43 1142.74 L444.5 1132.24 L444.57 1142.74 L444.64 1141.19 L444.71 1138.16 L444.78 1135.64 L444.85 1139.18 L444.92 1142.74 L444.99 1139.24 L445.06 1146.07 L445.13 1141.09 L445.2 1139.67 L445.27 1139.17 L445.34 1144.61 L445.41 1142.75 L445.48 1140.65 L445.55 1142.43 L445.62 1145.96 L445.69 1151.58 L445.76 1143.99 L445.83 1134.09 L445.89 1138.01 L445.96 1144.57 L446.03 1153.38 L446.1 1136.88 L446.17 1139.39 L446.24 1145.64 L446.3 1144.86 L446.37 1141.78 L446.44 1147.54 L446.51 1141.77 L446.58 1140.5 L446.64 1149.38 L446.71 1142.01 L446.78 1142.99 L446.85 1151.08 L446.91 1143.09 L446.98 1143.66 L447.05 1140.4 L447.11 1148.41 L447.18 1140.95 L447.25 1144.27 L447.31 1144.85 L447.38 1143.72 L447.45 1150.75 L447.51 1145.91 L447.58 1140.68 L447.65 1147.89 L447.71 1146.41 L447.78 1145.37 L447.84 1150.98 L447.91 1150.1 L447.98 1144.1 L448.04 1149.71 L448.11 1152.64 L448.17 1149.17 L448.24 1149.33 L448.3 1141.39 L448.37 1146.1 L448.43 1147.02 L448.5 1152.1 L448.56 1148.09 L448.63 1153.12 L448.69 1146.6 L448.76 1151.72 L448.82 1148.05 L448.89 1144.95 L448.95 1150.9 L449.02 1150.33 L449.08 1143.55 L449.15 1145.54 L449.21 1154.23 L449.27 1151.94 L449.34 1153.8 L449.4 1153.88 L449.47 1149.22 L449.53 1151.47 L449.59 1159.67 L449.66 1148.77 L449.72 1151.9 L449.78 1141.86 L449.85 1156.97 L449.91 1151.44 L449.97 1150.67 L450.04 1146.24 L450.1 1149 L450.16 1150.58 L450.22 1140.06 L450.29 1150.44 L450.35 1147.78 L450.41 1152.69 L450.47 1145.71 L450.54 1153.32 L450.6 1159.23 L450.66 1152.31 L450.72 1150.39 L450.79 1156.87 L450.85 1162.18 L450.91 1149.24 L450.97 1153.57 L451.03 1153.16 L451.1 1153.98 L451.16 1156.94 L451.22 1154.22 L451.28 1151.74 L451.34 1150.16 L451.4 1152.5 L451.46 1153.13 L451.52 1156.99 L451.59 1157.56 L451.65 1149.27 L451.71 1161.92 L451.77 1159.63 L451.83 1157.94 L451.89 1158.7 L451.95 1157.84 L452.01 1159.5 L452.07 1160.25 L452.13 1157.23 L452.19 1153.62 L452.25 1157.23 L452.31 1155.88 L452.37 1155.2 L452.43 1160.23 L452.49 1154.71 L452.55 1161.54 L452.61 1149.52 L452.67 1157.14 L452.73 1156.46 L452.79 1168.52 L452.85 1165.11 L452.91 1155.02 L452.97 1163.77 L453.03 1166.96 L453.09 1155.82 L453.15 1158.9 L453.21 1163.85 L453.26 1161.81 L453.32 1154.8 L453.38 1167.42 L453.44 1162.79 L453.5 1164.18 L453.56 1171.29 L453.62 1163.22 L453.68 1172.59 L453.73 1162.76 L453.79 1157.68 L453.85 1162.32 L453.91 1165.76 L453.97 1164.97 L454.02 1163.89 L454.08 1158.8 L454.14 1159.88 L454.2 1160 L454.26 1166.14 L454.31 1169.53 L454.37 1158.65 L454.43 1159.53 L454.49 1155.36 L454.54 1162.4 L454.6 1164.78 L454.66 1158.47 L454.72 1162.04 L454.77 1168.94 L454.83 1167.91 L454.89 1162.16 L454.94 1161.27 L455 1157.62 L455.06 1165.31 L455.11 1168.89 L455.17 1165.61 L455.23 1164.86 L455.28 1159.3 L455.34 1175.46 L455.4 1170.31 L455.45 1169.81 L455.51 1169.59 L455.57 1173.72 L455.62 1173.58 L455.68 1170.11 L455.73 1169.87 L455.79 1163.23 L455.85 1172.98 L455.9 1167.31 L455.96 1166.3 L456.01 1178.89 L456.07 1175.05 L456.12 1173.83 L456.18 1180.27 L456.24 1175.76 L456.29 1177.92 L456.35 1175.5 L456.4 1177.31 L456.46 1172.74 L456.51 1173.18 L456.57 1176.1 L456.62 1179.2 L456.68 1174.73 L456.73 1182.45 L456.79 1175.46 L456.84 1168.87 L456.9 1184.22 L456.95 1180.48 L457 1172.87 L457.06 1181.1 L457.11 1178.96 L457.17 1184.58 L457.22 1180.61 L457.28 1193.5 L457.33 1182.23 L457.38 1184.09 L457.44 1181.11 L457.49 1178.86 L457.55 1177.1 L457.6 1176.1 L457.65 1181.43 L457.71 1186.87 L457.76 1182.22 L457.82 1194.77 L457.87 1186.4 L457.92 1184.3 L457.98 1191.68 L458.03 1177.77 L458.08 1183.48 L458.14 1196.05 L458.19 1192.59 L458.24 1181.71 L458.3 1187.68 L458.35 1205.32 L458.4 1196.13 L458.45 1187.86 L458.51 1195.68 L458.56 1202" stroke="#D95319" stroke-width="5.0" fill="none" stroke-linejoin="miter" stroke-linecap="butt" stroke-miterlimit="12"/>
<path d="M129.55 1375.3V1368.7M129.55 998.7V1005.3M240.67 1375.3V1368.7M240.67 998.7V1005.3M351.78 1375.3V1368.7M351.78 998.7V1005.3M462.9 1375.3V1368.7M462.9 998.7V1005.3M163 1375.3V1370.6M163 998.7V1003.4M182.57 1375.3V1370.6M182.57 998.7V1003.4M196.45 1375.3V1370.6M196.45 998.7V1003.4M207.22 1375.3V1370.6M207.22 998.7V1003.4M216.02 1375.3V1370.6M216.02 998.7V1003.4M223.45 1375.3V1370.6M223.45 998.7V1003.4M229.9 1375.3V1370.6M229.9 998.7V1003.4M235.58 1375.3V1370.6M235.58 998.7V1003.4M274.12 1375.3V1370.6M274.12 998.7V1003.4M293.68 1375.3V1370.6M293.68 998.7V1003.4M307.57 1375.3V1370.6M307.57 998.7V1003.4M318.33 1375.3V1370.6M318.33 998.7V1003.4M327.13 1375.3V1370.6M327.13 998.7V1003.4M334.57 1375.3V1370.6M334.57 998.7V1003.4M341.02 1375.3V1370.6M341.02 998.7V1003.4M346.7 1375.3V1370.6M346.7 998.7V1003.4M385.23 1375.3V1370.6M385.23 998.7V1003.4M404.8 1375.3V1370.6M404.8 998.7V1003.4M418.68 1375.3V1370.6M418.68 998.7V1003.4M429.45 1375.3V1370.6M429.45 998.7V1003.4M438.25 1375.3V1370.6M438.25 998.7V1003.4M445.69 1375.3V1370.6M445.69 998.7V1003.4M452.13 1375.3V1370.6M452.13 998.7V1003.4M457.82 1375.3V1370.6M457.82 998.7V1003.4M129.55 1375.3H136.15M462.9 1375.3H456.3M129.55 1204.12H136.15M462.9 1204.12H456.3M129.55 1032.94H136.15M462.9 1032.94H456.3M129.55 1332.5H134.25M462.9 1332.5H458.2M129.55 1289.71H134.25M462.9 1289.71H458.2M129.55 1246.91H134.25M462.9 1246.91H458.2M129.55 1161.32H134.25M462.9 1161.32H458.2M129.55 1118.53H134.25M462.9 1118.53H458.2M129.55 1075.73H134.25M462.9 1075.73H458.2" stroke="#262626" stroke-width="5.0" fill="none"/>
<rect x="129.55" y="998.7" width="333.35" height="376.6" stroke="#262626" stroke-width="5.0" fill="none" stroke-linejoin="miter"/>
<path transform="translate(91.22 1043.8) scale(0.04100 -0.04100)" d="M266 0L349 0L349 688L285 688C270 620 220 565 102 556L102 493L266 493Z" fill="#3b3b3b"/>
<text x="58.4" y="1215.5" font-size="41" text-anchor="start" fill="#3b3b3b">0.5</text>
<text x="91.1" y="1386.5" font-size="41" text-anchor="start" fill="#3b3b3b">0</text>
<path transform="translate(97.57 1435.5) scale(0.04100 -0.04100)" d="M266 0L349 0L349 688L285 688C270 620 220 565 102 556L102 493L266 493Z" fill="#3b3b3b"/>
<text x="120.37" y="1435.5" font-size="41" fill="#3b3b3b">0</text>
<text x="143.18" y="1416.2" font-size="33" text-anchor="start" fill="#3b3b3b">3</text>
<path transform="translate(208.69 1435.5) scale(0.04100 -0.04100)" d="M266 0L349 0L349 688L285 688C270 620 220 565 102 556L102 493L266 493Z" fill="#3b3b3b"/>
<text x="231.49" y="1435.5" font-size="41" fill="#3b3b3b">0</text>
<text x="254.29" y="1416.2" font-size="33" text-anchor="start" fill="#3b3b3b">4</text>
<path transform="translate(319.8 1435.5) scale(0.04100 -0.04100)" d="M266 0L349 0L349 688L285 688C270 620 220 565 102 556L102 493L266 493Z" fill="#3b3b3b"/>
<text x="342.61" y="1435.5" font-size="41" fill="#3b3b3b">0</text>
<text x="365.41" y="1416.2" font-size="33" text-anchor="start" fill="#3b3b3b">5</text>
<path transform="translate(430.92 1435.5) scale(0.04100 -0.04100)" d="M266 0L349 0L349 688L285 688C270 620 220 565 102 556L102 493L266 493Z" fill="#3b3b3b"/>
<text x="453.72" y="1435.5" font-size="41" fill="#3b3b3b">0</text>
<text x="476.53" y="1416.2" font-size="33" text-anchor="start" fill="#3b3b3b">6</text>
<text x="134.49" y="1485.7" font-size="46.5" fill="#3b3b3b" textLength="320.4" lengthAdjust="spacing">Frequency (Hz)</text>
<text transform="translate(39.6 1310.12) rotate(-90)" x="0" y="0" font-size="46.6" fill="#3b3b3b" textLength="245.21" lengthAdjust="spacing">Signal (Arb)</text>
<text x="150.2" y="1110.1" font-size="41" text-anchor="start" fill="#000">(d)</text>
<path d="M630.5 1213 L657.9 1218.4 L682 1213 L701.6 1218.4 L709.6 1213.2 L717.9 1210.4 L731.5 1213.1 L753.4 1207.4 L767.4 1199.3 L791.6 1185.1 L808.1 1171.5 L838.2 1123.1" stroke="#0072BD" stroke-width="5.5" fill="none" stroke-linejoin="round" stroke-linecap="butt"/>
<path d="M630.5 1202.9 L623.36 1205.86 L620.4 1213 L623.36 1220.14 L630.5 1223.1 L637.64 1220.14 L640.6 1213 L637.64 1205.86ZM657.9 1208.3 L650.76 1211.26 L647.8 1218.4 L650.76 1225.54 L657.9 1228.5 L665.04 1225.54 L668 1218.4 L665.04 1211.26ZM682 1202.9 L674.86 1205.86 L671.9 1213 L674.86 1220.14 L682 1223.1 L689.14 1220.14 L692.1 1213 L689.14 1205.86ZM701.6 1208.3 L694.46 1211.26 L691.5 1218.4 L694.46 1225.54 L701.6 1228.5 L708.74 1225.54 L711.7 1218.4 L708.74 1211.26ZM709.6 1203.1 L702.46 1206.06 L699.5 1213.2 L702.46 1220.34 L709.6 1223.3 L716.74 1220.34 L719.7 1213.2 L716.74 1206.06ZM717.9 1200.3 L710.76 1203.26 L707.8 1210.4 L710.76 1217.54 L717.9 1220.5 L725.04 1217.54 L728 1210.4 L725.04 1203.26ZM731.5 1203 L724.36 1205.96 L721.4 1213.1 L724.36 1220.24 L731.5 1223.2 L738.64 1220.24 L741.6 1213.1 L738.64 1205.96ZM753.4 1197.3 L746.26 1200.26 L743.3 1207.4 L746.26 1214.54 L753.4 1217.5 L760.54 1214.54 L763.5 1207.4 L760.54 1200.26ZM767.4 1189.2 L760.26 1192.16 L757.3 1199.3 L760.26 1206.44 L767.4 1209.4 L774.54 1206.44 L777.5 1199.3 L774.54 1192.16ZM791.6 1175 L784.46 1177.96 L781.5 1185.1 L784.46 1192.24 L791.6 1195.2 L798.74 1192.24 L801.7 1185.1 L798.74 1177.96ZM808.1 1161.4 L800.96 1164.36 L798 1171.5 L800.96 1178.64 L808.1 1181.6 L815.24 1178.64 L818.2 1171.5 L815.24 1164.36ZM838.2 1113 L831.06 1115.96 L828.1 1123.1 L831.06 1130.24 L838.2 1133.2 L845.34 1130.24 L848.3 1123.1 L845.34 1115.96Z" fill="#0072BD"/>
<path d="M731.5 1240.4 L780.7 1215.5 L824.5 1206.6 L857.6 1182.5 L884.6 1152.2 L909.3 1111.8 L925.4 1073.7 L939.2 1041.3 L950.1 1024.4 L955.9 1005.4" stroke="#D95319" stroke-width="5.5" fill="none" stroke-linejoin="round" stroke-linecap="butt"/>
<path d="M731.5 1230.3 L724.36 1233.26 L721.4 1240.4 L724.36 1247.54 L731.5 1250.5 L738.64 1247.54 L741.6 1240.4 L738.64 1233.26ZM780.7 1205.4 L773.56 1208.36 L770.6 1215.5 L773.56 1222.64 L780.7 1225.6 L787.84 1222.64 L790.8 1215.5 L787.84 1208.36ZM824.5 1196.5 L817.36 1199.46 L814.4 1206.6 L817.36 1213.74 L824.5 1216.7 L831.64 1213.74 L834.6 1206.6 L831.64 1199.46ZM857.6 1172.4 L850.46 1175.36 L847.5 1182.5 L850.46 1189.64 L857.6 1192.6 L864.74 1189.64 L867.7 1182.5 L864.74 1175.36ZM884.6 1142.1 L877.46 1145.06 L874.5 1152.2 L877.46 1159.34 L884.6 1162.3 L891.74 1159.34 L894.7 1152.2 L891.74 1145.06ZM909.3 1101.7 L902.16 1104.66 L899.2 1111.8 L902.16 1118.94 L909.3 1121.9 L916.44 1118.94 L919.4 1111.8 L916.44 1104.66ZM925.4 1063.6 L918.26 1066.56 L915.3 1073.7 L918.26 1080.84 L925.4 1083.8 L932.54 1080.84 L935.5 1073.7 L932.54 1066.56ZM939.2 1031.2 L932.06 1034.16 L929.1 1041.3 L932.06 1048.44 L939.2 1051.4 L946.34 1048.44 L949.3 1041.3 L946.34 1034.16ZM950.1 1014.3 L942.96 1017.26 L940 1024.4 L942.96 1031.54 L950.1 1034.5 L957.24 1031.54 L960.2 1024.4 L957.24 1017.26ZM955.9 995.3 L948.76 998.26 L945.8 1005.4 L948.76 1012.54 L955.9 1015.5 L963.04 1012.54 L966 1005.4 L963.04 998.26Z" fill="#D95319"/>
<path d="M623.6 1373V1366.4M623.6 995.9V1002.5M690.26 1373V1366.4M690.26 995.9V1002.5M756.92 1373V1366.4M756.92 995.9V1002.5M823.58 1373V1366.4M823.58 995.9V1002.5M890.24 1373V1366.4M890.24 995.9V1002.5M956.9 1373V1366.4M956.9 995.9V1002.5M643.67 1373V1368.3M643.67 995.9V1000.6M655.4 1373V1368.3M655.4 995.9V1000.6M663.73 1373V1368.3M663.73 995.9V1000.6M670.19 1373V1368.3M670.19 995.9V1000.6M675.47 1373V1368.3M675.47 995.9V1000.6M679.93 1373V1368.3M679.93 995.9V1000.6M683.8 1373V1368.3M683.8 995.9V1000.6M687.21 1373V1368.3M687.21 995.9V1000.6M710.33 1373V1368.3M710.33 995.9V1000.6M722.06 1373V1368.3M722.06 995.9V1000.6M730.39 1373V1368.3M730.39 995.9V1000.6M736.85 1373V1368.3M736.85 995.9V1000.6M742.13 1373V1368.3M742.13 995.9V1000.6M746.59 1373V1368.3M746.59 995.9V1000.6M750.46 1373V1368.3M750.46 995.9V1000.6M753.87 1373V1368.3M753.87 995.9V1000.6M776.99 1373V1368.3M776.99 995.9V1000.6M788.72 1373V1368.3M788.72 995.9V1000.6M797.05 1373V1368.3M797.05 995.9V1000.6M803.51 1373V1368.3M803.51 995.9V1000.6M808.79 1373V1368.3M808.79 995.9V1000.6M813.25 1373V1368.3M813.25 995.9V1000.6M817.12 1373V1368.3M817.12 995.9V1000.6M820.53 1373V1368.3M820.53 995.9V1000.6M843.65 1373V1368.3M843.65 995.9V1000.6M855.38 1373V1368.3M855.38 995.9V1000.6M863.71 1373V1368.3M863.71 995.9V1000.6M870.17 1373V1368.3M870.17 995.9V1000.6M875.45 1373V1368.3M875.45 995.9V1000.6M879.91 1373V1368.3M879.91 995.9V1000.6M883.78 1373V1368.3M883.78 995.9V1000.6M887.19 1373V1368.3M887.19 995.9V1000.6M910.31 1373V1368.3M910.31 995.9V1000.6M922.04 1373V1368.3M922.04 995.9V1000.6M930.37 1373V1368.3M930.37 995.9V1000.6M936.83 1373V1368.3M936.83 995.9V1000.6M942.11 1373V1368.3M942.11 995.9V1000.6M946.57 1373V1368.3M946.57 995.9V1000.6M950.44 1373V1368.3M950.44 995.9V1000.6M953.85 1373V1368.3M953.85 995.9V1000.6M623.6 1373H630.2M956.9 1373H950.3M623.6 1265.26H630.2M956.9 1265.26H950.3M623.6 1157.51H630.2M956.9 1157.51H950.3M623.6 1049.77H630.2M956.9 1049.77H950.3M623.6 1319.13H628.3M956.9 1319.13H952.2M623.6 1211.39H628.3M956.9 1211.39H952.2M623.6 1103.64H628.3M956.9 1103.64H952.2" stroke="#262626" stroke-width="5.0" fill="none"/>
<rect x="623.6" y="995.9" width="333.3" height="377.1" stroke="#262626" stroke-width="5.0" fill="none" stroke-linejoin="miter"/>
<text x="538.54" y="1060.97" font-size="41" text-anchor="start" fill="#3b3b3b">300</text>
<text x="538.04" y="1168.71" font-size="41" text-anchor="start" fill="#3b3b3b">200</text>
<path transform="translate(535.92 1276.46) scale(0.04100 -0.04100)" d="M266 0L349 0L349 688L285 688C270 620 220 565 102 556L102 493L266 493Z" fill="#3b3b3b"/>
<text x="558.72" y="1276.46" font-size="41" fill="#3b3b3b">00</text>
<text x="586.4" y="1384.2" font-size="41" text-anchor="start" fill="#3b3b3b">0</text>
<path transform="translate(586.13 1432.8) scale(0.04100 -0.04100)" d="M266 0L349 0L349 688L285 688C270 620 220 565 102 556L102 493L266 493Z" fill="#3b3b3b"/>
<text x="608.93" y="1432.8" font-size="41" fill="#3b3b3b">0</text>
<text x="631.73" y="1413.5" font-size="33" text-anchor="start" fill="#3b3b3b">-3</text>
<path transform="translate(652.79 1432.8) scale(0.04100 -0.04100)" d="M266 0L349 0L349 688L285 688C270 620 220 565 102 556L102 493L266 493Z" fill="#3b3b3b"/>
<text x="675.59" y="1432.8" font-size="41" fill="#3b3b3b">0</text>
<text x="698.39" y="1413.5" font-size="33" text-anchor="start" fill="#3b3b3b">-2</text>
<path transform="translate(719.45 1432.8) scale(0.04100 -0.04100)" d="M266 0L349 0L349 688L285 688C270 620 220 565 102 556L102 493L266 493Z" fill="#3b3b3b"/>
<text x="742.25" y="1432.8" font-size="41" fill="#3b3b3b">0</text>
<text x="765.05" y="1413.5" font-size="33" fill="#3b3b3b">-</text>
<path transform="translate(776.04 1413.5) scale(0.03300 -0.03300)" d="M266 0L349 0L349 688L285 688C270 620 220 565 102 556L102 493L266 493Z" fill="#3b3b3b"/>
<path transform="translate(791.6 1432.8) scale(0.04100 -0.04100)" d="M266 0L349 0L349 688L285 688C270 620 220 565 102 556L102 493L266 493Z" fill="#3b3b3b"/>
<text x="814.4" y="1432.8" font-size="41" fill="#3b3b3b">0</text>
<text x="837.21" y="1413.5" font-size="33" text-anchor="start" fill="#3b3b3b">0</text>
<path transform="translate(858.26 1432.8) scale(0.04100 -0.04100)" d="M266 0L349 0L349 688L285 688C270 620 220 565 102 556L102 493L266 493Z" fill="#3b3b3b"/>
<text x="881.06" y="1432.8" font-size="41" fill="#3b3b3b">0</text>
<path transform="translate(903.87 1413.5) scale(0.03300 -0.03300)" d="M266 0L349 0L349 688L285 688C270 620 220 565 102 556L102 493L266 493Z" fill="#3b3b3b"/>
<path transform="translate(924.92 1432.8) scale(0.04100 -0.04100)" d="M266 0L349 0L349 688L285 688C270 620 220 565 102 556L102 493L266 493Z" fill="#3b3b3b"/>
<text x="947.72" y="1432.8" font-size="41" fill="#3b3b3b">0</text>
<text x="970.53" y="1413.5" font-size="33" text-anchor="start" fill="#3b3b3b">2</text>
<text x="669.41" y="1481.9" font-size="45" fill="#3b3b3b" textLength="124.54" lengthAdjust="spacing">Power</text>
<text x="805.41" y="1481.9" font-size="45" text-anchor="start" fill="#3b3b3b">(</text>
<text x="819.85" y="1481.9" font-size="50" fill="#3b3b3b" font-family="Liberation Serif">μ</text>
<text x="849.3" y="1481.9" font-size="45" fill="#3b3b3b" textLength="55.99" lengthAdjust="spacing">W)</text>
<text transform="translate(519.6 1327.57) rotate(-90)" x="0" y="0" font-size="46.3" fill="#3b3b3b" textLength="285.54" lengthAdjust="spacing">e- Temp (mK)</text>
<text x="647.7" y="1043.7" font-size="41" text-anchor="start" fill="#000">(e)</text>
</svg></body></html>
